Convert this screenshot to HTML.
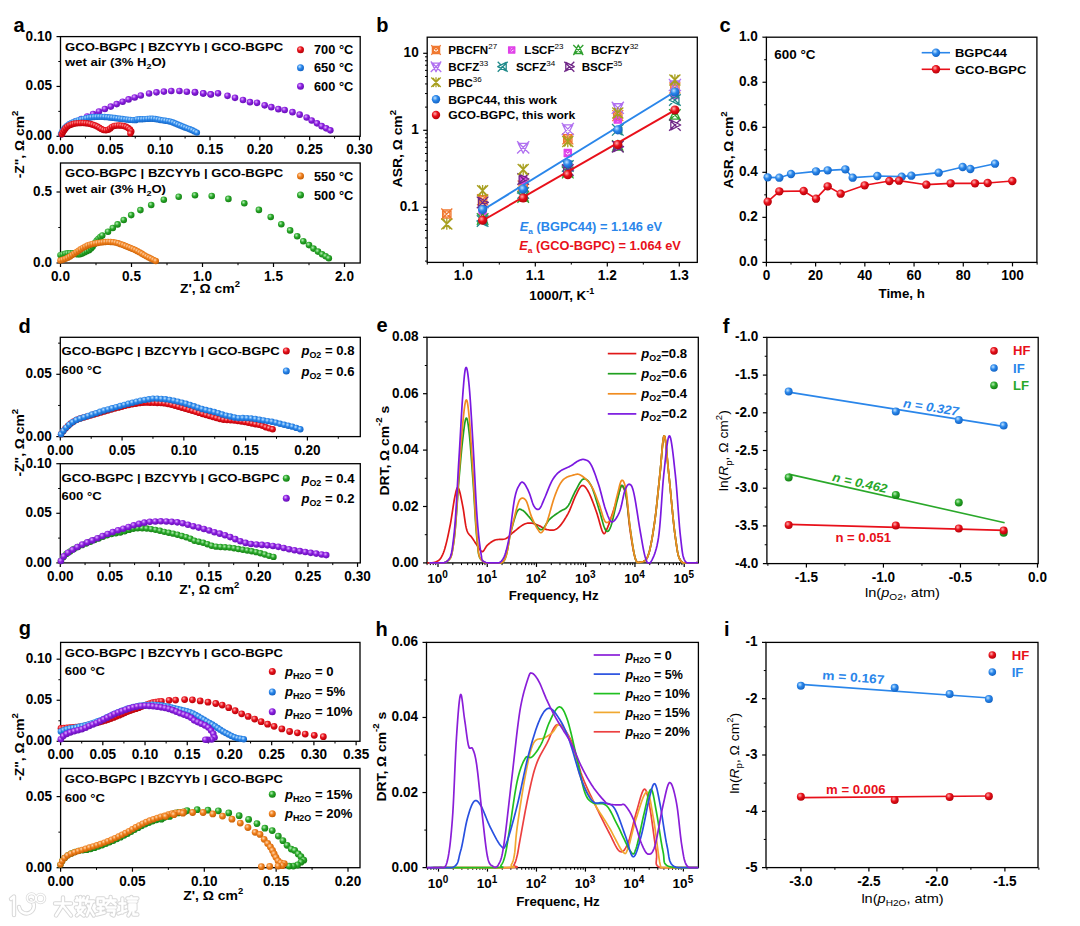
<!DOCTYPE html>
<html><head><meta charset="utf-8"><style>html,body{margin:0;padding:0;background:#fff;width:1080px;height:926px;overflow:hidden}svg{display:block}</style></head>
<body><svg width="1080" height="926" viewBox="0 0 1080 926" font-family="'Liberation Sans', sans-serif">
<rect width="1080" height="926" fill="#fff"/>
<defs><radialGradient id="g_red" cx="0.38" cy="0.35" r="0.7"><stop offset="0" stop-color="#ffb0b0"/><stop offset="0.45" stop-color="#e8101a"/><stop offset="1" stop-color="#b00008"/></radialGradient><radialGradient id="g_blue" cx="0.38" cy="0.35" r="0.7"><stop offset="0" stop-color="#c0e4ff"/><stop offset="0.45" stop-color="#2a86ea"/><stop offset="1" stop-color="#1060c0"/></radialGradient><radialGradient id="g_purple" cx="0.38" cy="0.35" r="0.7"><stop offset="0" stop-color="#e0b0ff"/><stop offset="0.45" stop-color="#8c1ee0"/><stop offset="1" stop-color="#6010b0"/></radialGradient><radialGradient id="g_green" cx="0.38" cy="0.35" r="0.7"><stop offset="0" stop-color="#b8f0b8"/><stop offset="0.45" stop-color="#2aa82a"/><stop offset="1" stop-color="#107a10"/></radialGradient><radialGradient id="g_orange" cx="0.38" cy="0.35" r="0.7"><stop offset="0" stop-color="#ffd8b0"/><stop offset="0.45" stop-color="#f0801e"/><stop offset="1" stop-color="#c05a00"/></radialGradient></defs>
<text transform="translate(13.50 32.00)" font-size="20" text-anchor="start" font-weight="bold" fill="#000">a</text>
<rect x="60.5" y="36.6" width="299.7" height="99.70000000000002" fill="none" stroke="#000" stroke-width="1.3"/>
<line x1="60.50" y1="136.3" x2="60.50" y2="140.3" stroke="#000" stroke-width="1.2"/>
<text transform="translate(60.50 154.30) scale(0.97 1)" font-size="14" text-anchor="middle" font-weight="bold" fill="#000">0.00</text>
<line x1="110.33" y1="136.3" x2="110.33" y2="140.3" stroke="#000" stroke-width="1.2"/>
<text transform="translate(110.33 154.30) scale(0.97 1)" font-size="14" text-anchor="middle" font-weight="bold" fill="#000">0.05</text>
<line x1="160.17" y1="136.3" x2="160.17" y2="140.3" stroke="#000" stroke-width="1.2"/>
<text transform="translate(160.17 154.30) scale(0.97 1)" font-size="14" text-anchor="middle" font-weight="bold" fill="#000">0.10</text>
<line x1="210.00" y1="136.3" x2="210.00" y2="140.3" stroke="#000" stroke-width="1.2"/>
<text transform="translate(210.00 154.30) scale(0.97 1)" font-size="14" text-anchor="middle" font-weight="bold" fill="#000">0.15</text>
<line x1="259.83" y1="136.3" x2="259.83" y2="140.3" stroke="#000" stroke-width="1.2"/>
<text transform="translate(259.83 154.30) scale(0.97 1)" font-size="14" text-anchor="middle" font-weight="bold" fill="#000">0.20</text>
<line x1="309.67" y1="136.3" x2="309.67" y2="140.3" stroke="#000" stroke-width="1.2"/>
<text transform="translate(309.67 154.30) scale(0.97 1)" font-size="14" text-anchor="middle" font-weight="bold" fill="#000">0.25</text>
<line x1="359.50" y1="136.3" x2="359.50" y2="140.3" stroke="#000" stroke-width="1.2"/>
<text transform="translate(359.50 154.30) scale(0.97 1)" font-size="14" text-anchor="middle" font-weight="bold" fill="#000">0.30</text>
<line x1="85.42" y1="136.3" x2="85.42" y2="138.5" stroke="#000" stroke-width="1"/>
<line x1="135.25" y1="136.3" x2="135.25" y2="138.5" stroke="#000" stroke-width="1"/>
<line x1="185.08" y1="136.3" x2="185.08" y2="138.5" stroke="#000" stroke-width="1"/>
<line x1="234.92" y1="136.3" x2="234.92" y2="138.5" stroke="#000" stroke-width="1"/>
<line x1="284.75" y1="136.3" x2="284.75" y2="138.5" stroke="#000" stroke-width="1"/>
<line x1="334.58" y1="136.3" x2="334.58" y2="138.5" stroke="#000" stroke-width="1"/>
<line x1="60.5" y1="136.30" x2="56.5" y2="136.30" stroke="#000" stroke-width="1.2"/>
<text transform="translate(52.00 140.30) scale(0.97 1)" font-size="14" text-anchor="end" font-weight="bold" fill="#000">0.00</text>
<line x1="60.5" y1="86.45" x2="56.5" y2="86.45" stroke="#000" stroke-width="1.2"/>
<text transform="translate(52.00 90.45) scale(0.97 1)" font-size="14" text-anchor="end" font-weight="bold" fill="#000">0.05</text>
<line x1="60.5" y1="36.60" x2="56.5" y2="36.60" stroke="#000" stroke-width="1.2"/>
<text transform="translate(52.00 40.60) scale(0.97 1)" font-size="14" text-anchor="end" font-weight="bold" fill="#000">0.10</text>
<line x1="60.5" y1="111.38" x2="58.3" y2="111.38" stroke="#000" stroke-width="1"/>
<line x1="60.5" y1="61.53" x2="58.3" y2="61.53" stroke="#000" stroke-width="1"/>
<text transform="translate(65.00 50.50) scale(1.12 1)" font-size="11.7" text-anchor="start" font-weight="bold" fill="#000">GCO-BGPC | BZCYYb | GCO-BGPC</text>
<text transform="translate(65.00 66.00) scale(1.12 1)" font-size="11.7" text-anchor="start" font-weight="bold" fill="#000">wet air (3% H<tspan font-size="8" dy="3">2</tspan><tspan dy="-3">O)</tspan></text>
<circle cx="300.50" cy="49.70" r="3.5" fill="url(#g_red)"/>
<text transform="translate(314.00 54.20)" font-size="12.8" text-anchor="start" font-weight="bold" fill="#000">700 °C</text>
<circle cx="300.50" cy="67.70" r="3.5" fill="url(#g_blue)"/>
<text transform="translate(314.00 72.20)" font-size="12.8" text-anchor="start" font-weight="bold" fill="#000">650 °C</text>
<circle cx="300.50" cy="86.30" r="3.5" fill="url(#g_purple)"/>
<text transform="translate(314.00 90.80)" font-size="12.8" text-anchor="start" font-weight="bold" fill="#000">600 °C</text>
<circle cx="61.70" cy="134.30" r="3.3" fill="url(#g_purple)"/>
<circle cx="65.08" cy="128.87" r="3.3" fill="url(#g_purple)"/>
<circle cx="69.82" cy="124.63" r="3.3" fill="url(#g_purple)"/>
<circle cx="75.44" cy="121.60" r="3.3" fill="url(#g_purple)"/>
<circle cx="81.33" cy="119.09" r="3.3" fill="url(#g_purple)"/>
<circle cx="87.21" cy="116.55" r="3.3" fill="url(#g_purple)"/>
<circle cx="93.05" cy="113.95" r="3.3" fill="url(#g_purple)"/>
<circle cx="98.94" cy="111.45" r="3.3" fill="url(#g_purple)"/>
<circle cx="104.87" cy="109.03" r="3.3" fill="url(#g_purple)"/>
<circle cx="110.78" cy="106.58" r="3.3" fill="url(#g_purple)"/>
<circle cx="116.69" cy="104.11" r="3.3" fill="url(#g_purple)"/>
<circle cx="122.62" cy="101.71" r="3.3" fill="url(#g_purple)"/>
<circle cx="128.59" cy="99.40" r="3.3" fill="url(#g_purple)"/>
<circle cx="134.69" cy="97.46" r="3.3" fill="url(#g_purple)"/>
<circle cx="140.79" cy="95.53" r="3.3" fill="url(#g_purple)"/>
<circle cx="149.07" cy="93.52" r="3.3" fill="url(#g_purple)"/>
<circle cx="156.48" cy="92.33" r="3.3" fill="url(#g_purple)"/>
<circle cx="163.89" cy="91.59" r="3.3" fill="url(#g_purple)"/>
<circle cx="171.30" cy="91.00" r="3.3" fill="url(#g_purple)"/>
<circle cx="179.44" cy="91.00" r="3.3" fill="url(#g_purple)"/>
<circle cx="186.85" cy="91.74" r="3.3" fill="url(#g_purple)"/>
<circle cx="195.00" cy="92.48" r="3.3" fill="url(#g_purple)"/>
<circle cx="203.15" cy="93.52" r="3.3" fill="url(#g_purple)"/>
<circle cx="210.56" cy="94.26" r="3.3" fill="url(#g_purple)"/>
<circle cx="195.00" cy="92.17" r="3.3" fill="url(#g_purple)"/>
<circle cx="203.33" cy="93.33" r="3.3" fill="url(#g_purple)"/>
<circle cx="210.83" cy="94.50" r="3.3" fill="url(#g_purple)"/>
<circle cx="218.00" cy="93.33" r="3.3" fill="url(#g_purple)"/>
<circle cx="227.50" cy="95.83" r="3.3" fill="url(#g_purple)"/>
<circle cx="235.00" cy="97.83" r="3.3" fill="url(#g_purple)"/>
<circle cx="243.00" cy="100.00" r="3.3" fill="url(#g_purple)"/>
<circle cx="250.00" cy="102.17" r="3.3" fill="url(#g_purple)"/>
<circle cx="257.00" cy="102.83" r="3.3" fill="url(#g_purple)"/>
<circle cx="264.67" cy="105.33" r="3.3" fill="url(#g_purple)"/>
<circle cx="271.33" cy="107.17" r="3.3" fill="url(#g_purple)"/>
<circle cx="278.33" cy="109.17" r="3.3" fill="url(#g_purple)"/>
<circle cx="284.67" cy="110.00" r="3.3" fill="url(#g_purple)"/>
<circle cx="292.50" cy="112.17" r="3.3" fill="url(#g_purple)"/>
<circle cx="299.67" cy="114.67" r="3.3" fill="url(#g_purple)"/>
<circle cx="306.67" cy="117.50" r="3.3" fill="url(#g_purple)"/>
<circle cx="311.67" cy="120.50" r="3.3" fill="url(#g_purple)"/>
<circle cx="317.00" cy="123.33" r="3.3" fill="url(#g_purple)"/>
<circle cx="321.67" cy="126.17" r="3.3" fill="url(#g_purple)"/>
<circle cx="326.17" cy="128.33" r="3.3" fill="url(#g_purple)"/>
<circle cx="330.33" cy="130.33" r="3.3" fill="url(#g_purple)"/>
<circle cx="61.00" cy="134.00" r="3.2" fill="url(#g_blue)"/>
<circle cx="62.20" cy="131.70" r="3.2" fill="url(#g_blue)"/>
<circle cx="63.59" cy="129.50" r="3.2" fill="url(#g_blue)"/>
<circle cx="65.33" cy="127.57" r="3.2" fill="url(#g_blue)"/>
<circle cx="67.24" cy="125.81" r="3.2" fill="url(#g_blue)"/>
<circle cx="69.31" cy="124.23" r="3.2" fill="url(#g_blue)"/>
<circle cx="71.55" cy="122.91" r="3.2" fill="url(#g_blue)"/>
<circle cx="73.91" cy="121.84" r="3.2" fill="url(#g_blue)"/>
<circle cx="76.34" cy="120.91" r="3.2" fill="url(#g_blue)"/>
<circle cx="78.81" cy="120.09" r="3.2" fill="url(#g_blue)"/>
<circle cx="81.32" cy="119.44" r="3.2" fill="url(#g_blue)"/>
<circle cx="83.86" cy="118.87" r="3.2" fill="url(#g_blue)"/>
<circle cx="86.39" cy="118.26" r="3.2" fill="url(#g_blue)"/>
<circle cx="88.92" cy="117.66" r="3.2" fill="url(#g_blue)"/>
<circle cx="91.49" cy="117.25" r="3.2" fill="url(#g_blue)"/>
<circle cx="94.08" cy="117.04" r="3.2" fill="url(#g_blue)"/>
<circle cx="96.67" cy="116.91" r="3.2" fill="url(#g_blue)"/>
<circle cx="99.27" cy="116.85" r="3.2" fill="url(#g_blue)"/>
<circle cx="101.87" cy="116.87" r="3.2" fill="url(#g_blue)"/>
<circle cx="104.47" cy="116.97" r="3.2" fill="url(#g_blue)"/>
<circle cx="107.06" cy="117.17" r="3.2" fill="url(#g_blue)"/>
<circle cx="109.65" cy="117.45" r="3.2" fill="url(#g_blue)"/>
<circle cx="112.23" cy="117.76" r="3.2" fill="url(#g_blue)"/>
<circle cx="114.81" cy="118.06" r="3.2" fill="url(#g_blue)"/>
<circle cx="117.39" cy="118.38" r="3.2" fill="url(#g_blue)"/>
<circle cx="119.97" cy="118.72" r="3.2" fill="url(#g_blue)"/>
<circle cx="122.55" cy="119.06" r="3.2" fill="url(#g_blue)"/>
<circle cx="125.13" cy="119.37" r="3.2" fill="url(#g_blue)"/>
<circle cx="127.71" cy="119.64" r="3.2" fill="url(#g_blue)"/>
<circle cx="130.30" cy="119.89" r="3.2" fill="url(#g_blue)"/>
<circle cx="132.89" cy="120.10" r="3.2" fill="url(#g_blue)"/>
<circle cx="135.49" cy="120.17" r="3.2" fill="url(#g_blue)"/>
<circle cx="136.98" cy="119.35" r="3.2" fill="url(#g_blue)"/>
<circle cx="139.58" cy="119.27" r="3.2" fill="url(#g_blue)"/>
<circle cx="142.18" cy="119.21" r="3.2" fill="url(#g_blue)"/>
<circle cx="144.78" cy="119.10" r="3.2" fill="url(#g_blue)"/>
<circle cx="147.37" cy="118.89" r="3.2" fill="url(#g_blue)"/>
<circle cx="149.96" cy="118.71" r="3.2" fill="url(#g_blue)"/>
<circle cx="152.56" cy="118.69" r="3.2" fill="url(#g_blue)"/>
<circle cx="155.14" cy="118.96" r="3.2" fill="url(#g_blue)"/>
<circle cx="157.70" cy="119.42" r="3.2" fill="url(#g_blue)"/>
<circle cx="160.25" cy="119.93" r="3.2" fill="url(#g_blue)"/>
<circle cx="162.82" cy="120.36" r="3.2" fill="url(#g_blue)"/>
<circle cx="165.39" cy="120.72" r="3.2" fill="url(#g_blue)"/>
<circle cx="167.96" cy="121.11" r="3.2" fill="url(#g_blue)"/>
<circle cx="170.50" cy="121.65" r="3.2" fill="url(#g_blue)"/>
<circle cx="172.97" cy="122.48" r="3.2" fill="url(#g_blue)"/>
<circle cx="175.36" cy="123.50" r="3.2" fill="url(#g_blue)"/>
<circle cx="177.74" cy="124.54" r="3.2" fill="url(#g_blue)"/>
<circle cx="180.15" cy="125.51" r="3.2" fill="url(#g_blue)"/>
<circle cx="182.56" cy="126.48" r="3.2" fill="url(#g_blue)"/>
<circle cx="184.98" cy="127.44" r="3.2" fill="url(#g_blue)"/>
<circle cx="187.42" cy="128.35" r="3.2" fill="url(#g_blue)"/>
<circle cx="189.86" cy="129.23" r="3.2" fill="url(#g_blue)"/>
<circle cx="192.25" cy="130.25" r="3.2" fill="url(#g_blue)"/>
<circle cx="194.58" cy="131.41" r="3.2" fill="url(#g_blue)"/>
<circle cx="196.89" cy="132.61" r="3.2" fill="url(#g_blue)"/>
<circle cx="61.70" cy="134.30" r="3.2" fill="url(#g_red)"/>
<circle cx="62.91" cy="132.23" r="3.2" fill="url(#g_red)"/>
<circle cx="64.14" cy="130.17" r="3.2" fill="url(#g_red)"/>
<circle cx="65.54" cy="128.22" r="3.2" fill="url(#g_red)"/>
<circle cx="67.29" cy="126.59" r="3.2" fill="url(#g_red)"/>
<circle cx="69.35" cy="125.36" r="3.2" fill="url(#g_red)"/>
<circle cx="71.57" cy="124.45" r="3.2" fill="url(#g_red)"/>
<circle cx="73.87" cy="123.78" r="3.2" fill="url(#g_red)"/>
<circle cx="76.23" cy="123.37" r="3.2" fill="url(#g_red)"/>
<circle cx="78.62" cy="123.14" r="3.2" fill="url(#g_red)"/>
<circle cx="81.02" cy="123.04" r="3.2" fill="url(#g_red)"/>
<circle cx="83.42" cy="123.05" r="3.2" fill="url(#g_red)"/>
<circle cx="85.82" cy="123.18" r="3.2" fill="url(#g_red)"/>
<circle cx="88.20" cy="123.48" r="3.2" fill="url(#g_red)"/>
<circle cx="90.54" cy="124.00" r="3.2" fill="url(#g_red)"/>
<circle cx="92.84" cy="124.69" r="3.2" fill="url(#g_red)"/>
<circle cx="95.09" cy="125.52" r="3.2" fill="url(#g_red)"/>
<circle cx="97.29" cy="126.47" r="3.2" fill="url(#g_red)"/>
<circle cx="99.35" cy="127.70" r="3.2" fill="url(#g_red)"/>
<circle cx="101.38" cy="128.99" r="3.2" fill="url(#g_red)"/>
<circle cx="103.57" cy="129.94" r="3.2" fill="url(#g_red)"/>
<circle cx="105.94" cy="130.26" r="3.2" fill="url(#g_red)"/>
<circle cx="108.29" cy="129.80" r="3.2" fill="url(#g_red)"/>
<circle cx="110.23" cy="128.43" r="3.2" fill="url(#g_red)"/>
<circle cx="112.04" cy="126.85" r="3.2" fill="url(#g_red)"/>
<circle cx="114.23" cy="125.91" r="3.2" fill="url(#g_red)"/>
<circle cx="116.60" cy="125.60" r="3.2" fill="url(#g_red)"/>
<circle cx="119.00" cy="125.54" r="3.2" fill="url(#g_red)"/>
<circle cx="121.40" cy="125.67" r="3.2" fill="url(#g_red)"/>
<circle cx="123.76" cy="126.06" r="3.2" fill="url(#g_red)"/>
<circle cx="126.04" cy="126.81" r="3.2" fill="url(#g_red)"/>
<circle cx="128.15" cy="127.95" r="3.2" fill="url(#g_red)"/>
<circle cx="130.00" cy="129.47" r="3.2" fill="url(#g_red)"/>
<circle cx="131.33" cy="131.44" r="3.2" fill="url(#g_red)"/>
<circle cx="130.37" cy="133.56" r="3.2" fill="url(#g_red)"/>
<rect x="60.5" y="163.0" width="299.7" height="100.0" fill="none" stroke="#000" stroke-width="1.3"/>
<line x1="60.50" y1="263.0" x2="60.50" y2="267.0" stroke="#000" stroke-width="1.2"/>
<text transform="translate(60.50 281.00) scale(0.97 1)" font-size="14" text-anchor="middle" font-weight="bold" fill="#000">0.0</text>
<line x1="131.50" y1="263.0" x2="131.50" y2="267.0" stroke="#000" stroke-width="1.2"/>
<text transform="translate(131.50 281.00) scale(0.97 1)" font-size="14" text-anchor="middle" font-weight="bold" fill="#000">0.5</text>
<line x1="202.50" y1="263.0" x2="202.50" y2="267.0" stroke="#000" stroke-width="1.2"/>
<text transform="translate(202.50 281.00) scale(0.97 1)" font-size="14" text-anchor="middle" font-weight="bold" fill="#000">1.0</text>
<line x1="273.50" y1="263.0" x2="273.50" y2="267.0" stroke="#000" stroke-width="1.2"/>
<text transform="translate(273.50 281.00) scale(0.97 1)" font-size="14" text-anchor="middle" font-weight="bold" fill="#000">1.5</text>
<line x1="344.50" y1="263.0" x2="344.50" y2="267.0" stroke="#000" stroke-width="1.2"/>
<text transform="translate(344.50 281.00) scale(0.97 1)" font-size="14" text-anchor="middle" font-weight="bold" fill="#000">2.0</text>
<line x1="96.00" y1="263.0" x2="96.00" y2="265.2" stroke="#000" stroke-width="1"/>
<line x1="167.00" y1="263.0" x2="167.00" y2="265.2" stroke="#000" stroke-width="1"/>
<line x1="238.00" y1="263.0" x2="238.00" y2="265.2" stroke="#000" stroke-width="1"/>
<line x1="309.00" y1="263.0" x2="309.00" y2="265.2" stroke="#000" stroke-width="1"/>
<line x1="60.5" y1="263.00" x2="56.5" y2="263.00" stroke="#000" stroke-width="1.2"/>
<text transform="translate(52.00 267.00) scale(0.97 1)" font-size="14" text-anchor="end" font-weight="bold" fill="#000">0.0</text>
<line x1="60.5" y1="192.00" x2="56.5" y2="192.00" stroke="#000" stroke-width="1.2"/>
<text transform="translate(52.00 196.00) scale(0.97 1)" font-size="14" text-anchor="end" font-weight="bold" fill="#000">0.5</text>
<line x1="60.5" y1="227.50" x2="58.3" y2="227.50" stroke="#000" stroke-width="1"/>
<text transform="translate(65.00 177.00) scale(1.12 1)" font-size="11.7" text-anchor="start" font-weight="bold" fill="#000">GCO-BGPC | BZCYYb | GCO-BGPC</text>
<text transform="translate(65.00 193.00) scale(1.12 1)" font-size="11.7" text-anchor="start" font-weight="bold" fill="#000">wet air (3% H<tspan font-size="8" dy="3">2</tspan><tspan dy="-3">O)</tspan></text>
<circle cx="300.50" cy="176.00" r="3.5" fill="url(#g_orange)"/>
<text transform="translate(314.00 180.50)" font-size="12.8" text-anchor="start" font-weight="bold" fill="#000">550 °C</text>
<circle cx="300.50" cy="195.00" r="3.5" fill="url(#g_green)"/>
<text transform="translate(314.00 199.50)" font-size="12.8" text-anchor="start" font-weight="bold" fill="#000">500 °C</text>
<circle cx="60.40" cy="255.10" r="3.2" fill="url(#g_green)"/>
<circle cx="62.79" cy="254.36" r="3.2" fill="url(#g_green)"/>
<circle cx="65.19" cy="253.68" r="3.2" fill="url(#g_green)"/>
<circle cx="67.65" cy="253.22" r="3.2" fill="url(#g_green)"/>
<circle cx="70.14" cy="253.11" r="3.2" fill="url(#g_green)"/>
<circle cx="72.64" cy="253.26" r="3.2" fill="url(#g_green)"/>
<circle cx="75.08" cy="253.77" r="3.2" fill="url(#g_green)"/>
<circle cx="77.49" cy="254.42" r="3.2" fill="url(#g_green)"/>
<circle cx="79.97" cy="254.33" r="3.2" fill="url(#g_green)"/>
<circle cx="82.31" cy="253.45" r="3.2" fill="url(#g_green)"/>
<circle cx="84.54" cy="252.33" r="3.2" fill="url(#g_green)"/>
<circle cx="86.80" cy="251.27" r="3.2" fill="url(#g_green)"/>
<circle cx="89.03" cy="250.13" r="3.2" fill="url(#g_green)"/>
<circle cx="91.00" cy="248.60" r="3.2" fill="url(#g_green)"/>
<circle cx="92.60" cy="246.68" r="3.2" fill="url(#g_green)"/>
<circle cx="93.98" cy="244.60" r="3.2" fill="url(#g_green)"/>
<circle cx="95.34" cy="242.50" r="3.2" fill="url(#g_green)"/>
<circle cx="96.79" cy="240.47" r="3.2" fill="url(#g_green)"/>
<circle cx="98.50" cy="238.64" r="3.2" fill="url(#g_green)"/>
<circle cx="100.36" cy="236.97" r="3.2" fill="url(#g_green)"/>
<circle cx="102.29" cy="235.38" r="3.2" fill="url(#g_green)"/>
<circle cx="108.00" cy="231.70" r="3.3" fill="url(#g_green)"/>
<circle cx="112.80" cy="228.00" r="3.3" fill="url(#g_green)"/>
<circle cx="117.60" cy="224.40" r="3.3" fill="url(#g_green)"/>
<circle cx="123.70" cy="220.00" r="3.3" fill="url(#g_green)"/>
<circle cx="131.20" cy="215.10" r="3.3" fill="url(#g_green)"/>
<circle cx="140.40" cy="210.10" r="3.3" fill="url(#g_green)"/>
<circle cx="151.20" cy="205.00" r="3.3" fill="url(#g_green)"/>
<circle cx="163.80" cy="199.70" r="3.3" fill="url(#g_green)"/>
<circle cx="178.70" cy="196.80" r="3.3" fill="url(#g_green)"/>
<circle cx="195.00" cy="195.20" r="3.3" fill="url(#g_green)"/>
<circle cx="211.70" cy="196.00" r="3.3" fill="url(#g_green)"/>
<circle cx="228.40" cy="198.90" r="3.3" fill="url(#g_green)"/>
<circle cx="244.30" cy="203.30" r="3.3" fill="url(#g_green)"/>
<circle cx="258.90" cy="209.90" r="3.3" fill="url(#g_green)"/>
<circle cx="270.70" cy="217.00" r="3.3" fill="url(#g_green)"/>
<circle cx="281.30" cy="224.30" r="3.3" fill="url(#g_green)"/>
<circle cx="290.10" cy="230.40" r="3.3" fill="url(#g_green)"/>
<circle cx="297.20" cy="236.30" r="3.3" fill="url(#g_green)"/>
<circle cx="303.30" cy="241.20" r="3.3" fill="url(#g_green)"/>
<circle cx="309.00" cy="245.10" r="3.3" fill="url(#g_green)"/>
<circle cx="313.50" cy="248.60" r="3.3" fill="url(#g_green)"/>
<circle cx="318.00" cy="251.60" r="3.3" fill="url(#g_green)"/>
<circle cx="322.10" cy="254.30" r="3.3" fill="url(#g_green)"/>
<circle cx="325.70" cy="256.30" r="3.3" fill="url(#g_green)"/>
<circle cx="328.80" cy="258.30" r="3.3" fill="url(#g_green)"/>
<circle cx="60.42" cy="260.54" r="3.2" fill="url(#g_orange)"/>
<circle cx="62.88" cy="259.72" r="3.2" fill="url(#g_orange)"/>
<circle cx="65.33" cy="258.85" r="3.2" fill="url(#g_orange)"/>
<circle cx="67.71" cy="257.80" r="3.2" fill="url(#g_orange)"/>
<circle cx="69.97" cy="256.51" r="3.2" fill="url(#g_orange)"/>
<circle cx="72.16" cy="255.11" r="3.2" fill="url(#g_orange)"/>
<circle cx="74.32" cy="253.67" r="3.2" fill="url(#g_orange)"/>
<circle cx="76.43" cy="252.15" r="3.2" fill="url(#g_orange)"/>
<circle cx="78.56" cy="250.65" r="3.2" fill="url(#g_orange)"/>
<circle cx="80.74" cy="249.24" r="3.2" fill="url(#g_orange)"/>
<circle cx="82.95" cy="247.87" r="3.2" fill="url(#g_orange)"/>
<circle cx="85.23" cy="246.63" r="3.2" fill="url(#g_orange)"/>
<circle cx="87.60" cy="245.55" r="3.2" fill="url(#g_orange)"/>
<circle cx="90.03" cy="244.64" r="3.2" fill="url(#g_orange)"/>
<circle cx="92.53" cy="243.92" r="3.2" fill="url(#g_orange)"/>
<circle cx="95.08" cy="243.43" r="3.2" fill="url(#g_orange)"/>
<circle cx="97.65" cy="243.00" r="3.2" fill="url(#g_orange)"/>
<circle cx="100.22" cy="242.61" r="3.2" fill="url(#g_orange)"/>
<circle cx="102.80" cy="242.29" r="3.2" fill="url(#g_orange)"/>
<circle cx="105.38" cy="242.04" r="3.2" fill="url(#g_orange)"/>
<circle cx="107.98" cy="241.89" r="3.2" fill="url(#g_orange)"/>
<circle cx="110.58" cy="241.94" r="3.2" fill="url(#g_orange)"/>
<circle cx="113.17" cy="242.17" r="3.2" fill="url(#g_orange)"/>
<circle cx="115.73" cy="242.61" r="3.2" fill="url(#g_orange)"/>
<circle cx="118.24" cy="243.30" r="3.2" fill="url(#g_orange)"/>
<circle cx="120.70" cy="244.13" r="3.2" fill="url(#g_orange)"/>
<circle cx="123.14" cy="245.03" r="3.2" fill="url(#g_orange)"/>
<circle cx="125.54" cy="246.02" r="3.2" fill="url(#g_orange)"/>
<circle cx="127.95" cy="247.00" r="3.2" fill="url(#g_orange)"/>
<circle cx="130.38" cy="247.93" r="3.2" fill="url(#g_orange)"/>
<circle cx="132.78" cy="248.92" r="3.2" fill="url(#g_orange)"/>
<circle cx="135.14" cy="250.01" r="3.2" fill="url(#g_orange)"/>
<circle cx="137.47" cy="251.17" r="3.2" fill="url(#g_orange)"/>
<circle cx="139.75" cy="252.41" r="3.2" fill="url(#g_orange)"/>
<circle cx="141.98" cy="253.76" r="3.2" fill="url(#g_orange)"/>
<circle cx="144.19" cy="255.12" r="3.2" fill="url(#g_orange)"/>
<circle cx="146.47" cy="256.37" r="3.2" fill="url(#g_orange)"/>
<circle cx="148.80" cy="257.53" r="3.2" fill="url(#g_orange)"/>
<circle cx="151.13" cy="258.67" r="3.2" fill="url(#g_orange)"/>
<circle cx="153.46" cy="259.83" r="3.2" fill="url(#g_orange)"/>
<circle cx="155.79" cy="260.99" r="3.2" fill="url(#g_orange)"/>
<text transform="translate(24.30 144.50) scale(1.04 1) rotate(-90) scale(1.065 1)" font-size="13" text-anchor="middle" font-weight="bold" fill="#000">-Z", Ω cm<tspan font-size="9" dy="-6">2</tspan></text>
<text transform="translate(210.00 293.00) scale(1.05 1)" font-size="13.3" text-anchor="middle" font-weight="bold" fill="#000">Z', Ω cm<tspan font-size='9' dy='-6'>2</tspan></text>
<text transform="translate(376.20 31.50)" font-size="20" text-anchor="start" font-weight="bold" fill="#000">b</text>
<rect x="427.2" y="37.2" width="270.09999999999997" height="225.2" fill="none" stroke="#000" stroke-width="1.3"/>
<line x1="463.30" y1="262.4" x2="463.30" y2="266.4" stroke="#000" stroke-width="1.2"/>
<text transform="translate(463.30 280.40) scale(0.97 1)" font-size="14" text-anchor="middle" font-weight="bold" fill="#000">1.0</text>
<line x1="535.30" y1="262.4" x2="535.30" y2="266.4" stroke="#000" stroke-width="1.2"/>
<text transform="translate(535.30 280.40) scale(0.97 1)" font-size="14" text-anchor="middle" font-weight="bold" fill="#000">1.1</text>
<line x1="607.30" y1="262.4" x2="607.30" y2="266.4" stroke="#000" stroke-width="1.2"/>
<text transform="translate(607.30 280.40) scale(0.97 1)" font-size="14" text-anchor="middle" font-weight="bold" fill="#000">1.2</text>
<line x1="679.30" y1="262.4" x2="679.30" y2="266.4" stroke="#000" stroke-width="1.2"/>
<text transform="translate(679.30 280.40) scale(0.97 1)" font-size="14" text-anchor="middle" font-weight="bold" fill="#000">1.3</text>
<line x1="427.30" y1="262.4" x2="427.30" y2="264.59999999999997" stroke="#000" stroke-width="1"/>
<line x1="499.30" y1="262.4" x2="499.30" y2="264.59999999999997" stroke="#000" stroke-width="1"/>
<line x1="571.30" y1="262.4" x2="571.30" y2="264.59999999999997" stroke="#000" stroke-width="1"/>
<line x1="643.30" y1="262.4" x2="643.30" y2="264.59999999999997" stroke="#000" stroke-width="1"/>
<line x1="427.2" y1="207.30" x2="423.2" y2="207.30" stroke="#000" stroke-width="1.2"/>
<text transform="translate(418.70 211.30) scale(0.97 1)" font-size="14" text-anchor="end" font-weight="bold" fill="#000">0.1</text>
<line x1="427.2" y1="130.30" x2="423.2" y2="130.30" stroke="#000" stroke-width="1.2"/>
<text transform="translate(418.70 134.30) scale(0.97 1)" font-size="14" text-anchor="end" font-weight="bold" fill="#000">1</text>
<line x1="427.2" y1="53.30" x2="423.2" y2="53.30" stroke="#000" stroke-width="1.2"/>
<text transform="translate(418.70 57.30) scale(0.97 1)" font-size="14" text-anchor="end" font-weight="bold" fill="#000">10</text>
<line x1="427.2" y1="261.12" x2="425.0" y2="261.12" stroke="#000" stroke-width="1"/>
<line x1="427.2" y1="247.56" x2="425.0" y2="247.56" stroke="#000" stroke-width="1"/>
<line x1="427.2" y1="237.94" x2="425.0" y2="237.94" stroke="#000" stroke-width="1"/>
<line x1="427.2" y1="230.48" x2="425.0" y2="230.48" stroke="#000" stroke-width="1"/>
<line x1="427.2" y1="224.38" x2="425.0" y2="224.38" stroke="#000" stroke-width="1"/>
<line x1="427.2" y1="219.23" x2="425.0" y2="219.23" stroke="#000" stroke-width="1"/>
<line x1="427.2" y1="214.76" x2="425.0" y2="214.76" stroke="#000" stroke-width="1"/>
<line x1="427.2" y1="210.82" x2="425.0" y2="210.82" stroke="#000" stroke-width="1"/>
<line x1="427.2" y1="184.12" x2="425.0" y2="184.12" stroke="#000" stroke-width="1"/>
<line x1="427.2" y1="170.56" x2="425.0" y2="170.56" stroke="#000" stroke-width="1"/>
<line x1="427.2" y1="160.94" x2="425.0" y2="160.94" stroke="#000" stroke-width="1"/>
<line x1="427.2" y1="153.48" x2="425.0" y2="153.48" stroke="#000" stroke-width="1"/>
<line x1="427.2" y1="147.38" x2="425.0" y2="147.38" stroke="#000" stroke-width="1"/>
<line x1="427.2" y1="142.23" x2="425.0" y2="142.23" stroke="#000" stroke-width="1"/>
<line x1="427.2" y1="137.76" x2="425.0" y2="137.76" stroke="#000" stroke-width="1"/>
<line x1="427.2" y1="133.82" x2="425.0" y2="133.82" stroke="#000" stroke-width="1"/>
<line x1="427.2" y1="107.12" x2="425.0" y2="107.12" stroke="#000" stroke-width="1"/>
<line x1="427.2" y1="93.56" x2="425.0" y2="93.56" stroke="#000" stroke-width="1"/>
<line x1="427.2" y1="83.94" x2="425.0" y2="83.94" stroke="#000" stroke-width="1"/>
<line x1="427.2" y1="76.48" x2="425.0" y2="76.48" stroke="#000" stroke-width="1"/>
<line x1="427.2" y1="70.38" x2="425.0" y2="70.38" stroke="#000" stroke-width="1"/>
<line x1="427.2" y1="65.23" x2="425.0" y2="65.23" stroke="#000" stroke-width="1"/>
<line x1="427.2" y1="60.76" x2="425.0" y2="60.76" stroke="#000" stroke-width="1"/>
<line x1="427.2" y1="56.82" x2="425.0" y2="56.82" stroke="#000" stroke-width="1"/>
<path d="M441.29,208.49 L452.31,219.51 M452.31,208.49 L441.29,219.51 M442.62,209.82 h8.35 v8.35 h-8.35 Z" fill="none" stroke="#f07830" stroke-width="1.3" stroke-linejoin="round"/><circle cx="446.80" cy="214.00" r="3.13" fill="none" stroke="#f07830" stroke-width="1.2"/>
<path d="M477.09,194.29 L488.11,205.31 M488.11,194.29 L477.09,205.31 M478.42,195.62 h8.35 v8.35 h-8.35 Z" fill="none" stroke="#f07830" stroke-width="1.3" stroke-linejoin="round"/><circle cx="482.60" cy="199.80" r="3.13" fill="none" stroke="#f07830" stroke-width="1.2"/>
<path d="M517.69,180.49 L528.71,191.51 M528.71,180.49 L517.69,191.51 M519.02,181.82 h8.35 v8.35 h-8.35 Z" fill="none" stroke="#f07830" stroke-width="1.3" stroke-linejoin="round"/><circle cx="523.20" cy="186.00" r="3.13" fill="none" stroke="#f07830" stroke-width="1.2"/>
<path d="M562.29,133.39 L573.31,144.41 M573.31,133.39 L562.29,144.41 M563.62,134.72 h8.35 v8.35 h-8.35 Z" fill="none" stroke="#f07830" stroke-width="1.3" stroke-linejoin="round"/><circle cx="567.80" cy="138.90" r="3.13" fill="none" stroke="#f07830" stroke-width="1.2"/>
<path d="M612.29,110.09 L623.31,121.11 M623.31,110.09 L612.29,121.11 M613.62,111.42 h8.35 v8.35 h-8.35 Z" fill="none" stroke="#f07830" stroke-width="1.3" stroke-linejoin="round"/><circle cx="617.80" cy="115.60" r="3.13" fill="none" stroke="#f07830" stroke-width="1.2"/>
<path d="M669.39,82.49 L680.41,93.51 M680.41,82.49 L669.39,93.51 M670.72,83.82 h8.35 v8.35 h-8.35 Z" fill="none" stroke="#f07830" stroke-width="1.3" stroke-linejoin="round"/><circle cx="674.90" cy="88.00" r="3.13" fill="none" stroke="#f07830" stroke-width="1.2"/>
<path d="M478.54,206.94 L486.66,215.06 M486.66,206.94 L478.54,215.06 M479.00,207.40 h7.19 v7.19 h-7.19 Z" fill="none" stroke="#e040e8" stroke-width="1.3" stroke-linejoin="round"/><circle cx="482.60" cy="211.00" r="2.70" fill="none" stroke="#e040e8" stroke-width="1.2"/>
<path d="M519.14,175.94 L527.26,184.06 M527.26,175.94 L519.14,184.06 M519.60,176.40 h7.19 v7.19 h-7.19 Z" fill="none" stroke="#e040e8" stroke-width="1.3" stroke-linejoin="round"/><circle cx="523.20" cy="180.00" r="2.70" fill="none" stroke="#e040e8" stroke-width="1.2"/>
<path d="M563.74,148.94 L571.86,157.06 M571.86,148.94 L563.74,157.06 M564.20,149.40 h7.19 v7.19 h-7.19 Z" fill="none" stroke="#e040e8" stroke-width="1.3" stroke-linejoin="round"/><circle cx="567.80" cy="153.00" r="2.70" fill="none" stroke="#e040e8" stroke-width="1.2"/>
<path d="M613.74,115.34 L621.86,123.46 M621.86,115.34 L613.74,123.46 M614.20,115.80 h7.19 v7.19 h-7.19 Z" fill="none" stroke="#e040e8" stroke-width="1.3" stroke-linejoin="round"/><circle cx="617.80" cy="119.40" r="2.70" fill="none" stroke="#e040e8" stroke-width="1.2"/>
<path d="M670.84,90.94 L678.96,99.06 M678.96,90.94 L670.84,99.06 M671.30,91.40 h7.19 v7.19 h-7.19 Z" fill="none" stroke="#e040e8" stroke-width="1.3" stroke-linejoin="round"/><circle cx="674.90" cy="95.00" r="2.70" fill="none" stroke="#e040e8" stroke-width="1.2"/>
<path d="M476.80,213.20 L488.40,224.80 M488.40,213.20 L476.80,224.80 M482.60,213.20 L487.53,223.06 L477.67,223.06 Z" fill="none" stroke="#30a030" stroke-width="1.3" stroke-linejoin="round"/>
<path d="M517.40,191.20 L529.00,202.80 M529.00,191.20 L517.40,202.80 M523.20,191.20 L528.13,201.06 L518.27,201.06 Z" fill="none" stroke="#30a030" stroke-width="1.3" stroke-linejoin="round"/>
<path d="M562.00,166.80 L573.60,178.40 M573.60,166.80 L562.00,178.40 M567.80,166.80 L572.73,176.66 L562.87,176.66 Z" fill="none" stroke="#30a030" stroke-width="1.3" stroke-linejoin="round"/>
<path d="M612.00,140.20 L623.60,151.80 M623.60,140.20 L612.00,151.80 M617.80,140.20 L622.73,150.06 L612.87,150.06 Z" fill="none" stroke="#30a030" stroke-width="1.3" stroke-linejoin="round"/>
<path d="M669.10,109.20 L680.70,120.80 M680.70,109.20 L669.10,120.80 M674.90,109.20 L679.83,119.06 L669.97,119.06 Z" fill="none" stroke="#30a030" stroke-width="1.3" stroke-linejoin="round"/>
<path d="M517.11,141.31 L529.29,153.49 M529.29,141.31 L517.11,153.49 M523.20,153.20 L528.13,143.34 L518.27,143.34 Z" fill="none" stroke="#b070f0" stroke-width="1.3" stroke-linejoin="round"/>
<path d="M561.71,122.91 L573.89,135.09 M573.89,122.91 L561.71,135.09 M567.80,134.80 L572.73,124.94 L562.87,124.94 Z" fill="none" stroke="#b070f0" stroke-width="1.3" stroke-linejoin="round"/>
<path d="M611.71,101.71 L623.89,113.89 M623.89,101.71 L611.71,113.89 M617.80,113.60 L622.73,103.74 L612.87,103.74 Z" fill="none" stroke="#b070f0" stroke-width="1.3" stroke-linejoin="round"/>
<path d="M668.81,78.91 L680.99,91.09 M680.99,78.91 L668.81,91.09 M674.90,90.80 L679.83,80.94 L669.97,80.94 Z" fill="none" stroke="#b070f0" stroke-width="1.3" stroke-linejoin="round"/>
<path d="M476.80,215.20 L488.40,226.80 M488.40,215.20 L476.80,226.80 M476.80,221.00 L486.66,216.07 L486.66,225.93 Z" fill="none" stroke="#208a8a" stroke-width="1.3" stroke-linejoin="round"/>
<path d="M517.40,187.20 L529.00,198.80 M529.00,187.20 L517.40,198.80 M517.40,193.00 L527.26,188.07 L527.26,197.93 Z" fill="none" stroke="#208a8a" stroke-width="1.3" stroke-linejoin="round"/>
<path d="M562.00,160.20 L573.60,171.80 M573.60,160.20 L562.00,171.80 M562.00,166.00 L571.86,161.07 L571.86,170.93 Z" fill="none" stroke="#208a8a" stroke-width="1.3" stroke-linejoin="round"/>
<path d="M612.00,124.00 L623.60,135.60 M623.60,124.00 L612.00,135.60 M612.00,129.80 L621.86,124.87 L621.86,134.73 Z" fill="none" stroke="#208a8a" stroke-width="1.3" stroke-linejoin="round"/>
<path d="M669.10,94.20 L680.70,105.80 M680.70,94.20 L669.10,105.80 M669.10,100.00 L678.96,95.07 L678.96,104.93 Z" fill="none" stroke="#208a8a" stroke-width="1.3" stroke-linejoin="round"/>
<path d="M476.80,196.60 L488.40,208.20 M488.40,196.60 L476.80,208.20 M488.40,202.40 L478.54,197.47 L478.54,207.33 Z" fill="none" stroke="#702888" stroke-width="1.3" stroke-linejoin="round"/>
<path d="M517.40,173.20 L529.00,184.80 M529.00,173.20 L517.40,184.80 M529.00,179.00 L519.14,174.07 L519.14,183.93 Z" fill="none" stroke="#702888" stroke-width="1.3" stroke-linejoin="round"/>
<path d="M562.00,164.20 L573.60,175.80 M573.60,164.20 L562.00,175.80 M573.60,170.00 L563.74,165.07 L563.74,174.93 Z" fill="none" stroke="#702888" stroke-width="1.3" stroke-linejoin="round"/>
<path d="M612.00,140.90 L623.60,152.50 M623.60,140.90 L612.00,152.50 M623.60,146.70 L613.74,141.77 L613.74,151.63 Z" fill="none" stroke="#702888" stroke-width="1.3" stroke-linejoin="round"/>
<path d="M669.10,119.20 L680.70,130.80 M680.70,119.20 L669.10,130.80 M680.70,125.00 L670.84,120.07 L670.84,129.93 Z" fill="none" stroke="#702888" stroke-width="1.3" stroke-linejoin="round"/>
<path d="M441.29,218.49 L452.31,229.51 M452.31,218.49 L441.29,229.51 M446.80,218.20 L446.80,229.80 M443.32,218.78 L450.28,229.22 M450.28,218.78 L443.32,229.22" fill="none" stroke="#a8a020" stroke-width="1.3" stroke-linejoin="round"/>
<path d="M477.09,185.19 L488.11,196.21 M488.11,185.19 L477.09,196.21 M482.60,184.90 L482.60,196.50 M479.12,185.48 L486.08,195.92 M486.08,185.48 L479.12,195.92" fill="none" stroke="#a8a020" stroke-width="1.3" stroke-linejoin="round"/>
<path d="M517.69,163.99 L528.71,175.01 M528.71,163.99 L517.69,175.01 M523.20,163.70 L523.20,175.30 M519.72,164.28 L526.68,174.72 M526.68,164.28 L519.72,174.72" fill="none" stroke="#a8a020" stroke-width="1.3" stroke-linejoin="round"/>
<path d="M562.29,135.99 L573.31,147.01 M573.31,135.99 L562.29,147.01 M567.80,135.70 L567.80,147.30 M564.32,136.28 L571.28,146.72 M571.28,136.28 L564.32,146.72" fill="none" stroke="#a8a020" stroke-width="1.3" stroke-linejoin="round"/>
<path d="M612.29,107.49 L623.31,118.51 M623.31,107.49 L612.29,118.51 M617.80,107.20 L617.80,118.80 M614.32,107.78 L621.28,118.22 M621.28,107.78 L614.32,118.22" fill="none" stroke="#a8a020" stroke-width="1.3" stroke-linejoin="round"/>
<path d="M669.39,74.49 L680.41,85.51 M680.41,74.49 L669.39,85.51 M674.90,74.20 L674.90,85.80 M671.42,74.78 L678.38,85.22 M678.38,74.78 L671.42,85.22" fill="none" stroke="#a8a020" stroke-width="1.3" stroke-linejoin="round"/>
<line x1="482.7" y1="210" x2="674.5" y2="92" stroke="#2a86ea" stroke-width="2"/>
<line x1="482.7" y1="220.5" x2="674.5" y2="110.3" stroke="#e8101a" stroke-width="2"/>
<circle cx="482.60" cy="209.50" r="4.6" fill="url(#g_blue)"/>
<circle cx="523.20" cy="189.20" r="4.6" fill="url(#g_blue)"/>
<circle cx="567.80" cy="163.50" r="4.6" fill="url(#g_blue)"/>
<circle cx="617.80" cy="129.80" r="4.6" fill="url(#g_blue)"/>
<circle cx="674.90" cy="92.00" r="4.6" fill="url(#g_blue)"/>
<circle cx="482.60" cy="220.20" r="4.6" fill="url(#g_red)"/>
<circle cx="523.20" cy="198.00" r="4.6" fill="url(#g_red)"/>
<circle cx="567.80" cy="174.70" r="4.6" fill="url(#g_red)"/>
<circle cx="617.80" cy="144.60" r="4.6" fill="url(#g_red)"/>
<circle cx="674.90" cy="110.00" r="4.6" fill="url(#g_red)"/>
<path d="M431.25,45.25 L440.75,54.75 M440.75,45.25 L431.25,54.75 M432.40,46.40 h7.20 v7.20 h-7.20 Z" fill="none" stroke="#f07830" stroke-width="1.3" stroke-linejoin="round"/><circle cx="436.00" cy="50.00" r="2.70" fill="none" stroke="#f07830" stroke-width="1.2"/>
<text transform="translate(448.30 54.20)" font-size="11.6" text-anchor="start" font-weight="bold" fill="#000">PBCFN<tspan font-size="8" dy="-5" font-weight="normal">27</tspan></text>
<path d="M508.20,46.50 L515.20,53.50 M515.20,46.50 L508.20,53.50 M508.60,46.90 h6.20 v6.20 h-6.20 Z" fill="none" stroke="#e040e8" stroke-width="1.3" stroke-linejoin="round"/><circle cx="511.70" cy="50.00" r="2.33" fill="none" stroke="#e040e8" stroke-width="1.2"/>
<text transform="translate(524.30 54.20)" font-size="11.6" text-anchor="start" font-weight="bold" fill="#000">LSCF<tspan font-size="8" dy="-5" font-weight="normal">23</tspan></text>
<path d="M573.30,45.00 L583.30,55.00 M583.30,45.00 L573.30,55.00 M578.30,45.00 L582.55,53.50 L574.05,53.50 Z" fill="none" stroke="#30a030" stroke-width="1.3" stroke-linejoin="round"/>
<text transform="translate(591.00 54.20)" font-size="11.6" text-anchor="start" font-weight="bold" fill="#000">BCFZY<tspan font-size="8" dy="-5" font-weight="normal">32</tspan></text>
<path d="M430.75,61.45 L441.25,71.95 M441.25,61.45 L430.75,71.95 M436.00,71.70 L440.25,63.20 L431.75,63.20 Z" fill="none" stroke="#b070f0" stroke-width="1.3" stroke-linejoin="round"/>
<text transform="translate(448.30 70.90)" font-size="11.6" text-anchor="start" font-weight="bold" fill="#000">BCFZ<tspan font-size="8" dy="-5" font-weight="normal">33</tspan></text>
<path d="M497.70,61.70 L507.70,71.70 M507.70,61.70 L497.70,71.70 M497.70,66.70 L506.20,62.45 L506.20,70.95 Z" fill="none" stroke="#208a8a" stroke-width="1.3" stroke-linejoin="round"/>
<text transform="translate(516.00 70.90)" font-size="11.6" text-anchor="start" font-weight="bold" fill="#000">SCFZ<tspan font-size="8" dy="-5" font-weight="normal">34</tspan></text>
<path d="M564.30,61.70 L574.30,71.70 M574.30,61.70 L564.30,71.70 M574.30,66.70 L565.80,62.45 L565.80,70.95 Z" fill="none" stroke="#702888" stroke-width="1.3" stroke-linejoin="round"/>
<text transform="translate(581.70 70.90)" font-size="11.6" text-anchor="start" font-weight="bold" fill="#000">BSCF<tspan font-size="8" dy="-5" font-weight="normal">35</tspan></text>
<path d="M431.25,77.55 L440.75,87.05 M440.75,77.55 L431.25,87.05 M436.00,77.30 L436.00,87.30 M433.00,77.80 L439.00,86.80 M439.00,77.80 L433.00,86.80" fill="none" stroke="#a8a020" stroke-width="1.3" stroke-linejoin="round"/>
<text transform="translate(448.30 86.50)" font-size="11.6" text-anchor="start" font-weight="bold" fill="#000">PBC<tspan font-size="8" dy="-5" font-weight="normal">36</tspan></text>
<circle cx="436.00" cy="99.30" r="4.2" fill="url(#g_blue)"/>
<text transform="translate(448.30 103.50) scale(1.05 1)" font-size="11.6" text-anchor="start" font-weight="bold" fill="#000">BGPC44, this work</text>
<circle cx="436.00" cy="115.00" r="4.2" fill="url(#g_red)"/>
<text transform="translate(448.30 119.20) scale(1.05 1)" font-size="11.6" text-anchor="start" font-weight="bold" fill="#000">GCO-BGPC, this work</text>
<text transform="translate(519.80 231.00) scale(1.05 1)" font-size="12.2" text-anchor="start" font-weight="bold" fill="#2a86ea"><tspan font-style="italic">E</tspan><tspan font-size="8" dy="3">a</tspan><tspan dy="-3"> (BGPC44) = 1.146 eV</tspan></text>
<text transform="translate(519.30 250.40) scale(1.05 1)" font-size="12.2" text-anchor="start" font-weight="bold" fill="#e8101a"><tspan font-style="italic">E</tspan><tspan font-size="8" dy="3">a</tspan><tspan dy="-3"> (GCO-BGPC) = 1.064 eV</tspan></text>
<text transform="translate(401.80 148.60) scale(1.04 1) rotate(-90) scale(1.065 1)" font-size="13" text-anchor="middle" font-weight="bold" fill="#000">ASR, Ω cm<tspan font-size="9" dy="-6">2</tspan></text>
<text transform="translate(561.70 300.00)" font-size="13.3" text-anchor="middle" font-weight="bold" fill="#000">1000/T, K<tspan font-size="9" dy="-6">-1</tspan></text>
<text transform="translate(719.50 31.50)" font-size="20" text-anchor="start" font-weight="bold" fill="#000">c</text>
<rect x="766.4" y="37.2" width="270.5000000000001" height="225.2" fill="none" stroke="#000" stroke-width="1.3"/>
<line x1="766.40" y1="262.4" x2="766.40" y2="266.4" stroke="#000" stroke-width="1.2"/>
<text transform="translate(766.40 280.40) scale(0.97 1)" font-size="14" text-anchor="middle" font-weight="bold" fill="#000">0</text>
<line x1="815.62" y1="262.4" x2="815.62" y2="266.4" stroke="#000" stroke-width="1.2"/>
<text transform="translate(815.62 280.40) scale(0.97 1)" font-size="14" text-anchor="middle" font-weight="bold" fill="#000">20</text>
<line x1="864.84" y1="262.4" x2="864.84" y2="266.4" stroke="#000" stroke-width="1.2"/>
<text transform="translate(864.84 280.40) scale(0.97 1)" font-size="14" text-anchor="middle" font-weight="bold" fill="#000">40</text>
<line x1="914.06" y1="262.4" x2="914.06" y2="266.4" stroke="#000" stroke-width="1.2"/>
<text transform="translate(914.06 280.40) scale(0.97 1)" font-size="14" text-anchor="middle" font-weight="bold" fill="#000">60</text>
<line x1="963.28" y1="262.4" x2="963.28" y2="266.4" stroke="#000" stroke-width="1.2"/>
<text transform="translate(963.28 280.40) scale(0.97 1)" font-size="14" text-anchor="middle" font-weight="bold" fill="#000">80</text>
<line x1="1012.50" y1="262.4" x2="1012.50" y2="266.4" stroke="#000" stroke-width="1.2"/>
<text transform="translate(1012.50 280.40) scale(0.97 1)" font-size="14" text-anchor="middle" font-weight="bold" fill="#000">100</text>
<line x1="791.01" y1="262.4" x2="791.01" y2="264.59999999999997" stroke="#000" stroke-width="1"/>
<line x1="840.23" y1="262.4" x2="840.23" y2="264.59999999999997" stroke="#000" stroke-width="1"/>
<line x1="889.45" y1="262.4" x2="889.45" y2="264.59999999999997" stroke="#000" stroke-width="1"/>
<line x1="938.67" y1="262.4" x2="938.67" y2="264.59999999999997" stroke="#000" stroke-width="1"/>
<line x1="987.89" y1="262.4" x2="987.89" y2="264.59999999999997" stroke="#000" stroke-width="1"/>
<line x1="1037.11" y1="262.4" x2="1037.11" y2="264.59999999999997" stroke="#000" stroke-width="1"/>
<line x1="766.4" y1="262.40" x2="762.4" y2="262.40" stroke="#000" stroke-width="1.2"/>
<text transform="translate(757.90 266.40) scale(0.97 1)" font-size="14" text-anchor="end" font-weight="bold" fill="#000">0.0</text>
<line x1="766.4" y1="217.36" x2="762.4" y2="217.36" stroke="#000" stroke-width="1.2"/>
<text transform="translate(757.90 221.36) scale(0.97 1)" font-size="14" text-anchor="end" font-weight="bold" fill="#000">0.2</text>
<line x1="766.4" y1="172.32" x2="762.4" y2="172.32" stroke="#000" stroke-width="1.2"/>
<text transform="translate(757.90 176.32) scale(0.97 1)" font-size="14" text-anchor="end" font-weight="bold" fill="#000">0.4</text>
<line x1="766.4" y1="127.28" x2="762.4" y2="127.28" stroke="#000" stroke-width="1.2"/>
<text transform="translate(757.90 131.28) scale(0.97 1)" font-size="14" text-anchor="end" font-weight="bold" fill="#000">0.6</text>
<line x1="766.4" y1="82.24" x2="762.4" y2="82.24" stroke="#000" stroke-width="1.2"/>
<text transform="translate(757.90 86.24) scale(0.97 1)" font-size="14" text-anchor="end" font-weight="bold" fill="#000">0.8</text>
<line x1="766.4" y1="37.20" x2="762.4" y2="37.20" stroke="#000" stroke-width="1.2"/>
<text transform="translate(757.90 41.20) scale(0.97 1)" font-size="14" text-anchor="end" font-weight="bold" fill="#000">1.0</text>
<line x1="766.4" y1="239.88" x2="764.1999999999999" y2="239.88" stroke="#000" stroke-width="1"/>
<line x1="766.4" y1="194.84" x2="764.1999999999999" y2="194.84" stroke="#000" stroke-width="1"/>
<line x1="766.4" y1="149.80" x2="764.1999999999999" y2="149.80" stroke="#000" stroke-width="1"/>
<line x1="766.4" y1="104.76" x2="764.1999999999999" y2="104.76" stroke="#000" stroke-width="1"/>
<line x1="766.4" y1="59.72" x2="764.1999999999999" y2="59.72" stroke="#000" stroke-width="1"/>
<polyline points="767.67,177.33 779.33,177.67 791.00,174.00 816.00,171.33 827.67,170.33 845.33,169.33 852.67,177.67 877.33,176.00 901.67,176.67 911.33,175.67 938.67,172.67 962.67,167.00 970.33,169.00 995.00,163.67" fill="none" stroke="#2a86ea" stroke-width="1.6"/>
<circle cx="767.67" cy="177.33" r="4.2" fill="url(#g_blue)"/>
<circle cx="779.33" cy="177.67" r="4.2" fill="url(#g_blue)"/>
<circle cx="791.00" cy="174.00" r="4.2" fill="url(#g_blue)"/>
<circle cx="816.00" cy="171.33" r="4.2" fill="url(#g_blue)"/>
<circle cx="827.67" cy="170.33" r="4.2" fill="url(#g_blue)"/>
<circle cx="845.33" cy="169.33" r="4.2" fill="url(#g_blue)"/>
<circle cx="852.67" cy="177.67" r="4.2" fill="url(#g_blue)"/>
<circle cx="877.33" cy="176.00" r="4.2" fill="url(#g_blue)"/>
<circle cx="901.67" cy="176.67" r="4.2" fill="url(#g_blue)"/>
<circle cx="911.33" cy="175.67" r="4.2" fill="url(#g_blue)"/>
<circle cx="938.67" cy="172.67" r="4.2" fill="url(#g_blue)"/>
<circle cx="962.67" cy="167.00" r="4.2" fill="url(#g_blue)"/>
<circle cx="970.33" cy="169.00" r="4.2" fill="url(#g_blue)"/>
<circle cx="995.00" cy="163.67" r="4.2" fill="url(#g_blue)"/>
<polyline points="767.67,201.67 779.33,191.33 803.67,191.00 816.00,198.67 827.67,186.33 840.67,193.67 864.67,185.33 889.33,181.00 899.00,180.67 926.33,184.67 950.67,183.33 975.00,183.33 987.67,183.00 1012.33,181.00" fill="none" stroke="#e8101a" stroke-width="1.6"/>
<circle cx="767.67" cy="201.67" r="4.2" fill="url(#g_red)"/>
<circle cx="779.33" cy="191.33" r="4.2" fill="url(#g_red)"/>
<circle cx="803.67" cy="191.00" r="4.2" fill="url(#g_red)"/>
<circle cx="816.00" cy="198.67" r="4.2" fill="url(#g_red)"/>
<circle cx="827.67" cy="186.33" r="4.2" fill="url(#g_red)"/>
<circle cx="840.67" cy="193.67" r="4.2" fill="url(#g_red)"/>
<circle cx="864.67" cy="185.33" r="4.2" fill="url(#g_red)"/>
<circle cx="889.33" cy="181.00" r="4.2" fill="url(#g_red)"/>
<circle cx="899.00" cy="180.67" r="4.2" fill="url(#g_red)"/>
<circle cx="926.33" cy="184.67" r="4.2" fill="url(#g_red)"/>
<circle cx="950.67" cy="183.33" r="4.2" fill="url(#g_red)"/>
<circle cx="975.00" cy="183.33" r="4.2" fill="url(#g_red)"/>
<circle cx="987.67" cy="183.00" r="4.2" fill="url(#g_red)"/>
<circle cx="1012.33" cy="181.00" r="4.2" fill="url(#g_red)"/>
<line x1="921.7" y1="52.7" x2="950" y2="52.7" stroke="#2a86ea" stroke-width="1.6"/>
<circle cx="936.00" cy="52.70" r="4.2" fill="url(#g_blue)"/>
<text transform="translate(955.00 56.90) scale(1.1 1)" font-size="11.8" text-anchor="start" font-weight="bold" fill="#000">BGPC44</text>
<line x1="921.7" y1="69.3" x2="950" y2="69.3" stroke="#e8101a" stroke-width="1.6"/>
<circle cx="936.00" cy="69.30" r="4.2" fill="url(#g_red)"/>
<text transform="translate(955.00 73.50) scale(1.1 1)" font-size="11.8" text-anchor="start" font-weight="bold" fill="#000">GCO-BGPC</text>
<text transform="translate(774.30 59.30) scale(1.12 1)" font-size="12" text-anchor="start" font-weight="bold" fill="#000">600 °C</text>
<text transform="translate(733.30 150.00) scale(1.04 1) rotate(-90) scale(1.065 1)" font-size="13" text-anchor="middle" font-weight="bold" fill="#000">ASR, Ω cm<tspan font-size="9" dy="-6">2</tspan></text>
<text transform="translate(901.70 298.00)" font-size="13.3" text-anchor="middle" font-weight="bold" fill="#000">Time, h</text>
<text transform="translate(18.40 332.60)" font-size="20" text-anchor="start" font-weight="bold" fill="#000">d</text>
<rect x="60.3" y="337.3" width="300.0" height="99.30000000000001" fill="none" stroke="#000" stroke-width="1.3"/>
<line x1="60.30" y1="436.6" x2="60.30" y2="440.6" stroke="#000" stroke-width="1.2"/>
<text transform="translate(60.30 454.60) scale(0.97 1)" font-size="14" text-anchor="middle" font-weight="bold" fill="#000">0.00</text>
<line x1="122.07" y1="436.6" x2="122.07" y2="440.6" stroke="#000" stroke-width="1.2"/>
<text transform="translate(122.07 454.60) scale(0.97 1)" font-size="14" text-anchor="middle" font-weight="bold" fill="#000">0.05</text>
<line x1="183.85" y1="436.6" x2="183.85" y2="440.6" stroke="#000" stroke-width="1.2"/>
<text transform="translate(183.85 454.60) scale(0.97 1)" font-size="14" text-anchor="middle" font-weight="bold" fill="#000">0.10</text>
<line x1="245.62" y1="436.6" x2="245.62" y2="440.6" stroke="#000" stroke-width="1.2"/>
<text transform="translate(245.62 454.60) scale(0.97 1)" font-size="14" text-anchor="middle" font-weight="bold" fill="#000">0.15</text>
<line x1="307.40" y1="436.6" x2="307.40" y2="440.6" stroke="#000" stroke-width="1.2"/>
<text transform="translate(307.40 454.60) scale(0.97 1)" font-size="14" text-anchor="middle" font-weight="bold" fill="#000">0.20</text>
<line x1="91.19" y1="436.6" x2="91.19" y2="438.8" stroke="#000" stroke-width="1"/>
<line x1="152.96" y1="436.6" x2="152.96" y2="438.8" stroke="#000" stroke-width="1"/>
<line x1="214.74" y1="436.6" x2="214.74" y2="438.8" stroke="#000" stroke-width="1"/>
<line x1="276.51" y1="436.6" x2="276.51" y2="438.8" stroke="#000" stroke-width="1"/>
<line x1="338.29" y1="436.6" x2="338.29" y2="438.8" stroke="#000" stroke-width="1"/>
<line x1="60.3" y1="436.60" x2="56.3" y2="436.60" stroke="#000" stroke-width="1.2"/>
<text transform="translate(51.80 440.60) scale(0.97 1)" font-size="14" text-anchor="end" font-weight="bold" fill="#000">0.00</text>
<line x1="60.3" y1="374.30" x2="56.3" y2="374.30" stroke="#000" stroke-width="1.2"/>
<text transform="translate(51.80 378.30) scale(0.97 1)" font-size="14" text-anchor="end" font-weight="bold" fill="#000">0.05</text>
<line x1="60.3" y1="405.45" x2="58.099999999999994" y2="405.45" stroke="#000" stroke-width="1"/>
<line x1="60.3" y1="343.15" x2="58.099999999999994" y2="343.15" stroke="#000" stroke-width="1"/>
<text transform="translate(61.50 355.00) scale(1.12 1)" font-size="11.7" text-anchor="start" font-weight="bold" fill="#000">GCO-BGPC | BZCYYb | GCO-BGPC</text>
<text transform="translate(61.50 374.00) scale(1.12 1)" font-size="11.7" text-anchor="start" font-weight="bold" fill="#000">600 °C</text>
<circle cx="286.30" cy="350.90" r="3.5" fill="url(#g_red)"/>
<text transform="translate(301.40 355.40) scale(1.05 1)" font-size="12.5" text-anchor="start" font-weight="bold" fill="#000"><tspan font-style="italic">p</tspan><tspan font-size="8.5" dy="3">O2</tspan><tspan dy="-3"> = 0.8</tspan></text>
<circle cx="286.30" cy="371.00" r="3.5" fill="url(#g_blue)"/>
<text transform="translate(301.40 375.50) scale(1.05 1)" font-size="12.5" text-anchor="start" font-weight="bold" fill="#000"><tspan font-style="italic">p</tspan><tspan font-size="8.5" dy="3">O2</tspan><tspan dy="-3"> = 0.6</tspan></text>
<circle cx="61.02" cy="434.16" r="3.2" fill="url(#g_red)"/>
<circle cx="63.12" cy="431.24" r="3.2" fill="url(#g_red)"/>
<circle cx="65.41" cy="428.47" r="3.2" fill="url(#g_red)"/>
<circle cx="67.92" cy="425.88" r="3.2" fill="url(#g_red)"/>
<circle cx="70.67" cy="423.57" r="3.2" fill="url(#g_red)"/>
<circle cx="73.63" cy="421.52" r="3.2" fill="url(#g_red)"/>
<circle cx="76.78" cy="419.78" r="3.2" fill="url(#g_red)"/>
<circle cx="80.14" cy="418.48" r="3.2" fill="url(#g_red)"/>
<circle cx="83.58" cy="417.43" r="3.2" fill="url(#g_red)"/>
<circle cx="87.07" cy="416.55" r="3.2" fill="url(#g_red)"/>
<circle cx="90.53" cy="415.58" r="3.2" fill="url(#g_red)"/>
<circle cx="93.98" cy="414.53" r="3.2" fill="url(#g_red)"/>
<circle cx="97.42" cy="413.49" r="3.2" fill="url(#g_red)"/>
<circle cx="100.87" cy="412.45" r="3.2" fill="url(#g_red)"/>
<circle cx="104.32" cy="411.43" r="3.2" fill="url(#g_red)"/>
<circle cx="107.78" cy="410.43" r="3.2" fill="url(#g_red)"/>
<circle cx="111.25" cy="409.46" r="3.2" fill="url(#g_red)"/>
<circle cx="114.73" cy="408.54" r="3.2" fill="url(#g_red)"/>
<circle cx="118.22" cy="407.66" r="3.2" fill="url(#g_red)"/>
<circle cx="121.70" cy="406.72" r="3.2" fill="url(#g_red)"/>
<circle cx="125.16" cy="405.73" r="3.2" fill="url(#g_red)"/>
<circle cx="128.68" cy="404.99" r="3.2" fill="url(#g_red)"/>
<circle cx="132.21" cy="404.30" r="3.2" fill="url(#g_red)"/>
<circle cx="135.76" cy="403.68" r="3.2" fill="url(#g_red)"/>
<circle cx="139.32" cy="403.14" r="3.2" fill="url(#g_red)"/>
<circle cx="142.90" cy="402.77" r="3.2" fill="url(#g_red)"/>
<circle cx="146.49" cy="402.66" r="3.2" fill="url(#g_red)"/>
<circle cx="150.09" cy="402.74" r="3.2" fill="url(#g_red)"/>
<circle cx="153.69" cy="402.87" r="3.2" fill="url(#g_red)"/>
<circle cx="157.29" cy="402.96" r="3.2" fill="url(#g_red)"/>
<circle cx="160.89" cy="403.11" r="3.2" fill="url(#g_red)"/>
<circle cx="164.47" cy="403.42" r="3.2" fill="url(#g_red)"/>
<circle cx="168.03" cy="404.00" r="3.2" fill="url(#g_red)"/>
<circle cx="171.53" cy="404.80" r="3.2" fill="url(#g_red)"/>
<circle cx="175.01" cy="405.73" r="3.2" fill="url(#g_red)"/>
<circle cx="178.49" cy="406.68" r="3.2" fill="url(#g_red)"/>
<circle cx="181.94" cy="407.68" r="3.2" fill="url(#g_red)"/>
<circle cx="185.38" cy="408.73" r="3.2" fill="url(#g_red)"/>
<circle cx="188.83" cy="409.79" r="3.2" fill="url(#g_red)"/>
<circle cx="192.27" cy="410.83" r="3.2" fill="url(#g_red)"/>
<circle cx="195.72" cy="411.86" r="3.2" fill="url(#g_red)"/>
<circle cx="199.17" cy="412.90" r="3.2" fill="url(#g_red)"/>
<circle cx="202.62" cy="413.93" r="3.2" fill="url(#g_red)"/>
<circle cx="206.06" cy="414.99" r="3.2" fill="url(#g_red)"/>
<circle cx="209.50" cy="416.03" r="3.2" fill="url(#g_red)"/>
<circle cx="212.96" cy="417.05" r="3.2" fill="url(#g_red)"/>
<circle cx="216.42" cy="418.03" r="3.2" fill="url(#g_red)"/>
<circle cx="219.90" cy="418.97" r="3.2" fill="url(#g_red)"/>
<circle cx="223.42" cy="419.70" r="3.2" fill="url(#g_red)"/>
<circle cx="227.00" cy="420.07" r="3.2" fill="url(#g_red)"/>
<circle cx="230.60" cy="420.24" r="3.2" fill="url(#g_red)"/>
<circle cx="234.18" cy="420.56" r="3.2" fill="url(#g_red)"/>
<circle cx="237.75" cy="421.02" r="3.2" fill="url(#g_red)"/>
<circle cx="241.32" cy="421.52" r="3.2" fill="url(#g_red)"/>
<circle cx="244.87" cy="422.08" r="3.2" fill="url(#g_red)"/>
<circle cx="248.41" cy="422.72" r="3.2" fill="url(#g_red)"/>
<circle cx="251.94" cy="423.45" r="3.2" fill="url(#g_red)"/>
<circle cx="255.46" cy="424.18" r="3.2" fill="url(#g_red)"/>
<circle cx="259.01" cy="424.81" r="3.2" fill="url(#g_red)"/>
<circle cx="262.45" cy="425.84" r="3.2" fill="url(#g_red)"/>
<circle cx="265.76" cy="427.26" r="3.2" fill="url(#g_red)"/>
<circle cx="269.18" cy="428.37" r="3.2" fill="url(#g_red)"/>
<circle cx="272.66" cy="429.30" r="3.2" fill="url(#g_red)"/>
<circle cx="61.02" cy="434.16" r="3.2" fill="url(#g_blue)"/>
<circle cx="63.48" cy="430.76" r="3.2" fill="url(#g_blue)"/>
<circle cx="66.23" cy="427.59" r="3.2" fill="url(#g_blue)"/>
<circle cx="69.26" cy="424.69" r="3.2" fill="url(#g_blue)"/>
<circle cx="72.62" cy="422.17" r="3.2" fill="url(#g_blue)"/>
<circle cx="76.24" cy="420.05" r="3.2" fill="url(#g_blue)"/>
<circle cx="80.15" cy="418.51" r="3.2" fill="url(#g_blue)"/>
<circle cx="84.11" cy="417.13" r="3.2" fill="url(#g_blue)"/>
<circle cx="88.11" cy="415.83" r="3.2" fill="url(#g_blue)"/>
<circle cx="92.09" cy="414.50" r="3.2" fill="url(#g_blue)"/>
<circle cx="96.08" cy="413.17" r="3.2" fill="url(#g_blue)"/>
<circle cx="100.05" cy="411.82" r="3.2" fill="url(#g_blue)"/>
<circle cx="104.05" cy="410.54" r="3.2" fill="url(#g_blue)"/>
<circle cx="108.09" cy="409.38" r="3.2" fill="url(#g_blue)"/>
<circle cx="112.13" cy="408.25" r="3.2" fill="url(#g_blue)"/>
<circle cx="116.17" cy="407.08" r="3.2" fill="url(#g_blue)"/>
<circle cx="120.21" cy="405.94" r="3.2" fill="url(#g_blue)"/>
<circle cx="124.27" cy="404.85" r="3.2" fill="url(#g_blue)"/>
<circle cx="128.33" cy="403.78" r="3.2" fill="url(#g_blue)"/>
<circle cx="132.38" cy="402.68" r="3.2" fill="url(#g_blue)"/>
<circle cx="136.45" cy="401.65" r="3.2" fill="url(#g_blue)"/>
<circle cx="140.54" cy="400.69" r="3.2" fill="url(#g_blue)"/>
<circle cx="144.67" cy="399.92" r="3.2" fill="url(#g_blue)"/>
<circle cx="148.82" cy="399.27" r="3.2" fill="url(#g_blue)"/>
<circle cx="152.96" cy="398.59" r="3.2" fill="url(#g_blue)"/>
<circle cx="157.16" cy="398.61" r="3.2" fill="url(#g_blue)"/>
<circle cx="161.35" cy="398.87" r="3.2" fill="url(#g_blue)"/>
<circle cx="165.53" cy="399.23" r="3.2" fill="url(#g_blue)"/>
<circle cx="169.69" cy="399.86" r="3.2" fill="url(#g_blue)"/>
<circle cx="173.81" cy="400.64" r="3.2" fill="url(#g_blue)"/>
<circle cx="177.91" cy="401.58" r="3.2" fill="url(#g_blue)"/>
<circle cx="181.98" cy="402.60" r="3.2" fill="url(#g_blue)"/>
<circle cx="186.04" cy="403.68" r="3.2" fill="url(#g_blue)"/>
<circle cx="190.05" cy="404.92" r="3.2" fill="url(#g_blue)"/>
<circle cx="194.02" cy="406.28" r="3.2" fill="url(#g_blue)"/>
<circle cx="198.00" cy="407.63" r="3.2" fill="url(#g_blue)"/>
<circle cx="201.99" cy="408.93" r="3.2" fill="url(#g_blue)"/>
<circle cx="206.04" cy="410.05" r="3.2" fill="url(#g_blue)"/>
<circle cx="210.12" cy="411.06" r="3.2" fill="url(#g_blue)"/>
<circle cx="214.22" cy="411.97" r="3.2" fill="url(#g_blue)"/>
<circle cx="218.26" cy="413.12" r="3.2" fill="url(#g_blue)"/>
<circle cx="222.22" cy="414.51" r="3.2" fill="url(#g_blue)"/>
<circle cx="226.27" cy="415.61" r="3.2" fill="url(#g_blue)"/>
<circle cx="230.37" cy="416.51" r="3.2" fill="url(#g_blue)"/>
<circle cx="234.47" cy="417.45" r="3.2" fill="url(#g_blue)"/>
<circle cx="238.61" cy="418.09" r="3.2" fill="url(#g_blue)"/>
<circle cx="242.81" cy="418.05" r="3.2" fill="url(#g_blue)"/>
<circle cx="247.01" cy="418.11" r="3.2" fill="url(#g_blue)"/>
<circle cx="251.20" cy="418.39" r="3.2" fill="url(#g_blue)"/>
<circle cx="255.36" cy="418.96" r="3.2" fill="url(#g_blue)"/>
<circle cx="259.50" cy="419.70" r="3.2" fill="url(#g_blue)"/>
<circle cx="263.64" cy="420.39" r="3.2" fill="url(#g_blue)"/>
<circle cx="267.78" cy="421.08" r="3.2" fill="url(#g_blue)"/>
<circle cx="271.93" cy="421.72" r="3.2" fill="url(#g_blue)"/>
<circle cx="276.03" cy="422.63" r="3.2" fill="url(#g_blue)"/>
<circle cx="280.06" cy="423.81" r="3.2" fill="url(#g_blue)"/>
<circle cx="284.14" cy="424.80" r="3.2" fill="url(#g_blue)"/>
<circle cx="288.24" cy="425.73" r="3.2" fill="url(#g_blue)"/>
<circle cx="292.33" cy="426.67" r="3.2" fill="url(#g_blue)"/>
<circle cx="296.35" cy="427.90" r="3.2" fill="url(#g_blue)"/>
<circle cx="300.32" cy="429.27" r="3.2" fill="url(#g_blue)"/>
<rect x="60.3" y="463.7" width="300.0" height="99.19999999999999" fill="none" stroke="#000" stroke-width="1.3"/>
<line x1="60.30" y1="562.9" x2="60.30" y2="566.9" stroke="#000" stroke-width="1.2"/>
<text transform="translate(60.30 580.90) scale(0.97 1)" font-size="14" text-anchor="middle" font-weight="bold" fill="#000">0.00</text>
<line x1="109.84" y1="562.9" x2="109.84" y2="566.9" stroke="#000" stroke-width="1.2"/>
<text transform="translate(109.84 580.90) scale(0.97 1)" font-size="14" text-anchor="middle" font-weight="bold" fill="#000">0.05</text>
<line x1="159.38" y1="562.9" x2="159.38" y2="566.9" stroke="#000" stroke-width="1.2"/>
<text transform="translate(159.38 580.90) scale(0.97 1)" font-size="14" text-anchor="middle" font-weight="bold" fill="#000">0.10</text>
<line x1="208.92" y1="562.9" x2="208.92" y2="566.9" stroke="#000" stroke-width="1.2"/>
<text transform="translate(208.92 580.90) scale(0.97 1)" font-size="14" text-anchor="middle" font-weight="bold" fill="#000">0.15</text>
<line x1="258.46" y1="562.9" x2="258.46" y2="566.9" stroke="#000" stroke-width="1.2"/>
<text transform="translate(258.46 580.90) scale(0.97 1)" font-size="14" text-anchor="middle" font-weight="bold" fill="#000">0.20</text>
<line x1="308.00" y1="562.9" x2="308.00" y2="566.9" stroke="#000" stroke-width="1.2"/>
<text transform="translate(308.00 580.90) scale(0.97 1)" font-size="14" text-anchor="middle" font-weight="bold" fill="#000">0.25</text>
<line x1="357.54" y1="562.9" x2="357.54" y2="566.9" stroke="#000" stroke-width="1.2"/>
<text transform="translate(357.54 580.90) scale(0.97 1)" font-size="14" text-anchor="middle" font-weight="bold" fill="#000">0.30</text>
<line x1="85.07" y1="562.9" x2="85.07" y2="565.1" stroke="#000" stroke-width="1"/>
<line x1="134.61" y1="562.9" x2="134.61" y2="565.1" stroke="#000" stroke-width="1"/>
<line x1="184.15" y1="562.9" x2="184.15" y2="565.1" stroke="#000" stroke-width="1"/>
<line x1="233.69" y1="562.9" x2="233.69" y2="565.1" stroke="#000" stroke-width="1"/>
<line x1="283.23" y1="562.9" x2="283.23" y2="565.1" stroke="#000" stroke-width="1"/>
<line x1="332.77" y1="562.9" x2="332.77" y2="565.1" stroke="#000" stroke-width="1"/>
<line x1="60.3" y1="562.90" x2="56.3" y2="562.90" stroke="#000" stroke-width="1.2"/>
<text transform="translate(51.80 566.90) scale(0.97 1)" font-size="14" text-anchor="end" font-weight="bold" fill="#000">0.00</text>
<line x1="60.3" y1="513.30" x2="56.3" y2="513.30" stroke="#000" stroke-width="1.2"/>
<text transform="translate(51.80 517.30) scale(0.97 1)" font-size="14" text-anchor="end" font-weight="bold" fill="#000">0.05</text>
<line x1="60.3" y1="463.70" x2="56.3" y2="463.70" stroke="#000" stroke-width="1.2"/>
<text transform="translate(51.80 467.70) scale(0.97 1)" font-size="14" text-anchor="end" font-weight="bold" fill="#000">0.10</text>
<line x1="60.3" y1="538.10" x2="58.099999999999994" y2="538.10" stroke="#000" stroke-width="1"/>
<line x1="60.3" y1="488.50" x2="58.099999999999994" y2="488.50" stroke="#000" stroke-width="1"/>
<text transform="translate(61.50 482.00) scale(1.12 1)" font-size="11.7" text-anchor="start" font-weight="bold" fill="#000">GCO-BGPC | BZCYYb | GCO-BGPC</text>
<text transform="translate(61.50 500.00) scale(1.12 1)" font-size="11.7" text-anchor="start" font-weight="bold" fill="#000">600 °C</text>
<circle cx="286.30" cy="478.20" r="3.5" fill="url(#g_green)"/>
<text transform="translate(301.40 482.70) scale(1.05 1)" font-size="12.5" text-anchor="start" font-weight="bold" fill="#000"><tspan font-style="italic">p</tspan><tspan font-size="8.5" dy="3">O2</tspan><tspan dy="-3"> = 0.4</tspan></text>
<circle cx="286.30" cy="498.30" r="3.5" fill="url(#g_purple)"/>
<text transform="translate(301.40 502.80) scale(1.05 1)" font-size="12.5" text-anchor="start" font-weight="bold" fill="#000"><tspan font-style="italic">p</tspan><tspan font-size="8.5" dy="3">O2</tspan><tspan dy="-3"> = 0.2</tspan></text>
<circle cx="60.91" cy="561.02" r="3.2" fill="url(#g_green)"/>
<circle cx="63.22" cy="557.16" r="3.2" fill="url(#g_green)"/>
<circle cx="66.34" cy="553.95" r="3.2" fill="url(#g_green)"/>
<circle cx="70.06" cy="551.43" r="3.2" fill="url(#g_green)"/>
<circle cx="73.87" cy="549.03" r="3.2" fill="url(#g_green)"/>
<circle cx="77.85" cy="546.93" r="3.2" fill="url(#g_green)"/>
<circle cx="81.98" cy="545.15" r="3.2" fill="url(#g_green)"/>
<circle cx="86.14" cy="543.44" r="3.2" fill="url(#g_green)"/>
<circle cx="90.33" cy="541.78" r="3.2" fill="url(#g_green)"/>
<circle cx="94.50" cy="540.11" r="3.2" fill="url(#g_green)"/>
<circle cx="98.68" cy="538.43" r="3.2" fill="url(#g_green)"/>
<circle cx="102.86" cy="536.76" r="3.2" fill="url(#g_green)"/>
<circle cx="107.07" cy="535.18" r="3.2" fill="url(#g_green)"/>
<circle cx="111.43" cy="534.09" r="3.2" fill="url(#g_green)"/>
<circle cx="115.86" cy="533.27" r="3.2" fill="url(#g_green)"/>
<circle cx="120.28" cy="532.43" r="3.2" fill="url(#g_green)"/>
<circle cx="124.64" cy="531.32" r="3.2" fill="url(#g_green)"/>
<circle cx="128.91" cy="529.92" r="3.2" fill="url(#g_green)"/>
<circle cx="133.25" cy="528.73" r="3.2" fill="url(#g_green)"/>
<circle cx="137.72" cy="528.27" r="3.2" fill="url(#g_green)"/>
<circle cx="142.22" cy="528.28" r="3.2" fill="url(#g_green)"/>
<circle cx="146.71" cy="528.56" r="3.2" fill="url(#g_green)"/>
<circle cx="151.18" cy="529.09" r="3.2" fill="url(#g_green)"/>
<circle cx="155.61" cy="529.86" r="3.2" fill="url(#g_green)"/>
<circle cx="160.01" cy="530.80" r="3.2" fill="url(#g_green)"/>
<circle cx="164.38" cy="531.86" r="3.2" fill="url(#g_green)"/>
<circle cx="168.79" cy="532.75" r="3.2" fill="url(#g_green)"/>
<circle cx="173.20" cy="533.64" r="3.2" fill="url(#g_green)"/>
<circle cx="177.56" cy="534.76" r="3.2" fill="url(#g_green)"/>
<circle cx="181.90" cy="535.97" r="3.2" fill="url(#g_green)"/>
<circle cx="186.23" cy="537.19" r="3.2" fill="url(#g_green)"/>
<circle cx="190.45" cy="538.72" r="3.2" fill="url(#g_green)"/>
<circle cx="194.43" cy="540.81" r="3.2" fill="url(#g_green)"/>
<circle cx="198.83" cy="541.73" r="3.2" fill="url(#g_green)"/>
<circle cx="203.21" cy="542.76" r="3.2" fill="url(#g_green)"/>
<circle cx="207.48" cy="544.18" r="3.2" fill="url(#g_green)"/>
<circle cx="211.68" cy="545.78" r="3.2" fill="url(#g_green)"/>
<circle cx="216.09" cy="546.63" r="3.2" fill="url(#g_green)"/>
<circle cx="220.57" cy="546.98" r="3.2" fill="url(#g_green)"/>
<circle cx="225.07" cy="547.27" r="3.2" fill="url(#g_green)"/>
<circle cx="229.55" cy="547.60" r="3.2" fill="url(#g_green)"/>
<circle cx="234.00" cy="548.29" r="3.2" fill="url(#g_green)"/>
<circle cx="238.43" cy="549.07" r="3.2" fill="url(#g_green)"/>
<circle cx="242.87" cy="549.81" r="3.2" fill="url(#g_green)"/>
<circle cx="247.31" cy="550.55" r="3.2" fill="url(#g_green)"/>
<circle cx="251.75" cy="551.26" r="3.2" fill="url(#g_green)"/>
<circle cx="256.16" cy="552.14" r="3.2" fill="url(#g_green)"/>
<circle cx="260.54" cy="553.18" r="3.2" fill="url(#g_green)"/>
<circle cx="264.85" cy="554.46" r="3.2" fill="url(#g_green)"/>
<circle cx="269.14" cy="555.83" r="3.2" fill="url(#g_green)"/>
<circle cx="273.51" cy="556.91" r="3.2" fill="url(#g_green)"/>
<circle cx="60.91" cy="561.02" r="3.3" fill="url(#g_purple)"/>
<circle cx="63.81" cy="556.35" r="3.3" fill="url(#g_purple)"/>
<circle cx="67.98" cy="552.80" r="3.3" fill="url(#g_purple)"/>
<circle cx="72.60" cy="549.82" r="3.3" fill="url(#g_purple)"/>
<circle cx="77.38" cy="547.11" r="3.3" fill="url(#g_purple)"/>
<circle cx="82.28" cy="544.62" r="3.3" fill="url(#g_purple)"/>
<circle cx="87.32" cy="542.41" r="3.3" fill="url(#g_purple)"/>
<circle cx="92.44" cy="540.41" r="3.3" fill="url(#g_purple)"/>
<circle cx="97.49" cy="538.22" r="3.3" fill="url(#g_purple)"/>
<circle cx="102.55" cy="536.07" r="3.3" fill="url(#g_purple)"/>
<circle cx="107.66" cy="534.03" r="3.3" fill="url(#g_purple)"/>
<circle cx="112.80" cy="532.08" r="3.3" fill="url(#g_purple)"/>
<circle cx="118.00" cy="530.28" r="3.3" fill="url(#g_purple)"/>
<circle cx="123.27" cy="528.73" r="3.3" fill="url(#g_purple)"/>
<circle cx="128.50" cy="527.02" r="3.3" fill="url(#g_purple)"/>
<circle cx="133.73" cy="525.32" r="3.3" fill="url(#g_purple)"/>
<circle cx="139.04" cy="523.89" r="3.3" fill="url(#g_purple)"/>
<circle cx="144.40" cy="522.65" r="3.3" fill="url(#g_purple)"/>
<circle cx="149.83" cy="521.84" r="3.3" fill="url(#g_purple)"/>
<circle cx="155.32" cy="521.49" r="3.3" fill="url(#g_purple)"/>
<circle cx="160.82" cy="521.28" r="3.3" fill="url(#g_purple)"/>
<circle cx="166.31" cy="521.46" r="3.3" fill="url(#g_purple)"/>
<circle cx="171.80" cy="521.84" r="3.3" fill="url(#g_purple)"/>
<circle cx="177.28" cy="522.34" r="3.3" fill="url(#g_purple)"/>
<circle cx="182.70" cy="523.24" r="3.3" fill="url(#g_purple)"/>
<circle cx="187.98" cy="524.78" r="3.3" fill="url(#g_purple)"/>
<circle cx="193.27" cy="526.28" r="3.3" fill="url(#g_purple)"/>
<circle cx="198.61" cy="527.60" r="3.3" fill="url(#g_purple)"/>
<circle cx="203.94" cy="528.95" r="3.3" fill="url(#g_purple)"/>
<circle cx="209.22" cy="530.50" r="3.3" fill="url(#g_purple)"/>
<circle cx="214.45" cy="532.19" r="3.3" fill="url(#g_purple)"/>
<circle cx="219.75" cy="533.67" r="3.3" fill="url(#g_purple)"/>
<circle cx="225.02" cy="535.25" r="3.3" fill="url(#g_purple)"/>
<circle cx="230.20" cy="537.08" r="3.3" fill="url(#g_purple)"/>
<circle cx="235.29" cy="539.15" r="3.3" fill="url(#g_purple)"/>
<circle cx="240.38" cy="541.24" r="3.3" fill="url(#g_purple)"/>
<circle cx="245.62" cy="542.92" r="3.3" fill="url(#g_purple)"/>
<circle cx="251.01" cy="543.98" r="3.3" fill="url(#g_purple)"/>
<circle cx="256.48" cy="544.50" r="3.3" fill="url(#g_purple)"/>
<circle cx="261.97" cy="544.92" r="3.3" fill="url(#g_purple)"/>
<circle cx="267.45" cy="545.35" r="3.3" fill="url(#g_purple)"/>
<circle cx="272.92" cy="545.93" r="3.3" fill="url(#g_purple)"/>
<circle cx="278.34" cy="546.83" r="3.3" fill="url(#g_purple)"/>
<circle cx="283.72" cy="548.00" r="3.3" fill="url(#g_purple)"/>
<circle cx="289.07" cy="549.26" r="3.3" fill="url(#g_purple)"/>
<circle cx="294.47" cy="550.29" r="3.3" fill="url(#g_purple)"/>
<circle cx="299.91" cy="551.13" r="3.3" fill="url(#g_purple)"/>
<circle cx="305.33" cy="552.04" r="3.3" fill="url(#g_purple)"/>
<circle cx="310.77" cy="552.84" r="3.3" fill="url(#g_purple)"/>
<circle cx="316.22" cy="553.61" r="3.3" fill="url(#g_purple)"/>
<circle cx="321.66" cy="554.43" r="3.3" fill="url(#g_purple)"/>
<circle cx="326.21" cy="555.11" r="3.3" fill="url(#g_purple)"/>
<text transform="translate(24.30 442.70) scale(1.04 1) rotate(-90) scale(1.065 1)" font-size="13" text-anchor="middle" font-weight="bold" fill="#000">-Z", Ω cm<tspan font-size="9" dy="-6">2</tspan></text>
<text transform="translate(209.30 594.00) scale(1.05 1)" font-size="13.3" text-anchor="middle" font-weight="bold" fill="#000">Z', Ω cm<tspan font-size='9' dy='-6'>2</tspan></text>
<text transform="translate(376.50 331.80)" font-size="20" text-anchor="start" font-weight="bold" fill="#000">e</text>
<rect x="427" y="337.3" width="271.29999999999995" height="225.59999999999997" fill="none" stroke="#000" stroke-width="1.3"/>
<line x1="438.00" y1="562.9" x2="438.00" y2="566.9" stroke="#000" stroke-width="1.2"/>
<line x1="487.24" y1="562.9" x2="487.24" y2="566.9" stroke="#000" stroke-width="1.2"/>
<line x1="536.48" y1="562.9" x2="536.48" y2="566.9" stroke="#000" stroke-width="1.2"/>
<line x1="585.72" y1="562.9" x2="585.72" y2="566.9" stroke="#000" stroke-width="1.2"/>
<line x1="634.96" y1="562.9" x2="634.96" y2="566.9" stroke="#000" stroke-width="1.2"/>
<line x1="684.20" y1="562.9" x2="684.20" y2="566.9" stroke="#000" stroke-width="1.2"/>
<line x1="427.08" y1="562.9" x2="427.08" y2="565.1" stroke="#000" stroke-width="1"/>
<line x1="430.37" y1="562.9" x2="430.37" y2="565.1" stroke="#000" stroke-width="1"/>
<line x1="433.23" y1="562.9" x2="433.23" y2="565.1" stroke="#000" stroke-width="1"/>
<line x1="435.75" y1="562.9" x2="435.75" y2="565.1" stroke="#000" stroke-width="1"/>
<line x1="452.82" y1="562.9" x2="452.82" y2="565.1" stroke="#000" stroke-width="1"/>
<line x1="461.49" y1="562.9" x2="461.49" y2="565.1" stroke="#000" stroke-width="1"/>
<line x1="467.65" y1="562.9" x2="467.65" y2="565.1" stroke="#000" stroke-width="1"/>
<line x1="472.42" y1="562.9" x2="472.42" y2="565.1" stroke="#000" stroke-width="1"/>
<line x1="476.32" y1="562.9" x2="476.32" y2="565.1" stroke="#000" stroke-width="1"/>
<line x1="479.61" y1="562.9" x2="479.61" y2="565.1" stroke="#000" stroke-width="1"/>
<line x1="482.47" y1="562.9" x2="482.47" y2="565.1" stroke="#000" stroke-width="1"/>
<line x1="484.99" y1="562.9" x2="484.99" y2="565.1" stroke="#000" stroke-width="1"/>
<line x1="502.06" y1="562.9" x2="502.06" y2="565.1" stroke="#000" stroke-width="1"/>
<line x1="510.73" y1="562.9" x2="510.73" y2="565.1" stroke="#000" stroke-width="1"/>
<line x1="516.89" y1="562.9" x2="516.89" y2="565.1" stroke="#000" stroke-width="1"/>
<line x1="521.66" y1="562.9" x2="521.66" y2="565.1" stroke="#000" stroke-width="1"/>
<line x1="525.56" y1="562.9" x2="525.56" y2="565.1" stroke="#000" stroke-width="1"/>
<line x1="528.85" y1="562.9" x2="528.85" y2="565.1" stroke="#000" stroke-width="1"/>
<line x1="531.71" y1="562.9" x2="531.71" y2="565.1" stroke="#000" stroke-width="1"/>
<line x1="534.23" y1="562.9" x2="534.23" y2="565.1" stroke="#000" stroke-width="1"/>
<line x1="551.30" y1="562.9" x2="551.30" y2="565.1" stroke="#000" stroke-width="1"/>
<line x1="559.97" y1="562.9" x2="559.97" y2="565.1" stroke="#000" stroke-width="1"/>
<line x1="566.13" y1="562.9" x2="566.13" y2="565.1" stroke="#000" stroke-width="1"/>
<line x1="570.90" y1="562.9" x2="570.90" y2="565.1" stroke="#000" stroke-width="1"/>
<line x1="574.80" y1="562.9" x2="574.80" y2="565.1" stroke="#000" stroke-width="1"/>
<line x1="578.09" y1="562.9" x2="578.09" y2="565.1" stroke="#000" stroke-width="1"/>
<line x1="580.95" y1="562.9" x2="580.95" y2="565.1" stroke="#000" stroke-width="1"/>
<line x1="583.47" y1="562.9" x2="583.47" y2="565.1" stroke="#000" stroke-width="1"/>
<line x1="600.54" y1="562.9" x2="600.54" y2="565.1" stroke="#000" stroke-width="1"/>
<line x1="609.21" y1="562.9" x2="609.21" y2="565.1" stroke="#000" stroke-width="1"/>
<line x1="615.37" y1="562.9" x2="615.37" y2="565.1" stroke="#000" stroke-width="1"/>
<line x1="620.14" y1="562.9" x2="620.14" y2="565.1" stroke="#000" stroke-width="1"/>
<line x1="624.04" y1="562.9" x2="624.04" y2="565.1" stroke="#000" stroke-width="1"/>
<line x1="627.33" y1="562.9" x2="627.33" y2="565.1" stroke="#000" stroke-width="1"/>
<line x1="630.19" y1="562.9" x2="630.19" y2="565.1" stroke="#000" stroke-width="1"/>
<line x1="632.71" y1="562.9" x2="632.71" y2="565.1" stroke="#000" stroke-width="1"/>
<line x1="649.78" y1="562.9" x2="649.78" y2="565.1" stroke="#000" stroke-width="1"/>
<line x1="658.45" y1="562.9" x2="658.45" y2="565.1" stroke="#000" stroke-width="1"/>
<line x1="664.61" y1="562.9" x2="664.61" y2="565.1" stroke="#000" stroke-width="1"/>
<line x1="669.38" y1="562.9" x2="669.38" y2="565.1" stroke="#000" stroke-width="1"/>
<line x1="673.28" y1="562.9" x2="673.28" y2="565.1" stroke="#000" stroke-width="1"/>
<line x1="676.57" y1="562.9" x2="676.57" y2="565.1" stroke="#000" stroke-width="1"/>
<line x1="679.43" y1="562.9" x2="679.43" y2="565.1" stroke="#000" stroke-width="1"/>
<line x1="681.95" y1="562.9" x2="681.95" y2="565.1" stroke="#000" stroke-width="1"/>
<text transform="translate(437.50 583.40)" font-size="13.5" text-anchor="middle" font-weight="bold" fill="#000">10<tspan font-size="10" dy="-5.5">0</tspan></text>
<text transform="translate(486.74 583.40)" font-size="13.5" text-anchor="middle" font-weight="bold" fill="#000">10<tspan font-size="10" dy="-5.5">1</tspan></text>
<text transform="translate(535.98 583.40)" font-size="13.5" text-anchor="middle" font-weight="bold" fill="#000">10<tspan font-size="10" dy="-5.5">2</tspan></text>
<text transform="translate(585.22 583.40)" font-size="13.5" text-anchor="middle" font-weight="bold" fill="#000">10<tspan font-size="10" dy="-5.5">3</tspan></text>
<text transform="translate(634.46 583.40)" font-size="13.5" text-anchor="middle" font-weight="bold" fill="#000">10<tspan font-size="10" dy="-5.5">4</tspan></text>
<text transform="translate(683.70 583.40)" font-size="13.5" text-anchor="middle" font-weight="bold" fill="#000">10<tspan font-size="10" dy="-5.5">5</tspan></text>
<line x1="427" y1="562.90" x2="423" y2="562.90" stroke="#000" stroke-width="1.2"/>
<text transform="translate(418.50 566.90) scale(0.97 1)" font-size="14" text-anchor="end" font-weight="bold" fill="#000">0.00</text>
<line x1="427" y1="506.50" x2="423" y2="506.50" stroke="#000" stroke-width="1.2"/>
<text transform="translate(418.50 510.50) scale(0.97 1)" font-size="14" text-anchor="end" font-weight="bold" fill="#000">0.02</text>
<line x1="427" y1="450.10" x2="423" y2="450.10" stroke="#000" stroke-width="1.2"/>
<text transform="translate(418.50 454.10) scale(0.97 1)" font-size="14" text-anchor="end" font-weight="bold" fill="#000">0.04</text>
<line x1="427" y1="393.70" x2="423" y2="393.70" stroke="#000" stroke-width="1.2"/>
<text transform="translate(418.50 397.70) scale(0.97 1)" font-size="14" text-anchor="end" font-weight="bold" fill="#000">0.06</text>
<line x1="427" y1="337.30" x2="423" y2="337.30" stroke="#000" stroke-width="1.2"/>
<text transform="translate(418.50 341.30) scale(0.97 1)" font-size="14" text-anchor="end" font-weight="bold" fill="#000">0.08</text>
<line x1="427" y1="534.70" x2="424.8" y2="534.70" stroke="#000" stroke-width="1"/>
<line x1="427" y1="478.30" x2="424.8" y2="478.30" stroke="#000" stroke-width="1"/>
<line x1="427" y1="421.90" x2="424.8" y2="421.90" stroke="#000" stroke-width="1"/>
<line x1="427" y1="365.50" x2="424.8" y2="365.50" stroke="#000" stroke-width="1"/>
<path d="M427.29,562.74 L429.15,562.80 L430.97,562.78 L432.69,562.67 L434.25,562.43 L435.56,562.05 L436.65,561.57 L437.63,561.06 L438.50,560.50 L439.29,559.86 L440.01,559.11 L440.69,558.24 L441.34,557.21 L441.99,556.01 L442.64,554.60 L443.33,552.97 L444.04,551.08 L444.73,548.95 L445.41,546.60 L446.08,544.06 L446.74,541.39 L447.38,538.60 L448.01,535.73 L448.62,532.83 L449.23,529.92 L449.82,527.04 L450.40,524.04 L450.96,520.78 L451.52,517.36 L452.07,513.85 L452.60,510.35 L453.12,506.95 L453.62,503.71 L454.10,500.74 L454.56,498.12 L455.00,495.93 L455.41,494.09 L455.77,492.47 L456.11,491.07 L456.43,489.90 L456.74,488.96 L457.04,488.28 L457.34,487.85 L457.66,487.68 L458.00,487.78 L458.37,488.15 L458.77,488.90 L459.20,490.04 L459.63,491.53 L460.09,493.30 L460.54,495.28 L461.00,497.43 L461.46,499.66 L461.91,501.93 L462.35,504.16 L462.78,506.30 L463.18,508.50 L463.57,510.89 L463.94,513.41 L464.31,516.01 L464.68,518.62 L465.04,521.17 L465.42,523.62 L465.82,525.88 L466.23,527.91 L466.67,529.64 L467.13,531.04 L467.62,532.19 L468.13,533.11 L468.65,533.87 L469.18,534.50 L469.72,535.05 L470.26,535.57 L470.80,536.11 L471.33,536.71 L471.85,537.42 L472.37,538.20 L472.89,538.99 L473.41,539.79 L473.93,540.59 L474.45,541.39 L474.96,542.18 L475.48,542.96 L476.00,543.72 L476.52,544.47 L477.04,545.19 L477.56,545.95 L478.08,546.78 L478.59,547.64 L479.11,548.50 L479.63,549.33 L480.15,550.08 L480.67,550.72 L481.19,551.23 L481.71,551.56 L482.22,551.67 L482.73,551.55 L483.22,551.19 L483.70,550.64 L484.17,549.95 L484.66,549.16 L485.15,548.31 L485.66,547.45 L486.21,546.61 L486.79,545.85 L487.41,545.19 L488.07,544.60 L488.76,544.01 L489.47,543.42 L490.21,542.84 L490.97,542.28 L491.77,541.74 L492.58,541.24 L493.42,540.78 L494.29,540.36 L495.19,540.01 L496.13,539.74 L497.14,539.58 L498.19,539.50 L499.27,539.46 L500.37,539.44 L501.47,539.42 L502.56,539.36 L503.61,539.24 L504.61,539.03 L505.56,538.71 L506.43,538.28 L507.24,537.77 L508.00,537.19 L508.73,536.55 L509.45,535.88 L510.16,535.16 L510.89,534.43 L511.66,533.69 L512.47,532.95 L513.34,532.23 L514.28,531.48 L515.29,530.65 L516.34,529.79 L517.42,528.90 L518.52,528.02 L519.62,527.16 L520.71,526.35 L521.76,525.61 L522.76,524.97 L523.71,524.45 L524.59,524.04 L525.43,523.72 L526.23,523.46 L527.01,523.28 L527.76,523.16 L528.50,523.08 L529.23,523.05 L529.97,523.06 L530.72,523.10 L531.49,523.16 L532.26,523.25 L533.04,523.40 L533.82,523.61 L534.60,523.85 L535.37,524.13 L536.15,524.43 L536.93,524.75 L537.71,525.08 L538.49,525.42 L539.26,525.75 L540.03,526.11 L540.78,526.53 L541.52,526.98 L542.25,527.46 L542.99,527.94 L543.74,528.39 L544.52,528.81 L545.32,529.17 L546.16,529.45 L547.04,529.64 L547.97,529.78 L548.95,529.92 L549.96,530.04 L551.00,530.11 L552.07,530.12 L553.14,530.04 L554.22,529.85 L555.30,529.51 L556.36,529.02 L557.41,528.34 L558.46,527.46 L559.53,526.38 L560.61,525.14 L561.69,523.76 L562.76,522.26 L563.82,520.69 L564.86,519.05 L565.88,517.39 L566.85,515.72 L567.78,514.08 L568.67,512.39 L569.53,510.58 L570.35,508.68 L571.14,506.73 L571.92,504.76 L572.67,502.82 L573.40,500.93 L574.13,499.13 L574.85,497.45 L575.56,495.93 L576.26,494.50 L576.94,493.09 L577.60,491.72 L578.25,490.41 L578.88,489.21 L579.51,488.12 L580.14,487.19 L580.77,486.43 L581.40,485.88 L582.04,485.56 L582.69,485.47 L583.32,485.57 L583.95,485.86 L584.57,486.32 L585.20,486.94 L585.84,487.71 L586.48,488.61 L587.15,489.65 L587.82,490.79 L588.52,492.04 L589.26,493.46 L590.02,495.08 L590.80,496.88 L591.60,498.83 L592.41,500.87 L593.22,502.99 L594.02,505.15 L594.81,507.31 L595.57,509.43 L596.30,511.49 L597.02,513.61 L597.72,515.93 L598.42,518.35 L599.11,520.81 L599.79,523.24 L600.44,525.55 L601.07,527.68 L601.67,529.55 L602.25,531.09 L602.78,532.23 L603.27,532.99 L603.69,533.45 L604.06,533.66 L604.40,533.62 L604.73,533.36 L605.06,532.91 L605.40,532.29 L605.77,531.52 L606.19,530.63 L606.67,529.64 L607.22,528.46 L607.80,527.04 L608.43,525.42 L609.08,523.62 L609.75,521.70 L610.44,519.68 L611.13,517.61 L611.82,515.53 L612.50,513.48 L613.16,511.49 L613.82,509.45 L614.52,507.26 L615.24,504.97 L615.96,502.63 L616.67,500.31 L617.36,498.05 L618.02,495.91 L618.62,493.94 L619.17,492.20 L619.64,490.75 L620.01,489.53 L620.30,488.47 L620.51,487.56 L620.67,486.81 L620.80,486.21 L620.93,485.77 L621.06,485.48 L621.22,485.35 L621.43,485.38 L621.71,485.56 L622.06,485.86 L622.45,486.27 L622.88,486.79 L623.33,487.47 L623.80,488.32 L624.28,489.36 L624.76,490.62 L625.23,492.12 L625.69,493.88 L626.12,495.93 L626.52,498.38 L626.91,501.26 L627.28,504.49 L627.65,507.98 L628.01,511.65 L628.38,515.41 L628.76,519.17 L629.16,522.85 L629.57,526.37 L630.01,529.64 L630.47,532.81 L630.96,536.07 L631.47,539.35 L631.99,542.60 L632.52,545.76 L633.06,548.77 L633.60,551.57 L634.14,554.11 L634.67,556.33 L635.19,558.16 L635.70,559.59 L636.19,560.68 L636.67,561.46 L637.14,561.98 L637.62,562.29 L638.12,562.42 L638.63,562.42 L639.18,562.33 L639.75,562.19 L640.38,562.05 L641.06,561.94 L641.79,561.85 L642.56,561.72 L643.37,561.51 L644.19,561.15 L645.01,560.61 L645.84,559.84 L646.64,558.77 L647.42,557.36 L648.16,555.56 L648.86,553.35 L649.56,550.77 L650.24,547.86 L650.90,544.66 L651.56,541.22 L652.20,537.58 L652.83,533.78 L653.45,529.87 L654.05,525.88 L654.64,521.86 L655.21,517.68 L655.77,513.24 L656.31,508.58 L656.84,503.78 L657.36,498.88 L657.87,493.96 L658.37,489.07 L658.86,484.27 L659.34,479.62 L659.82,475.19 L660.29,470.60 L660.75,465.58 L661.19,460.35 L661.63,455.12 L662.06,450.11 L662.49,445.52 L662.91,441.58 L663.35,438.50 L663.78,436.50 L664.23,435.78 L664.68,436.43 L665.12,438.25 L665.56,441.09 L665.99,444.78 L666.44,449.13 L666.89,454.00 L667.36,459.21 L667.84,464.59 L668.36,469.97 L668.90,475.19 L669.47,480.66 L670.08,486.78 L670.71,493.37 L671.36,500.24 L672.03,507.23 L672.70,514.14 L673.38,520.79 L674.05,527.01 L674.72,532.61 L675.38,537.42 L675.98,541.51 L676.49,545.14 L676.96,548.34 L677.41,551.14 L677.89,553.60 L678.43,555.75 L679.06,557.63 L679.82,559.28 L680.74,560.74 L681.86,562.05 L683.29,562.90 L685.04,562.90 L687.02,562.90 L689.15,562.90 L691.34,562.90 L693.50,562.90 L695.53,562.90 L697.36,562.66" fill="none" stroke="#e01818" stroke-width="1.7" stroke-linejoin="round"/>
<path d="M429.38,562.90 L432.48,562.90 L435.62,562.90 L438.67,562.90 L441.49,562.90 L443.95,562.85 L445.93,562.05 L447.45,561.07 L448.69,560.07 L449.68,558.97 L450.47,557.70 L451.11,556.20 L451.65,554.38 L452.13,552.18 L452.61,549.53 L453.11,546.36 L453.70,542.60 L454.33,538.02 L454.93,532.56 L455.49,526.42 L456.03,519.80 L456.54,512.87 L457.03,505.83 L457.51,498.87 L457.98,492.18 L458.44,485.95 L458.89,480.38 L459.33,475.29 L459.76,470.42 L460.17,465.75 L460.56,461.29 L460.95,457.04 L461.32,453.00 L461.69,449.16 L462.06,445.53 L462.42,442.11 L462.78,438.89 L463.14,435.82 L463.49,432.84 L463.84,430.00 L464.18,427.36 L464.51,424.96 L464.85,422.84 L465.17,421.05 L465.50,419.64 L465.83,418.66 L466.15,418.15 L466.47,418.09 L466.78,418.40 L467.08,419.09 L467.38,420.14 L467.67,421.55 L467.97,423.32 L468.28,425.42 L468.59,427.86 L468.92,430.62 L469.26,433.71 L469.62,437.23 L469.99,441.28 L470.37,445.76 L470.76,450.61 L471.16,455.75 L471.56,461.09 L471.96,466.56 L472.36,472.08 L472.76,477.58 L473.15,482.97 L473.53,488.52 L473.91,494.46 L474.28,500.65 L474.64,506.97 L475.01,513.27 L475.39,519.43 L475.78,525.32 L476.18,530.80 L476.60,535.74 L477.04,540.01 L477.44,543.64 L477.74,546.79 L478.01,549.51 L478.27,551.85 L478.58,553.86 L478.97,555.60 L479.48,557.10 L480.17,558.43 L481.07,559.63 L482.22,560.75 L483.73,561.81 L485.58,562.75 L487.71,562.90 L490.02,562.90 L492.43,562.90 L494.86,562.90 L497.21,562.90 L499.40,562.90 L501.35,562.90 L502.97,562.05 L504.27,560.28 L505.37,557.93 L506.29,555.10 L507.07,551.92 L507.75,548.52 L508.35,545.00 L508.91,541.49 L509.48,538.11 L510.08,534.98 L510.74,532.23 L511.45,529.70 L512.14,527.19 L512.82,524.73 L513.49,522.35 L514.15,520.08 L514.79,517.95 L515.42,516.00 L516.03,514.25 L516.64,512.73 L517.23,511.49 L517.79,510.54 L518.33,509.86 L518.84,509.43 L519.33,509.20 L519.82,509.14 L520.31,509.22 L520.80,509.40 L521.31,509.64 L521.85,509.92 L522.41,510.19 L523.01,510.52 L523.62,510.97 L524.26,511.52 L524.91,512.16 L525.57,512.87 L526.24,513.61 L526.91,514.39 L527.58,515.17 L528.24,515.94 L528.89,516.67 L529.54,517.41 L530.19,518.19 L530.84,518.99 L531.49,519.82 L532.13,520.64 L532.78,521.46 L533.43,522.27 L534.08,523.04 L534.73,523.77 L535.37,524.45 L536.02,525.15 L536.65,525.90 L537.28,526.69 L537.91,527.46 L538.53,528.18 L539.17,528.81 L539.82,529.31 L540.48,529.64 L541.16,529.76 L541.86,529.64 L542.57,529.22 L543.29,528.52 L544.01,527.59 L544.75,526.48 L545.50,525.26 L546.27,523.97 L547.07,522.68 L547.89,521.42 L548.75,520.27 L549.63,519.27 L550.58,518.37 L551.58,517.50 L552.64,516.66 L553.72,515.84 L554.82,515.05 L555.92,514.29 L557.00,513.55 L558.06,512.84 L559.06,512.15 L560.01,511.49 L560.89,510.91 L561.73,510.45 L562.53,510.07 L563.30,509.73 L564.06,509.38 L564.80,509.00 L565.53,508.54 L566.27,507.96 L567.02,507.23 L567.78,506.30 L568.56,505.15 L569.34,503.79 L570.12,502.28 L570.89,500.64 L571.67,498.93 L572.45,497.19 L573.23,495.45 L574.01,493.77 L574.78,492.19 L575.56,490.75 L576.34,489.34 L577.12,487.87 L577.89,486.39 L578.67,484.93 L579.45,483.54 L580.23,482.25 L581.01,481.12 L581.78,480.19 L582.56,479.49 L583.34,479.08 L584.12,478.92 L584.89,478.94 L585.67,479.16 L586.45,479.56 L587.23,480.13 L588.01,480.88 L588.78,481.81 L589.56,482.90 L590.34,484.15 L591.12,485.56 L591.90,487.22 L592.69,489.19 L593.49,491.40 L594.29,493.81 L595.09,496.34 L595.88,498.94 L596.66,501.55 L597.42,504.12 L598.17,506.59 L598.90,508.90 L599.60,511.18 L600.30,513.58 L600.98,516.04 L601.64,518.50 L602.30,520.89 L602.94,523.14 L603.57,525.21 L604.18,527.02 L604.79,528.52 L605.38,529.64 L605.94,530.43 L606.48,530.99 L606.99,531.31 L607.48,531.40 L607.97,531.26 L608.46,530.88 L608.95,530.27 L609.46,529.43 L610.00,528.35 L610.56,527.04 L611.17,525.35 L611.81,523.19 L612.47,520.65 L613.15,517.86 L613.84,514.89 L614.52,511.86 L615.19,508.87 L615.84,506.01 L616.46,503.40 L617.04,501.12 L617.59,499.03 L618.10,496.93 L618.59,494.87 L619.05,492.90 L619.51,491.07 L619.95,489.42 L620.39,488.00 L620.82,486.85 L621.26,486.02 L621.71,485.56 L622.16,485.46 L622.62,485.64 L623.07,486.11 L623.52,486.85 L623.96,487.83 L624.41,489.05 L624.84,490.48 L625.27,492.12 L625.70,493.94 L626.12,495.93 L626.52,498.20 L626.91,500.83 L627.28,503.74 L627.65,506.88 L628.01,510.19 L628.38,513.60 L628.76,517.06 L629.16,520.49 L629.57,523.84 L630.01,527.04 L630.47,530.28 L630.96,533.70 L631.47,537.24 L631.99,540.80 L632.52,544.30 L633.06,547.67 L633.60,550.82 L634.14,553.68 L634.67,556.15 L635.19,558.16 L635.70,559.69 L636.19,560.84 L636.67,561.65 L637.14,562.17 L637.62,562.45 L638.12,562.54 L638.63,562.50 L639.18,562.37 L639.75,562.20 L640.38,562.05 L641.06,561.94 L641.79,561.85 L642.56,561.72 L643.37,561.51 L644.19,561.15 L645.01,560.61 L645.84,559.84 L646.64,558.77 L647.42,557.36 L648.16,555.56 L648.86,553.35 L649.56,550.77 L650.24,547.86 L650.90,544.66 L651.56,541.22 L652.20,537.58 L652.83,533.78 L653.45,529.87 L654.05,525.88 L654.64,521.86 L655.21,517.68 L655.77,513.24 L656.31,508.58 L656.84,503.78 L657.36,498.88 L657.87,493.96 L658.37,489.07 L658.86,484.27 L659.34,479.62 L659.82,475.19 L660.29,470.60 L660.75,465.58 L661.19,460.35 L661.63,455.12 L662.06,450.11 L662.49,445.52 L662.91,441.58 L663.35,438.50 L663.78,436.50 L664.23,435.78 L664.68,436.43 L665.12,438.25 L665.56,441.09 L665.99,444.78 L666.44,449.13 L666.89,454.00 L667.36,459.21 L667.84,464.59 L668.36,469.97 L668.90,475.19 L669.47,480.66 L670.08,486.78 L670.71,493.37 L671.36,500.24 L672.03,507.23 L672.70,514.14 L673.38,520.79 L674.05,527.01 L674.72,532.61 L675.38,537.42 L675.98,541.51 L676.49,545.14 L676.96,548.34 L677.41,551.14 L677.89,553.60 L678.43,555.75 L679.06,557.63 L679.82,559.28 L680.74,560.74 L681.86,562.05 L683.29,562.90 L685.04,562.90 L687.02,562.90 L689.15,562.90 L691.34,562.90 L693.50,562.90 L695.53,562.90 L697.36,562.66" fill="none" stroke="#20a020" stroke-width="1.7" stroke-linejoin="round"/>
<path d="M429.38,562.90 L432.48,562.90 L435.62,562.90 L438.67,562.90 L441.49,562.90 L443.95,562.85 L445.93,562.05 L447.45,561.09 L448.69,560.15 L449.68,559.13 L450.47,557.95 L451.11,556.52 L451.65,554.75 L452.13,552.56 L452.61,549.87 L453.11,546.57 L453.70,542.60 L454.33,537.73 L454.93,531.94 L455.49,525.41 L456.03,518.34 L456.54,510.92 L457.03,503.34 L457.51,495.78 L457.98,488.44 L458.44,481.52 L458.89,475.19 L459.33,469.25 L459.76,463.37 L460.17,457.59 L460.56,451.96 L460.95,446.51 L461.32,441.28 L461.69,436.31 L462.06,431.63 L462.42,427.30 L462.78,423.34 L463.14,419.66 L463.49,416.18 L463.84,412.93 L464.18,409.96 L464.51,407.29 L464.85,404.98 L465.17,403.06 L465.50,401.56 L465.83,400.53 L466.15,400.00 L466.47,399.96 L466.78,400.36 L467.08,401.17 L467.38,402.41 L467.67,404.05 L467.97,406.10 L468.28,408.54 L468.59,411.37 L468.92,414.57 L469.26,418.15 L469.62,422.26 L469.99,426.99 L470.37,432.24 L470.76,437.92 L471.16,443.92 L471.56,450.13 L471.96,456.47 L472.36,462.83 L472.76,469.10 L473.15,475.19 L473.53,481.38 L473.91,487.93 L474.28,494.70 L474.64,501.57 L475.01,508.41 L475.39,515.08 L475.78,521.44 L476.18,527.38 L476.60,532.74 L477.04,537.42 L477.44,541.42 L477.74,544.92 L478.01,547.97 L478.27,550.61 L478.58,552.89 L478.97,554.87 L479.48,556.59 L480.17,558.12 L481.07,559.48 L482.22,560.75 L483.73,561.91 L485.58,562.90 L487.71,562.90 L490.02,562.90 L492.43,562.90 L494.86,562.90 L497.21,562.90 L499.40,562.90 L501.35,562.90 L502.97,562.05 L504.27,560.31 L505.37,558.01 L506.29,555.27 L507.07,552.17 L507.75,548.84 L508.35,545.37 L508.91,541.87 L509.48,538.44 L510.08,535.19 L510.74,532.23 L511.46,529.40 L512.16,526.51 L512.87,523.59 L513.55,520.71 L514.23,517.89 L514.88,515.18 L515.51,512.62 L516.12,510.26 L516.69,508.14 L517.23,506.30 L517.71,504.74 L518.15,503.42 L518.54,502.31 L518.91,501.39 L519.25,500.63 L519.59,500.02 L519.93,499.52 L520.30,499.13 L520.69,498.80 L521.11,498.52 L521.58,498.31 L522.07,498.17 L522.58,498.13 L523.10,498.19 L523.63,498.36 L524.16,498.65 L524.70,499.06 L525.24,499.60 L525.78,500.29 L526.30,501.12 L526.81,502.16 L527.32,503.44 L527.82,504.91 L528.31,506.53 L528.81,508.25 L529.32,510.02 L529.83,511.79 L530.37,513.52 L530.91,515.16 L531.49,516.67 L532.09,518.12 L532.74,519.60 L533.42,521.08 L534.11,522.54 L534.81,523.97 L535.50,525.32 L536.17,526.59 L536.82,527.75 L537.42,528.77 L537.97,529.64 L538.46,530.37 L538.89,531.03 L539.28,531.59 L539.65,532.04 L539.99,532.39 L540.33,532.62 L540.68,532.73 L541.04,532.71 L541.43,532.54 L541.86,532.23 L542.31,531.79 L542.77,531.23 L543.24,530.56 L543.71,529.76 L544.21,528.83 L544.72,527.75 L545.25,526.52 L545.82,525.14 L546.41,523.58 L547.04,521.86 L547.71,519.85 L548.43,517.50 L549.18,514.90 L549.97,512.11 L550.77,509.22 L551.58,506.30 L552.40,503.44 L553.22,500.70 L554.03,498.17 L554.82,495.93 L555.59,493.91 L556.33,491.99 L557.07,490.18 L557.81,488.47 L558.55,486.86 L559.30,485.35 L560.07,483.95 L560.88,482.66 L561.72,481.46 L562.60,480.38 L563.54,479.41 L564.55,478.59 L565.60,477.89 L566.68,477.31 L567.78,476.81 L568.88,476.39 L569.97,476.04 L571.02,475.73 L572.02,475.45 L572.97,475.19 L573.84,474.93 L574.65,474.69 L575.41,474.48 L576.14,474.32 L576.86,474.22 L577.57,474.19 L578.30,474.26 L579.07,474.44 L579.88,474.75 L580.75,475.19 L581.69,475.77 L582.70,476.48 L583.75,477.29 L584.83,478.22 L585.93,479.24 L587.03,480.36 L588.12,481.55 L589.17,482.82 L590.17,484.16 L591.12,485.56 L592.01,487.06 L592.86,488.69 L593.68,490.43 L594.48,492.26 L595.25,494.15 L596.00,496.08 L596.74,498.02 L597.46,499.96 L598.18,501.86 L598.90,503.71 L599.60,505.63 L600.27,507.71 L600.94,509.89 L601.58,512.09 L602.22,514.24 L602.85,516.28 L603.47,518.13 L604.10,519.72 L604.73,520.99 L605.38,521.86 L606.03,522.36 L606.69,522.56 L607.36,522.51 L608.03,522.21 L608.70,521.70 L609.36,520.99 L610.01,520.11 L610.65,519.08 L611.26,517.93 L611.86,516.67 L612.43,515.21 L612.99,513.44 L613.53,511.43 L614.05,509.25 L614.57,506.95 L615.07,504.60 L615.57,502.26 L616.06,500.00 L616.55,497.87 L617.04,495.93 L617.53,494.05 L618.02,492.07 L618.49,490.07 L618.96,488.09 L619.43,486.21 L619.89,484.48 L620.35,482.97 L620.80,481.74 L621.26,480.86 L621.71,480.38 L622.16,480.25 L622.62,480.38 L623.07,480.76 L623.52,481.41 L623.96,482.32 L624.41,483.49 L624.84,484.91 L625.27,486.60 L625.70,488.54 L626.12,490.75 L626.52,493.35 L626.91,496.43 L627.28,499.89 L627.65,503.65 L628.01,507.60 L628.38,511.65 L628.76,515.72 L629.16,519.70 L629.57,523.51 L630.01,527.04 L630.47,530.49 L630.96,534.03 L631.47,537.62 L631.99,541.17 L632.52,544.63 L633.06,547.92 L633.60,550.99 L634.14,553.76 L634.67,556.17 L635.19,558.16 L635.70,559.69 L636.19,560.84 L636.67,561.65 L637.14,562.17 L637.62,562.45 L638.12,562.54 L638.63,562.50 L639.18,562.37 L639.75,562.20 L640.38,562.05 L641.06,561.94 L641.79,561.85 L642.56,561.72 L643.37,561.51 L644.19,561.15 L645.01,560.61 L645.84,559.84 L646.64,558.77 L647.42,557.36 L648.16,555.56 L648.86,553.35 L649.56,550.77 L650.24,547.86 L650.90,544.66 L651.56,541.22 L652.20,537.58 L652.83,533.78 L653.45,529.87 L654.05,525.88 L654.64,521.86 L655.21,517.68 L655.77,513.24 L656.31,508.58 L656.84,503.78 L657.36,498.88 L657.87,493.96 L658.37,489.07 L658.86,484.27 L659.34,479.62 L659.82,475.19 L660.29,470.60 L660.75,465.58 L661.19,460.35 L661.63,455.12 L662.06,450.11 L662.49,445.52 L662.91,441.58 L663.35,438.50 L663.78,436.50 L664.23,435.78 L664.68,436.43 L665.12,438.25 L665.56,441.09 L665.99,444.78 L666.44,449.13 L666.89,454.00 L667.36,459.21 L667.84,464.59 L668.36,469.97 L668.90,475.19 L669.47,480.66 L670.08,486.78 L670.71,493.37 L671.36,500.24 L672.03,507.23 L672.70,514.14 L673.38,520.79 L674.05,527.01 L674.72,532.61 L675.38,537.42 L675.98,541.51 L676.49,545.14 L676.96,548.34 L677.41,551.14 L677.89,553.60 L678.43,555.75 L679.06,557.63 L679.82,559.28 L680.74,560.74 L681.86,562.05 L683.29,562.90 L685.04,562.90 L687.02,562.90 L689.15,562.90 L691.34,562.90 L693.50,562.90 L695.53,562.90 L697.36,562.66" fill="none" stroke="#f08c20" stroke-width="1.7" stroke-linejoin="round"/>
<path d="M429.38,562.90 L432.48,562.90 L435.62,562.90 L438.67,562.90 L441.49,562.90 L443.95,562.90 L445.93,562.05 L447.45,560.81 L448.69,559.53 L449.68,558.12 L450.47,556.50 L451.11,554.58 L451.65,552.26 L452.13,549.48 L452.61,546.13 L453.11,542.14 L453.70,537.42 L454.33,531.73 L454.93,525.05 L455.49,517.58 L456.03,509.51 L456.54,501.04 L457.03,492.36 L457.51,483.69 L457.98,475.21 L458.44,467.13 L458.89,459.63 L459.34,452.46 L459.76,445.24 L460.18,438.05 L460.58,430.97 L460.96,424.07 L461.34,417.42 L461.71,411.09 L462.07,405.17 L462.43,399.72 L462.78,394.82 L463.12,390.36 L463.45,386.22 L463.76,382.42 L464.07,378.98 L464.37,375.94 L464.66,373.32 L464.96,371.15 L465.26,369.45 L465.57,368.26 L465.89,367.59 L466.21,367.47 L466.54,367.85 L466.87,368.73 L467.20,370.08 L467.53,371.89 L467.86,374.13 L468.20,376.78 L468.55,379.83 L468.90,383.26 L469.26,387.04 L469.63,391.33 L470.01,396.23 L470.39,401.65 L470.78,407.50 L471.17,413.70 L471.57,420.14 L471.97,426.75 L472.36,433.44 L472.76,440.11 L473.15,446.67 L473.54,453.40 L473.93,460.55 L474.32,467.97 L474.71,475.54 L475.09,483.13 L475.48,490.60 L475.87,497.82 L476.26,504.66 L476.65,510.99 L477.04,516.67 L477.43,521.79 L477.82,526.53 L478.21,530.90 L478.59,534.93 L478.98,538.63 L479.37,542.03 L479.76,545.14 L480.15,547.99 L480.54,550.60 L480.93,552.97 L481.26,555.02 L481.52,556.67 L481.73,557.98 L481.92,559.00 L482.14,559.78 L482.42,560.38 L482.79,560.85 L483.29,561.25 L483.96,561.63 L484.82,562.05 L485.94,562.50 L487.31,562.90 L488.87,562.90 L490.57,562.90 L492.35,562.90 L494.15,562.90 L495.91,562.90 L497.57,562.90 L499.08,562.87 L500.37,562.05 L501.47,561.00 L502.45,559.80 L503.32,558.42 L504.11,556.85 L504.83,555.08 L505.51,553.09 L506.16,550.86 L506.80,548.38 L507.46,545.63 L508.15,542.60 L508.86,539.06 L509.55,534.88 L510.23,530.25 L510.90,525.31 L511.55,520.24 L512.20,515.19 L512.82,510.33 L513.44,505.83 L514.04,501.84 L514.63,498.52 L515.21,495.83 L515.77,493.56 L516.32,491.65 L516.86,490.05 L517.39,488.72 L517.90,487.60 L518.40,486.65 L518.89,485.81 L519.36,485.03 L519.82,484.26 L520.25,483.56 L520.66,483.01 L521.04,482.60 L521.41,482.32 L521.76,482.16 L522.12,482.12 L522.49,482.19 L522.87,482.36 L523.27,482.62 L523.71,482.97 L524.17,483.43 L524.66,484.04 L525.17,484.77 L525.69,485.60 L526.22,486.53 L526.76,487.54 L527.30,488.61 L527.84,489.73 L528.37,490.88 L528.89,492.04 L529.41,493.31 L529.93,494.75 L530.45,496.31 L530.97,497.93 L531.49,499.58 L532.00,501.19 L532.52,502.72 L533.04,504.11 L533.56,505.33 L534.08,506.30 L534.60,507.09 L535.12,507.78 L535.63,508.35 L536.15,508.80 L536.67,509.14 L537.19,509.35 L537.71,509.44 L538.23,509.39 L538.75,509.21 L539.26,508.90 L539.77,508.42 L540.26,507.78 L540.74,506.98 L541.21,506.05 L541.69,505.01 L542.19,503.86 L542.70,502.62 L543.25,501.30 L543.83,499.94 L544.45,498.52 L545.12,496.98 L545.84,495.25 L546.59,493.37 L547.37,491.39 L548.18,489.37 L548.99,487.36 L549.81,485.40 L550.63,483.55 L551.44,481.86 L552.23,480.38 L552.99,479.08 L553.74,477.92 L554.48,476.86 L555.21,475.91 L555.95,475.03 L556.71,474.22 L557.48,473.45 L558.28,472.72 L559.12,472.01 L560.01,471.30 L560.95,470.63 L561.95,470.02 L563.01,469.46 L564.09,468.95 L565.19,468.47 L566.29,468.00 L567.37,467.55 L568.43,467.09 L569.43,466.62 L570.38,466.12 L571.26,465.58 L572.12,465.02 L572.94,464.44 L573.74,463.86 L574.51,463.28 L575.26,462.72 L576.00,462.20 L576.72,461.72 L577.44,461.29 L578.15,460.93 L578.85,460.61 L579.53,460.32 L580.19,460.05 L580.84,459.82 L581.48,459.63 L582.11,459.50 L582.73,459.42 L583.36,459.42 L583.99,459.48 L584.64,459.63 L585.28,459.82 L585.91,460.01 L586.54,460.22 L587.17,460.50 L587.80,460.85 L588.43,461.31 L589.08,461.92 L589.74,462.68 L590.42,463.64 L591.12,464.82 L591.85,466.25 L592.61,467.93 L593.40,469.82 L594.20,471.87 L595.01,474.06 L595.82,476.33 L596.62,478.66 L597.40,481.00 L598.16,483.31 L598.90,485.56 L599.60,487.84 L600.27,490.23 L600.94,492.70 L601.58,495.21 L602.22,497.71 L602.85,500.18 L603.47,502.58 L604.10,504.85 L604.73,506.97 L605.38,508.90 L606.02,510.72 L606.65,512.53 L607.28,514.28 L607.91,515.95 L608.54,517.48 L609.17,518.85 L609.82,520.01 L610.48,520.93 L611.16,521.55 L611.86,521.86 L612.60,521.81 L613.37,521.44 L614.18,520.79 L615.00,519.89 L615.83,518.78 L616.65,517.50 L617.45,516.10 L618.23,514.60 L618.96,513.05 L619.64,511.49 L620.26,509.77 L620.85,507.78 L621.40,505.58 L621.92,503.25 L622.42,500.87 L622.91,498.51 L623.39,496.25 L623.86,494.15 L624.34,492.29 L624.82,490.75 L625.31,489.45 L625.79,488.29 L626.27,487.26 L626.74,486.38 L627.20,485.64 L627.67,485.05 L628.12,484.62 L628.58,484.34 L629.04,484.22 L629.49,484.26 L629.93,484.41 L630.35,484.61 L630.77,484.90 L631.17,485.34 L631.58,485.97 L632.00,486.82 L632.43,487.94 L632.89,489.37 L633.37,491.15 L633.90,493.34 L634.47,496.08 L635.08,499.42 L635.73,503.22 L636.40,507.37 L637.09,511.73 L637.78,516.18 L638.46,520.58 L639.13,524.80 L639.77,528.73 L640.38,532.23 L640.95,535.45 L641.50,538.60 L642.03,541.65 L642.55,544.59 L643.05,547.38 L643.55,549.99 L644.05,552.41 L644.55,554.59 L645.05,556.51 L645.56,558.16 L646.07,559.57 L646.56,560.80 L647.04,561.84 L647.51,562.67 L647.99,562.90 L648.49,562.90 L649.00,562.90 L649.55,562.90 L650.13,562.90 L650.75,562.05 L651.43,560.91 L652.18,559.55 L652.97,557.94 L653.80,556.05 L654.64,553.86 L655.48,551.34 L656.30,548.47 L657.10,545.20 L657.84,541.53 L658.53,537.42 L659.15,532.61 L659.72,527.01 L660.26,520.79 L660.76,514.14 L661.25,507.23 L661.73,500.24 L662.20,493.37 L662.68,486.78 L663.18,480.66 L663.71,475.19 L664.26,469.97 L664.82,464.59 L665.38,459.21 L665.94,454.00 L666.52,449.13 L667.09,444.78 L667.67,441.09 L668.25,438.25 L668.83,436.43 L669.42,435.78 L670.01,436.43 L670.61,438.25 L671.21,441.09 L671.82,444.78 L672.43,449.13 L673.04,454.00 L673.64,459.21 L674.23,464.59 L674.81,469.97 L675.38,475.19 L675.93,480.66 L676.47,486.78 L676.99,493.37 L677.51,500.24 L678.02,507.23 L678.53,514.14 L679.03,520.79 L679.54,527.01 L680.05,532.61 L680.57,537.42 L681.04,541.51 L681.46,545.14 L681.83,548.34 L682.20,551.14 L682.59,553.60 L683.02,555.75 L683.53,557.63 L684.13,559.28 L684.86,560.74 L685.75,562.05 L686.87,562.90 L688.25,562.90 L689.81,562.90 L691.49,562.90 L693.20,562.90 L694.90,562.90 L696.49,562.90 L697.93,562.66" fill="none" stroke="#7a18e0" stroke-width="1.7" stroke-linejoin="round"/>
<line x1="607.8" y1="353.6" x2="636.3" y2="353.6" stroke="#e01818" stroke-width="1.7"/>
<text transform="translate(641.30 358.10) scale(1.05 1)" font-size="12.5" text-anchor="start" font-weight="bold" fill="#000"><tspan font-style="italic">p</tspan><tspan font-size="8.5" dy="3">O2</tspan><tspan dy="-3">=0.8</tspan></text>
<line x1="607.8" y1="373.7" x2="636.3" y2="373.7" stroke="#20a020" stroke-width="1.7"/>
<text transform="translate(641.30 378.20) scale(1.05 1)" font-size="12.5" text-anchor="start" font-weight="bold" fill="#000"><tspan font-style="italic">p</tspan><tspan font-size="8.5" dy="3">O2</tspan><tspan dy="-3">=0.6</tspan></text>
<line x1="607.8" y1="393.8" x2="636.3" y2="393.8" stroke="#f08c20" stroke-width="1.7"/>
<text transform="translate(641.30 398.30) scale(1.05 1)" font-size="12.5" text-anchor="start" font-weight="bold" fill="#000"><tspan font-style="italic">p</tspan><tspan font-size="8.5" dy="3">O2</tspan><tspan dy="-3">=0.4</tspan></text>
<line x1="607.8" y1="413.9" x2="636.3" y2="413.9" stroke="#7a18e0" stroke-width="1.7"/>
<text transform="translate(641.30 418.40) scale(1.05 1)" font-size="12.5" text-anchor="start" font-weight="bold" fill="#000"><tspan font-style="italic">p</tspan><tspan font-size="8.5" dy="3">O2</tspan><tspan dy="-3">=0.2</tspan></text>
<text transform="translate(388.50 450.70) scale(1.04 1) rotate(-90) scale(1.065 1)" font-size="13" text-anchor="middle" font-weight="bold" fill="#000">DRT, Ω cm<tspan font-size="9" dy="-6">-2</tspan><tspan dy="6"> s</tspan></text>
<text transform="translate(553.60 600.00)" font-size="13.3" text-anchor="middle" font-weight="bold" fill="#000">Frequency, Hz</text>
<text transform="translate(722.70 332.50)" font-size="20" text-anchor="start" font-weight="bold" fill="#000">f</text>
<rect x="766.9" y="337.4" width="271.30000000000007" height="226.20000000000005" fill="none" stroke="#000" stroke-width="1.3"/>
<line x1="806.40" y1="563.6" x2="806.40" y2="567.6" stroke="#000" stroke-width="1.2"/>
<text transform="translate(806.40 581.60) scale(0.97 1)" font-size="14" text-anchor="middle" font-weight="bold" fill="#000">-1.5</text>
<line x1="883.43" y1="563.6" x2="883.43" y2="567.6" stroke="#000" stroke-width="1.2"/>
<text transform="translate(883.43 581.60) scale(0.97 1)" font-size="14" text-anchor="middle" font-weight="bold" fill="#000">-1.0</text>
<line x1="960.47" y1="563.6" x2="960.47" y2="567.6" stroke="#000" stroke-width="1.2"/>
<text transform="translate(960.47 581.60) scale(0.97 1)" font-size="14" text-anchor="middle" font-weight="bold" fill="#000">-0.5</text>
<line x1="1037.50" y1="563.6" x2="1037.50" y2="567.6" stroke="#000" stroke-width="1.2"/>
<text transform="translate(1037.50 581.60) scale(0.97 1)" font-size="14" text-anchor="middle" font-weight="bold" fill="#000">0.0</text>
<line x1="767.88" y1="563.6" x2="767.88" y2="565.8000000000001" stroke="#000" stroke-width="1"/>
<line x1="844.92" y1="563.6" x2="844.92" y2="565.8000000000001" stroke="#000" stroke-width="1"/>
<line x1="921.95" y1="563.6" x2="921.95" y2="565.8000000000001" stroke="#000" stroke-width="1"/>
<line x1="998.98" y1="563.6" x2="998.98" y2="565.8000000000001" stroke="#000" stroke-width="1"/>
<line x1="766.9" y1="337.40" x2="762.9" y2="337.40" stroke="#000" stroke-width="1.2"/>
<text transform="translate(758.40 341.40) scale(0.97 1)" font-size="14" text-anchor="end" font-weight="bold" fill="#000">-1.0</text>
<line x1="766.9" y1="375.10" x2="762.9" y2="375.10" stroke="#000" stroke-width="1.2"/>
<text transform="translate(758.40 379.10) scale(0.97 1)" font-size="14" text-anchor="end" font-weight="bold" fill="#000">-1.5</text>
<line x1="766.9" y1="412.80" x2="762.9" y2="412.80" stroke="#000" stroke-width="1.2"/>
<text transform="translate(758.40 416.80) scale(0.97 1)" font-size="14" text-anchor="end" font-weight="bold" fill="#000">-2.0</text>
<line x1="766.9" y1="450.50" x2="762.9" y2="450.50" stroke="#000" stroke-width="1.2"/>
<text transform="translate(758.40 454.50) scale(0.97 1)" font-size="14" text-anchor="end" font-weight="bold" fill="#000">-2.5</text>
<line x1="766.9" y1="488.20" x2="762.9" y2="488.20" stroke="#000" stroke-width="1.2"/>
<text transform="translate(758.40 492.20) scale(0.97 1)" font-size="14" text-anchor="end" font-weight="bold" fill="#000">-3.0</text>
<line x1="766.9" y1="525.90" x2="762.9" y2="525.90" stroke="#000" stroke-width="1.2"/>
<text transform="translate(758.40 529.90) scale(0.97 1)" font-size="14" text-anchor="end" font-weight="bold" fill="#000">-3.5</text>
<line x1="766.9" y1="563.60" x2="762.9" y2="563.60" stroke="#000" stroke-width="1.2"/>
<text transform="translate(758.40 567.60) scale(0.97 1)" font-size="14" text-anchor="end" font-weight="bold" fill="#000">-4.0</text>
<line x1="766.9" y1="356.25" x2="764.6999999999999" y2="356.25" stroke="#000" stroke-width="1"/>
<line x1="766.9" y1="393.95" x2="764.6999999999999" y2="393.95" stroke="#000" stroke-width="1"/>
<line x1="766.9" y1="431.65" x2="764.6999999999999" y2="431.65" stroke="#000" stroke-width="1"/>
<line x1="766.9" y1="469.35" x2="764.6999999999999" y2="469.35" stroke="#000" stroke-width="1"/>
<line x1="766.9" y1="507.05" x2="764.6999999999999" y2="507.05" stroke="#000" stroke-width="1"/>
<line x1="766.9" y1="544.75" x2="764.6999999999999" y2="544.75" stroke="#000" stroke-width="1"/>
<line x1="788.65" y1="392.10" x2="1004.66" y2="426.59" stroke="#2a86ea" stroke-width="1.6"/>
<line x1="788.65" y1="474.15" x2="1004.66" y2="522.71" stroke="#2aa82a" stroke-width="1.6"/>
<line x1="788.65" y1="524.38" x2="1004.66" y2="530.41" stroke="#e8101a" stroke-width="1.6"/>
<circle cx="788.65" cy="391.43" r="4.0" fill="url(#g_blue)"/>
<circle cx="895.82" cy="411.52" r="4.0" fill="url(#g_blue)"/>
<circle cx="958.78" cy="419.89" r="4.0" fill="url(#g_blue)"/>
<circle cx="1003.66" cy="425.59" r="4.0" fill="url(#g_blue)"/>
<circle cx="788.65" cy="477.49" r="4.0" fill="url(#g_green)"/>
<circle cx="895.82" cy="494.91" r="4.0" fill="url(#g_green)"/>
<circle cx="958.78" cy="502.61" r="4.0" fill="url(#g_green)"/>
<circle cx="1003.66" cy="532.75" r="4.0" fill="url(#g_green)"/>
<circle cx="788.65" cy="525.05" r="4.0" fill="url(#g_red)"/>
<circle cx="895.82" cy="525.39" r="4.0" fill="url(#g_red)"/>
<circle cx="958.78" cy="528.40" r="4.0" fill="url(#g_red)"/>
<circle cx="1003.66" cy="530.41" r="4.0" fill="url(#g_red)"/>
<text transform="translate(930.30 411.50) rotate(8.8) scale(1.05 1)" font-size="12.5" text-anchor="middle" font-weight="bold" fill="#2a86ea" font-style="italic">n = 0.327</text>
<text transform="translate(859.00 487.00) rotate(12.7) scale(1.05 1)" font-size="12.5" text-anchor="middle" font-weight="bold" fill="#2aa82a" font-style="italic">n = 0.462</text>
<text transform="translate(863.30 541.80) scale(1.05 1)" font-size="12.5" text-anchor="middle" font-weight="bold" fill="#e8101a">n = 0.051</text>
<circle cx="994.00" cy="350.90" r="3.8" fill="url(#g_red)"/>
<text transform="translate(1013.00 355.40) scale(1.05 1)" font-size="12.5" text-anchor="start" font-weight="bold" fill="#e8101a">HF</text>
<circle cx="994.00" cy="368.00" r="3.8" fill="url(#g_blue)"/>
<text transform="translate(1013.00 372.50) scale(1.05 1)" font-size="12.5" text-anchor="start" font-weight="bold" fill="#2a86ea">IF</text>
<circle cx="994.00" cy="385.40" r="3.8" fill="url(#g_green)"/>
<text transform="translate(1013.00 389.90) scale(1.05 1)" font-size="12.5" text-anchor="start" font-weight="bold" fill="#2aa82a">LF</text>
<text transform="translate(728.40 450.70) scale(1.04 1) rotate(-90) scale(1.065 1)" font-size="13" text-anchor="middle" font-weight="normal" fill="#000">ln(<tspan font-style="italic">R</tspan><tspan font-size="9" dy="3">p</tspan><tspan dy="-3">, Ω cm</tspan><tspan font-size="9" dy="-6">2</tspan><tspan dy="6">)</tspan></text>
<text transform="translate(902.50 597.40) scale(1.12 1)" font-size="13" text-anchor="middle" font-weight="normal" fill="#000">ln(<tspan font-style="italic">p</tspan><tspan font-size="9" dy="3">O2</tspan><tspan dy="-3">, atm)</tspan></text>
<text transform="translate(18.80 634.90)" font-size="20" text-anchor="start" font-weight="bold" fill="#000">g</text>
<rect x="60.6" y="642.4" width="299.4" height="98.89999999999998" fill="none" stroke="#000" stroke-width="1.3"/>
<line x1="60.60" y1="741.3" x2="60.60" y2="745.3" stroke="#000" stroke-width="1.2"/>
<text transform="translate(60.60 759.30) scale(0.97 1)" font-size="14" text-anchor="middle" font-weight="bold" fill="#000">0.00</text>
<line x1="102.82" y1="741.3" x2="102.82" y2="745.3" stroke="#000" stroke-width="1.2"/>
<text transform="translate(102.82 759.30) scale(0.97 1)" font-size="14" text-anchor="middle" font-weight="bold" fill="#000">0.05</text>
<line x1="145.03" y1="741.3" x2="145.03" y2="745.3" stroke="#000" stroke-width="1.2"/>
<text transform="translate(145.03 759.30) scale(0.97 1)" font-size="14" text-anchor="middle" font-weight="bold" fill="#000">0.10</text>
<line x1="187.25" y1="741.3" x2="187.25" y2="745.3" stroke="#000" stroke-width="1.2"/>
<text transform="translate(187.25 759.30) scale(0.97 1)" font-size="14" text-anchor="middle" font-weight="bold" fill="#000">0.15</text>
<line x1="229.47" y1="741.3" x2="229.47" y2="745.3" stroke="#000" stroke-width="1.2"/>
<text transform="translate(229.47 759.30) scale(0.97 1)" font-size="14" text-anchor="middle" font-weight="bold" fill="#000">0.20</text>
<line x1="271.68" y1="741.3" x2="271.68" y2="745.3" stroke="#000" stroke-width="1.2"/>
<text transform="translate(271.68 759.30) scale(0.97 1)" font-size="14" text-anchor="middle" font-weight="bold" fill="#000">0.25</text>
<line x1="313.90" y1="741.3" x2="313.90" y2="745.3" stroke="#000" stroke-width="1.2"/>
<text transform="translate(313.90 759.30) scale(0.97 1)" font-size="14" text-anchor="middle" font-weight="bold" fill="#000">0.30</text>
<line x1="356.12" y1="741.3" x2="356.12" y2="745.3" stroke="#000" stroke-width="1.2"/>
<text transform="translate(356.12 759.30) scale(0.97 1)" font-size="14" text-anchor="middle" font-weight="bold" fill="#000">0.35</text>
<line x1="81.71" y1="741.3" x2="81.71" y2="743.5" stroke="#000" stroke-width="1"/>
<line x1="123.92" y1="741.3" x2="123.92" y2="743.5" stroke="#000" stroke-width="1"/>
<line x1="166.14" y1="741.3" x2="166.14" y2="743.5" stroke="#000" stroke-width="1"/>
<line x1="208.36" y1="741.3" x2="208.36" y2="743.5" stroke="#000" stroke-width="1"/>
<line x1="250.57" y1="741.3" x2="250.57" y2="743.5" stroke="#000" stroke-width="1"/>
<line x1="292.79" y1="741.3" x2="292.79" y2="743.5" stroke="#000" stroke-width="1"/>
<line x1="335.01" y1="741.3" x2="335.01" y2="743.5" stroke="#000" stroke-width="1"/>
<line x1="60.6" y1="741.30" x2="56.6" y2="741.30" stroke="#000" stroke-width="1.2"/>
<text transform="translate(52.10 745.30) scale(0.97 1)" font-size="14" text-anchor="end" font-weight="bold" fill="#000">0.00</text>
<line x1="60.6" y1="700.25" x2="56.6" y2="700.25" stroke="#000" stroke-width="1.2"/>
<text transform="translate(52.10 704.25) scale(0.97 1)" font-size="14" text-anchor="end" font-weight="bold" fill="#000">0.05</text>
<line x1="60.6" y1="659.20" x2="56.6" y2="659.20" stroke="#000" stroke-width="1.2"/>
<text transform="translate(52.10 663.20) scale(0.97 1)" font-size="14" text-anchor="end" font-weight="bold" fill="#000">0.10</text>
<line x1="60.6" y1="720.77" x2="58.4" y2="720.77" stroke="#000" stroke-width="1"/>
<line x1="60.6" y1="679.73" x2="58.4" y2="679.73" stroke="#000" stroke-width="1"/>
<text transform="translate(64.80 657.00) scale(1.12 1)" font-size="11.7" text-anchor="start" font-weight="bold" fill="#000">GCO-BGPC | BZCYYb | GCO-BGPC</text>
<text transform="translate(64.80 675.00) scale(1.12 1)" font-size="11.7" text-anchor="start" font-weight="bold" fill="#000">600 °C</text>
<circle cx="272.30" cy="671.40" r="3.5" fill="url(#g_red)"/>
<text transform="translate(284.90 675.90) scale(1.05 1)" font-size="12.5" text-anchor="start" font-weight="bold" fill="#000"><tspan font-style="italic">p</tspan><tspan font-size="8.5" dy="3">H2O</tspan><tspan dy="-3"> = 0</tspan></text>
<circle cx="272.30" cy="691.90" r="3.5" fill="url(#g_blue)"/>
<text transform="translate(284.90 696.40) scale(1.05 1)" font-size="12.5" text-anchor="start" font-weight="bold" fill="#000"><tspan font-style="italic">p</tspan><tspan font-size="8.5" dy="3">H2O</tspan><tspan dy="-3"> = 5%</tspan></text>
<circle cx="272.30" cy="711.70" r="3.5" fill="url(#g_purple)"/>
<text transform="translate(284.90 716.20) scale(1.05 1)" font-size="12.5" text-anchor="start" font-weight="bold" fill="#000"><tspan font-style="italic">p</tspan><tspan font-size="8.5" dy="3">H2O</tspan><tspan dy="-3"> = 10%</tspan></text>
<circle cx="60.83" cy="728.24" r="3.2" fill="url(#g_red)"/>
<circle cx="63.82" cy="727.97" r="3.2" fill="url(#g_red)"/>
<circle cx="66.81" cy="727.70" r="3.2" fill="url(#g_red)"/>
<circle cx="69.80" cy="727.44" r="3.2" fill="url(#g_red)"/>
<circle cx="72.79" cy="727.21" r="3.2" fill="url(#g_red)"/>
<circle cx="75.78" cy="726.94" r="3.2" fill="url(#g_red)"/>
<circle cx="78.76" cy="726.67" r="3.2" fill="url(#g_red)"/>
<circle cx="81.74" cy="726.33" r="3.2" fill="url(#g_red)"/>
<circle cx="84.69" cy="725.78" r="3.2" fill="url(#g_red)"/>
<circle cx="87.59" cy="724.99" r="3.2" fill="url(#g_red)"/>
<circle cx="90.47" cy="724.17" r="3.2" fill="url(#g_red)"/>
<circle cx="93.40" cy="723.53" r="3.2" fill="url(#g_red)"/>
<circle cx="96.35" cy="722.99" r="3.2" fill="url(#g_red)"/>
<circle cx="99.28" cy="722.36" r="3.2" fill="url(#g_red)"/>
<circle cx="102.18" cy="721.56" r="3.2" fill="url(#g_red)"/>
<circle cx="105.04" cy="720.67" r="3.2" fill="url(#g_red)"/>
<circle cx="107.89" cy="719.72" r="3.2" fill="url(#g_red)"/>
<circle cx="110.71" cy="718.72" r="3.2" fill="url(#g_red)"/>
<circle cx="113.52" cy="717.66" r="3.2" fill="url(#g_red)"/>
<circle cx="116.31" cy="716.55" r="3.2" fill="url(#g_red)"/>
<circle cx="119.08" cy="715.39" r="3.2" fill="url(#g_red)"/>
<circle cx="121.84" cy="714.22" r="3.2" fill="url(#g_red)"/>
<circle cx="124.60" cy="713.05" r="3.2" fill="url(#g_red)"/>
<circle cx="127.36" cy="711.87" r="3.2" fill="url(#g_red)"/>
<circle cx="130.15" cy="710.76" r="3.2" fill="url(#g_red)"/>
<circle cx="132.98" cy="709.79" r="3.2" fill="url(#g_red)"/>
<circle cx="135.84" cy="708.88" r="3.2" fill="url(#g_red)"/>
<circle cx="138.67" cy="707.88" r="3.2" fill="url(#g_red)"/>
<circle cx="141.43" cy="706.71" r="3.2" fill="url(#g_red)"/>
<circle cx="144.19" cy="705.53" r="3.2" fill="url(#g_red)"/>
<circle cx="146.99" cy="704.44" r="3.2" fill="url(#g_red)"/>
<circle cx="149.80" cy="703.40" r="3.2" fill="url(#g_red)"/>
<circle cx="152.67" cy="702.53" r="3.2" fill="url(#g_red)"/>
<circle cx="155.61" cy="701.92" r="3.2" fill="url(#g_red)"/>
<circle cx="158.58" cy="701.50" r="3.2" fill="url(#g_red)"/>
<circle cx="161.56" cy="701.15" r="3.2" fill="url(#g_red)"/>
<circle cx="169.08" cy="700.37" r="3.4" fill="url(#g_red)"/>
<circle cx="175.56" cy="700.11" r="3.4" fill="url(#g_red)"/>
<circle cx="184.63" cy="699.59" r="3.4" fill="url(#g_red)"/>
<circle cx="192.41" cy="699.85" r="3.4" fill="url(#g_red)"/>
<circle cx="200.19" cy="700.89" r="3.4" fill="url(#g_red)"/>
<circle cx="207.97" cy="702.19" r="3.4" fill="url(#g_red)"/>
<circle cx="215.75" cy="703.48" r="3.4" fill="url(#g_red)"/>
<circle cx="222.23" cy="705.04" r="3.4" fill="url(#g_red)"/>
<circle cx="228.71" cy="707.63" r="3.4" fill="url(#g_red)"/>
<circle cx="235.19" cy="710.74" r="3.4" fill="url(#g_red)"/>
<circle cx="241.67" cy="713.85" r="3.4" fill="url(#g_red)"/>
<circle cx="248.16" cy="716.45" r="3.4" fill="url(#g_red)"/>
<circle cx="254.64" cy="719.04" r="3.4" fill="url(#g_red)"/>
<circle cx="261.12" cy="721.63" r="3.4" fill="url(#g_red)"/>
<circle cx="267.60" cy="724.22" r="3.4" fill="url(#g_red)"/>
<circle cx="274.08" cy="726.30" r="3.4" fill="url(#g_red)"/>
<circle cx="281.86" cy="728.89" r="3.4" fill="url(#g_red)"/>
<circle cx="289.64" cy="731.48" r="3.4" fill="url(#g_red)"/>
<circle cx="297.42" cy="732.78" r="3.4" fill="url(#g_red)"/>
<circle cx="305.19" cy="734.08" r="3.4" fill="url(#g_red)"/>
<circle cx="314.27" cy="735.37" r="3.4" fill="url(#g_red)"/>
<circle cx="323.34" cy="736.67" r="3.4" fill="url(#g_red)"/>
<circle cx="60.83" cy="731.48" r="3.2" fill="url(#g_blue)"/>
<circle cx="63.80" cy="730.29" r="3.2" fill="url(#g_blue)"/>
<circle cx="66.82" cy="729.22" r="3.2" fill="url(#g_blue)"/>
<circle cx="69.92" cy="728.46" r="3.2" fill="url(#g_blue)"/>
<circle cx="73.08" cy="727.91" r="3.2" fill="url(#g_blue)"/>
<circle cx="76.23" cy="727.37" r="3.2" fill="url(#g_blue)"/>
<circle cx="79.36" cy="726.72" r="3.2" fill="url(#g_blue)"/>
<circle cx="82.48" cy="726.00" r="3.2" fill="url(#g_blue)"/>
<circle cx="85.59" cy="725.23" r="3.2" fill="url(#g_blue)"/>
<circle cx="88.67" cy="724.37" r="3.2" fill="url(#g_blue)"/>
<circle cx="91.72" cy="723.41" r="3.2" fill="url(#g_blue)"/>
<circle cx="94.75" cy="722.36" r="3.2" fill="url(#g_blue)"/>
<circle cx="97.75" cy="721.25" r="3.2" fill="url(#g_blue)"/>
<circle cx="100.73" cy="720.09" r="3.2" fill="url(#g_blue)"/>
<circle cx="103.68" cy="718.86" r="3.2" fill="url(#g_blue)"/>
<circle cx="106.59" cy="717.52" r="3.2" fill="url(#g_blue)"/>
<circle cx="109.46" cy="716.10" r="3.2" fill="url(#g_blue)"/>
<circle cx="112.33" cy="714.69" r="3.2" fill="url(#g_blue)"/>
<circle cx="115.24" cy="713.37" r="3.2" fill="url(#g_blue)"/>
<circle cx="118.20" cy="712.15" r="3.2" fill="url(#g_blue)"/>
<circle cx="121.18" cy="710.97" r="3.2" fill="url(#g_blue)"/>
<circle cx="124.18" cy="709.86" r="3.2" fill="url(#g_blue)"/>
<circle cx="127.20" cy="708.81" r="3.2" fill="url(#g_blue)"/>
<circle cx="130.26" cy="707.87" r="3.2" fill="url(#g_blue)"/>
<circle cx="133.35" cy="707.05" r="3.2" fill="url(#g_blue)"/>
<circle cx="136.47" cy="706.35" r="3.2" fill="url(#g_blue)"/>
<circle cx="139.62" cy="705.78" r="3.2" fill="url(#g_blue)"/>
<circle cx="142.79" cy="705.34" r="3.2" fill="url(#g_blue)"/>
<circle cx="145.97" cy="705.02" r="3.2" fill="url(#g_blue)"/>
<circle cx="149.17" cy="704.84" r="3.2" fill="url(#g_blue)"/>
<circle cx="152.37" cy="704.79" r="3.2" fill="url(#g_blue)"/>
<circle cx="155.57" cy="704.88" r="3.2" fill="url(#g_blue)"/>
<circle cx="158.76" cy="705.14" r="3.2" fill="url(#g_blue)"/>
<circle cx="161.93" cy="705.56" r="3.2" fill="url(#g_blue)"/>
<circle cx="165.08" cy="706.09" r="3.2" fill="url(#g_blue)"/>
<circle cx="168.23" cy="706.69" r="3.2" fill="url(#g_blue)"/>
<circle cx="171.36" cy="707.34" r="3.2" fill="url(#g_blue)"/>
<circle cx="174.46" cy="708.12" r="3.2" fill="url(#g_blue)"/>
<circle cx="177.55" cy="708.95" r="3.2" fill="url(#g_blue)"/>
<circle cx="180.66" cy="709.74" r="3.2" fill="url(#g_blue)"/>
<circle cx="183.78" cy="710.43" r="3.2" fill="url(#g_blue)"/>
<circle cx="186.89" cy="711.16" r="3.2" fill="url(#g_blue)"/>
<circle cx="189.96" cy="712.09" r="3.2" fill="url(#g_blue)"/>
<circle cx="192.89" cy="713.35" r="3.2" fill="url(#g_blue)"/>
<circle cx="195.71" cy="714.87" r="3.2" fill="url(#g_blue)"/>
<circle cx="198.50" cy="716.44" r="3.2" fill="url(#g_blue)"/>
<circle cx="201.25" cy="718.08" r="3.2" fill="url(#g_blue)"/>
<circle cx="203.97" cy="719.76" r="3.2" fill="url(#g_blue)"/>
<circle cx="206.74" cy="721.37" r="3.2" fill="url(#g_blue)"/>
<circle cx="209.54" cy="722.92" r="3.2" fill="url(#g_blue)"/>
<circle cx="212.32" cy="724.50" r="3.2" fill="url(#g_blue)"/>
<circle cx="215.02" cy="726.21" r="3.2" fill="url(#g_blue)"/>
<circle cx="217.66" cy="728.02" r="3.2" fill="url(#g_blue)"/>
<circle cx="220.32" cy="729.80" r="3.2" fill="url(#g_blue)"/>
<circle cx="223.05" cy="731.47" r="3.2" fill="url(#g_blue)"/>
<circle cx="225.82" cy="733.07" r="3.2" fill="url(#g_blue)"/>
<circle cx="228.65" cy="734.56" r="3.2" fill="url(#g_blue)"/>
<circle cx="231.52" cy="735.98" r="3.2" fill="url(#g_blue)"/>
<circle cx="234.45" cy="737.26" r="3.2" fill="url(#g_blue)"/>
<circle cx="237.50" cy="738.23" r="3.2" fill="url(#g_blue)"/>
<circle cx="240.65" cy="738.79" r="3.2" fill="url(#g_blue)"/>
<circle cx="243.82" cy="739.20" r="3.2" fill="url(#g_blue)"/>
<circle cx="60.83" cy="739.26" r="3.3" fill="url(#g_purple)"/>
<circle cx="63.28" cy="736.10" r="3.3" fill="url(#g_purple)"/>
<circle cx="66.59" cy="733.90" r="3.3" fill="url(#g_purple)"/>
<circle cx="70.30" cy="732.41" r="3.3" fill="url(#g_purple)"/>
<circle cx="74.14" cy="731.29" r="3.3" fill="url(#g_purple)"/>
<circle cx="77.99" cy="730.22" r="3.3" fill="url(#g_purple)"/>
<circle cx="81.85" cy="729.18" r="3.3" fill="url(#g_purple)"/>
<circle cx="85.59" cy="727.77" r="3.3" fill="url(#g_purple)"/>
<circle cx="89.19" cy="726.01" r="3.3" fill="url(#g_purple)"/>
<circle cx="92.89" cy="724.50" r="3.3" fill="url(#g_purple)"/>
<circle cx="96.60" cy="723.00" r="3.3" fill="url(#g_purple)"/>
<circle cx="100.19" cy="721.24" r="3.3" fill="url(#g_purple)"/>
<circle cx="103.75" cy="719.42" r="3.3" fill="url(#g_purple)"/>
<circle cx="107.33" cy="717.63" r="3.3" fill="url(#g_purple)"/>
<circle cx="110.90" cy="715.83" r="3.3" fill="url(#g_purple)"/>
<circle cx="114.46" cy="714.01" r="3.3" fill="url(#g_purple)"/>
<circle cx="118.15" cy="712.47" r="3.3" fill="url(#g_purple)"/>
<circle cx="121.93" cy="711.17" r="3.3" fill="url(#g_purple)"/>
<circle cx="125.68" cy="709.76" r="3.3" fill="url(#g_purple)"/>
<circle cx="129.43" cy="708.39" r="3.3" fill="url(#g_purple)"/>
<circle cx="133.28" cy="707.30" r="3.3" fill="url(#g_purple)"/>
<circle cx="137.20" cy="706.50" r="3.3" fill="url(#g_purple)"/>
<circle cx="141.17" cy="705.98" r="3.3" fill="url(#g_purple)"/>
<circle cx="145.16" cy="705.72" r="3.3" fill="url(#g_purple)"/>
<circle cx="149.15" cy="705.88" r="3.3" fill="url(#g_purple)"/>
<circle cx="153.13" cy="706.30" r="3.3" fill="url(#g_purple)"/>
<circle cx="157.10" cy="706.80" r="3.3" fill="url(#g_purple)"/>
<circle cx="161.06" cy="707.35" r="3.3" fill="url(#g_purple)"/>
<circle cx="165.00" cy="708.04" r="3.3" fill="url(#g_purple)"/>
<circle cx="168.90" cy="708.92" r="3.3" fill="url(#g_purple)"/>
<circle cx="172.70" cy="710.15" r="3.3" fill="url(#g_purple)"/>
<circle cx="176.40" cy="711.67" r="3.3" fill="url(#g_purple)"/>
<circle cx="180.05" cy="713.32" r="3.3" fill="url(#g_purple)"/>
<circle cx="183.84" cy="714.58" r="3.3" fill="url(#g_purple)"/>
<circle cx="187.62" cy="715.90" r="3.3" fill="url(#g_purple)"/>
<circle cx="191.14" cy="717.74" r="3.3" fill="url(#g_purple)"/>
<circle cx="194.15" cy="720.34" r="3.3" fill="url(#g_purple)"/>
<circle cx="197.75" cy="722.08" r="3.3" fill="url(#g_purple)"/>
<circle cx="201.41" cy="723.69" r="3.3" fill="url(#g_purple)"/>
<circle cx="205.03" cy="725.39" r="3.3" fill="url(#g_purple)"/>
<circle cx="208.40" cy="727.53" r="3.3" fill="url(#g_purple)"/>
<circle cx="211.10" cy="730.46" r="3.3" fill="url(#g_purple)"/>
<circle cx="213.32" cy="733.78" r="3.3" fill="url(#g_purple)"/>
<circle cx="214.55" cy="737.55" r="3.3" fill="url(#g_purple)"/>
<circle cx="211.59" cy="739.54" r="3.3" fill="url(#g_purple)"/>
<circle cx="207.60" cy="739.72" r="3.3" fill="url(#g_purple)"/>
<circle cx="205.38" cy="739.78" r="3.3" fill="url(#g_purple)"/>
<rect x="60.6" y="768.4" width="299.4" height="99.30000000000007" fill="none" stroke="#000" stroke-width="1.3"/>
<line x1="60.60" y1="867.7" x2="60.60" y2="871.7" stroke="#000" stroke-width="1.2"/>
<text transform="translate(60.60 885.70) scale(0.97 1)" font-size="14" text-anchor="middle" font-weight="bold" fill="#000">0.00</text>
<line x1="132.45" y1="867.7" x2="132.45" y2="871.7" stroke="#000" stroke-width="1.2"/>
<text transform="translate(132.45 885.70) scale(0.97 1)" font-size="14" text-anchor="middle" font-weight="bold" fill="#000">0.05</text>
<line x1="204.30" y1="867.7" x2="204.30" y2="871.7" stroke="#000" stroke-width="1.2"/>
<text transform="translate(204.30 885.70) scale(0.97 1)" font-size="14" text-anchor="middle" font-weight="bold" fill="#000">0.10</text>
<line x1="276.15" y1="867.7" x2="276.15" y2="871.7" stroke="#000" stroke-width="1.2"/>
<text transform="translate(276.15 885.70) scale(0.97 1)" font-size="14" text-anchor="middle" font-weight="bold" fill="#000">0.15</text>
<line x1="348.00" y1="867.7" x2="348.00" y2="871.7" stroke="#000" stroke-width="1.2"/>
<text transform="translate(348.00 885.70) scale(0.97 1)" font-size="14" text-anchor="middle" font-weight="bold" fill="#000">0.20</text>
<line x1="96.53" y1="867.7" x2="96.53" y2="869.9000000000001" stroke="#000" stroke-width="1"/>
<line x1="168.37" y1="867.7" x2="168.37" y2="869.9000000000001" stroke="#000" stroke-width="1"/>
<line x1="240.22" y1="867.7" x2="240.22" y2="869.9000000000001" stroke="#000" stroke-width="1"/>
<line x1="312.07" y1="867.7" x2="312.07" y2="869.9000000000001" stroke="#000" stroke-width="1"/>
<line x1="60.6" y1="867.70" x2="56.6" y2="867.70" stroke="#000" stroke-width="1.2"/>
<text transform="translate(52.10 871.70) scale(0.97 1)" font-size="14" text-anchor="end" font-weight="bold" fill="#000">0.00</text>
<line x1="60.6" y1="796.60" x2="56.6" y2="796.60" stroke="#000" stroke-width="1.2"/>
<text transform="translate(52.10 800.60) scale(0.97 1)" font-size="14" text-anchor="end" font-weight="bold" fill="#000">0.05</text>
<line x1="60.6" y1="832.15" x2="58.4" y2="832.15" stroke="#000" stroke-width="1"/>
<text transform="translate(64.80 783.00) scale(1.12 1)" font-size="11.7" text-anchor="start" font-weight="bold" fill="#000">GCO-BGPC | BZCYYb | GCO-BGPC</text>
<text transform="translate(64.80 802.00) scale(1.12 1)" font-size="11.7" text-anchor="start" font-weight="bold" fill="#000">600 °C</text>
<circle cx="272.30" cy="794.20" r="3.5" fill="url(#g_green)"/>
<text transform="translate(284.90 798.70) scale(1.05 1)" font-size="12.5" text-anchor="start" font-weight="bold" fill="#000"><tspan font-style="italic">p</tspan><tspan font-size="8.5" dy="3">H2O</tspan><tspan dy="-3"> = 15%</tspan></text>
<circle cx="272.30" cy="813.70" r="3.5" fill="url(#g_orange)"/>
<text transform="translate(284.90 818.20) scale(1.05 1)" font-size="12.5" text-anchor="start" font-weight="bold" fill="#000"><tspan font-style="italic">p</tspan><tspan font-size="8.5" dy="3">H2O</tspan><tspan dy="-3"> = 20%</tspan></text>
<circle cx="60.42" cy="864.61" r="3.2" fill="url(#g_green)"/>
<circle cx="62.20" cy="861.03" r="3.2" fill="url(#g_green)"/>
<circle cx="64.68" cy="857.90" r="3.2" fill="url(#g_green)"/>
<circle cx="67.74" cy="855.34" r="3.2" fill="url(#g_green)"/>
<circle cx="71.28" cy="853.49" r="3.2" fill="url(#g_green)"/>
<circle cx="74.99" cy="852.00" r="3.2" fill="url(#g_green)"/>
<circle cx="78.81" cy="850.83" r="3.2" fill="url(#g_green)"/>
<circle cx="82.77" cy="850.25" r="3.2" fill="url(#g_green)"/>
<circle cx="86.75" cy="849.89" r="3.2" fill="url(#g_green)"/>
<circle cx="90.66" cy="849.07" r="3.2" fill="url(#g_green)"/>
<circle cx="94.48" cy="847.88" r="3.2" fill="url(#g_green)"/>
<circle cx="98.26" cy="846.57" r="3.2" fill="url(#g_green)"/>
<circle cx="102.03" cy="845.23" r="3.2" fill="url(#g_green)"/>
<circle cx="105.77" cy="843.81" r="3.2" fill="url(#g_green)"/>
<circle cx="109.48" cy="842.31" r="3.2" fill="url(#g_green)"/>
<circle cx="113.15" cy="840.74" r="3.2" fill="url(#g_green)"/>
<circle cx="116.80" cy="839.09" r="3.2" fill="url(#g_green)"/>
<circle cx="120.41" cy="837.38" r="3.2" fill="url(#g_green)"/>
<circle cx="123.99" cy="835.59" r="3.2" fill="url(#g_green)"/>
<circle cx="127.54" cy="833.74" r="3.2" fill="url(#g_green)"/>
<circle cx="131.02" cy="831.78" r="3.2" fill="url(#g_green)"/>
<circle cx="134.49" cy="829.79" r="3.2" fill="url(#g_green)"/>
<circle cx="138.01" cy="827.88" r="3.2" fill="url(#g_green)"/>
<circle cx="141.55" cy="826.03" r="3.2" fill="url(#g_green)"/>
<circle cx="145.15" cy="824.28" r="3.2" fill="url(#g_green)"/>
<circle cx="148.83" cy="822.70" r="3.2" fill="url(#g_green)"/>
<circle cx="152.57" cy="821.30" r="3.2" fill="url(#g_green)"/>
<circle cx="156.35" cy="819.99" r="3.2" fill="url(#g_green)"/>
<circle cx="160.18" cy="818.82" r="3.2" fill="url(#g_green)"/>
<circle cx="164.01" cy="817.67" r="3.2" fill="url(#g_green)"/>
<circle cx="167.73" cy="816.21" r="3.2" fill="url(#g_green)"/>
<circle cx="171.33" cy="814.47" r="3.2" fill="url(#g_green)"/>
<circle cx="175.03" cy="812.96" r="3.2" fill="url(#g_green)"/>
<circle cx="178.95" cy="812.19" r="3.2" fill="url(#g_green)"/>
<circle cx="182.93" cy="811.83" r="3.2" fill="url(#g_green)"/>
<circle cx="184.96" cy="811.66" r="3.2" fill="url(#g_green)"/>
<circle cx="161.39" cy="819.17" r="3.4" fill="url(#g_green)"/>
<circle cx="169.72" cy="816.39" r="3.4" fill="url(#g_green)"/>
<circle cx="178.06" cy="812.92" r="3.4" fill="url(#g_green)"/>
<circle cx="187.08" cy="810.56" r="3.4" fill="url(#g_green)"/>
<circle cx="197.22" cy="809.72" r="3.4" fill="url(#g_green)"/>
<circle cx="207.92" cy="810.14" r="3.4" fill="url(#g_green)"/>
<circle cx="218.33" cy="810.83" r="3.4" fill="url(#g_green)"/>
<circle cx="228.75" cy="812.92" r="3.4" fill="url(#g_green)"/>
<circle cx="239.17" cy="815.69" r="3.4" fill="url(#g_green)"/>
<circle cx="248.61" cy="819.44" r="3.4" fill="url(#g_green)"/>
<circle cx="256.94" cy="823.61" r="3.4" fill="url(#g_green)"/>
<circle cx="264.86" cy="828.19" r="3.4" fill="url(#g_green)"/>
<circle cx="272.22" cy="830.56" r="3.4" fill="url(#g_green)"/>
<circle cx="278.33" cy="836.11" r="3.4" fill="url(#g_green)"/>
<circle cx="282.92" cy="840.69" r="3.4" fill="url(#g_green)"/>
<circle cx="287.08" cy="845.28" r="3.4" fill="url(#g_green)"/>
<circle cx="291.25" cy="849.03" r="3.4" fill="url(#g_green)"/>
<circle cx="294.72" cy="850.42" r="3.4" fill="url(#g_green)"/>
<circle cx="298.19" cy="853.89" r="3.4" fill="url(#g_green)"/>
<circle cx="300.97" cy="856.67" r="3.4" fill="url(#g_green)"/>
<circle cx="303.75" cy="860.14" r="3.4" fill="url(#g_green)"/>
<circle cx="300.97" cy="862.22" r="3.4" fill="url(#g_green)"/>
<circle cx="297.50" cy="865.00" r="3.4" fill="url(#g_green)"/>
<circle cx="293.33" cy="866.11" r="3.4" fill="url(#g_green)"/>
<circle cx="289.17" cy="866.11" r="3.4" fill="url(#g_green)"/>
<circle cx="60.42" cy="864.61" r="3.2" fill="url(#g_orange)"/>
<circle cx="62.14" cy="861.12" r="3.2" fill="url(#g_orange)"/>
<circle cx="64.54" cy="858.05" r="3.2" fill="url(#g_orange)"/>
<circle cx="67.49" cy="855.50" r="3.2" fill="url(#g_orange)"/>
<circle cx="70.92" cy="853.66" r="3.2" fill="url(#g_orange)"/>
<circle cx="74.56" cy="852.27" r="3.2" fill="url(#g_orange)"/>
<circle cx="78.26" cy="851.04" r="3.2" fill="url(#g_orange)"/>
<circle cx="81.97" cy="849.84" r="3.2" fill="url(#g_orange)"/>
<circle cx="85.70" cy="848.69" r="3.2" fill="url(#g_orange)"/>
<circle cx="89.42" cy="847.54" r="3.2" fill="url(#g_orange)"/>
<circle cx="93.15" cy="846.40" r="3.2" fill="url(#g_orange)"/>
<circle cx="96.88" cy="845.24" r="3.2" fill="url(#g_orange)"/>
<circle cx="100.56" cy="843.97" r="3.2" fill="url(#g_orange)"/>
<circle cx="104.22" cy="842.61" r="3.2" fill="url(#g_orange)"/>
<circle cx="107.85" cy="841.18" r="3.2" fill="url(#g_orange)"/>
<circle cx="111.45" cy="839.68" r="3.2" fill="url(#g_orange)"/>
<circle cx="115.02" cy="838.11" r="3.2" fill="url(#g_orange)"/>
<circle cx="118.55" cy="836.47" r="3.2" fill="url(#g_orange)"/>
<circle cx="122.06" cy="834.76" r="3.2" fill="url(#g_orange)"/>
<circle cx="125.54" cy="832.99" r="3.2" fill="url(#g_orange)"/>
<circle cx="128.97" cy="831.15" r="3.2" fill="url(#g_orange)"/>
<circle cx="132.36" cy="829.21" r="3.2" fill="url(#g_orange)"/>
<circle cx="135.75" cy="827.29" r="3.2" fill="url(#g_orange)"/>
<circle cx="139.19" cy="825.45" r="3.2" fill="url(#g_orange)"/>
<circle cx="142.66" cy="823.67" r="3.2" fill="url(#g_orange)"/>
<circle cx="146.19" cy="822.01" r="3.2" fill="url(#g_orange)"/>
<circle cx="149.79" cy="820.53" r="3.2" fill="url(#g_orange)"/>
<circle cx="153.46" cy="819.19" r="3.2" fill="url(#g_orange)"/>
<circle cx="157.15" cy="817.92" r="3.2" fill="url(#g_orange)"/>
<circle cx="160.85" cy="816.71" r="3.2" fill="url(#g_orange)"/>
<circle cx="164.59" cy="815.59" r="3.2" fill="url(#g_orange)"/>
<circle cx="168.34" cy="814.54" r="3.2" fill="url(#g_orange)"/>
<circle cx="172.12" cy="813.56" r="3.2" fill="url(#g_orange)"/>
<circle cx="175.94" cy="812.76" r="3.2" fill="url(#g_orange)"/>
<circle cx="179.80" cy="812.22" r="3.2" fill="url(#g_orange)"/>
<circle cx="183.68" cy="811.80" r="3.2" fill="url(#g_orange)"/>
<circle cx="165.56" cy="816.39" r="3.4" fill="url(#g_orange)"/>
<circle cx="173.89" cy="814.72" r="3.4" fill="url(#g_orange)"/>
<circle cx="182.92" cy="813.19" r="3.4" fill="url(#g_orange)"/>
<circle cx="192.64" cy="812.50" r="3.4" fill="url(#g_orange)"/>
<circle cx="203.06" cy="812.50" r="3.4" fill="url(#g_orange)"/>
<circle cx="212.78" cy="813.89" r="3.4" fill="url(#g_orange)"/>
<circle cx="222.50" cy="816.11" r="3.4" fill="url(#g_orange)"/>
<circle cx="231.94" cy="819.17" r="3.4" fill="url(#g_orange)"/>
<circle cx="240.28" cy="823.06" r="3.4" fill="url(#g_orange)"/>
<circle cx="247.92" cy="827.50" r="3.4" fill="url(#g_orange)"/>
<circle cx="255.14" cy="832.36" r="3.4" fill="url(#g_orange)"/>
<circle cx="260.00" cy="834.44" r="3.4" fill="url(#g_orange)"/>
<circle cx="264.17" cy="839.31" r="3.4" fill="url(#g_orange)"/>
<circle cx="267.64" cy="843.47" r="3.4" fill="url(#g_orange)"/>
<circle cx="270.42" cy="846.94" r="3.4" fill="url(#g_orange)"/>
<circle cx="272.50" cy="850.42" r="3.4" fill="url(#g_orange)"/>
<circle cx="274.17" cy="853.89" r="3.4" fill="url(#g_orange)"/>
<circle cx="275.97" cy="857.36" r="3.4" fill="url(#g_orange)"/>
<circle cx="278.06" cy="860.83" r="3.4" fill="url(#g_orange)"/>
<circle cx="280.83" cy="862.92" r="3.4" fill="url(#g_orange)"/>
<circle cx="284.31" cy="863.61" r="3.4" fill="url(#g_orange)"/>
<circle cx="282.22" cy="865.69" r="3.4" fill="url(#g_orange)"/>
<circle cx="278.06" cy="866.11" r="3.4" fill="url(#g_orange)"/>
<circle cx="269.72" cy="866.39" r="3.4" fill="url(#g_orange)"/>
<circle cx="261.39" cy="866.67" r="3.4" fill="url(#g_orange)"/>
<text transform="translate(24.00 747.00) scale(1.04 1) rotate(-90) scale(1.065 1)" font-size="13" text-anchor="middle" font-weight="bold" fill="#000">-Z", Ω cm<tspan font-size="9" dy="-6">2</tspan></text>
<text transform="translate(213.20 900.00) scale(1.05 1)" font-size="13.3" text-anchor="middle" font-weight="bold" fill="#000">Z', Ω cm<tspan font-size='9' dy='-6'>2</tspan></text>
<text transform="translate(375.40 635.60)" font-size="20" text-anchor="start" font-weight="bold" fill="#000">h</text>
<rect x="426.5" y="642.4" width="271.9" height="225.20000000000005" fill="none" stroke="#000" stroke-width="1.3"/>
<line x1="438.50" y1="867.6" x2="438.50" y2="871.6" stroke="#000" stroke-width="1.2"/>
<line x1="487.48" y1="867.6" x2="487.48" y2="871.6" stroke="#000" stroke-width="1.2"/>
<line x1="536.46" y1="867.6" x2="536.46" y2="871.6" stroke="#000" stroke-width="1.2"/>
<line x1="585.44" y1="867.6" x2="585.44" y2="871.6" stroke="#000" stroke-width="1.2"/>
<line x1="634.42" y1="867.6" x2="634.42" y2="871.6" stroke="#000" stroke-width="1.2"/>
<line x1="683.40" y1="867.6" x2="683.40" y2="871.6" stroke="#000" stroke-width="1.2"/>
<line x1="427.63" y1="867.6" x2="427.63" y2="869.8000000000001" stroke="#000" stroke-width="1"/>
<line x1="430.91" y1="867.6" x2="430.91" y2="869.8000000000001" stroke="#000" stroke-width="1"/>
<line x1="433.75" y1="867.6" x2="433.75" y2="869.8000000000001" stroke="#000" stroke-width="1"/>
<line x1="436.26" y1="867.6" x2="436.26" y2="869.8000000000001" stroke="#000" stroke-width="1"/>
<line x1="453.24" y1="867.6" x2="453.24" y2="869.8000000000001" stroke="#000" stroke-width="1"/>
<line x1="461.87" y1="867.6" x2="461.87" y2="869.8000000000001" stroke="#000" stroke-width="1"/>
<line x1="467.99" y1="867.6" x2="467.99" y2="869.8000000000001" stroke="#000" stroke-width="1"/>
<line x1="472.74" y1="867.6" x2="472.74" y2="869.8000000000001" stroke="#000" stroke-width="1"/>
<line x1="476.61" y1="867.6" x2="476.61" y2="869.8000000000001" stroke="#000" stroke-width="1"/>
<line x1="479.89" y1="867.6" x2="479.89" y2="869.8000000000001" stroke="#000" stroke-width="1"/>
<line x1="482.73" y1="867.6" x2="482.73" y2="869.8000000000001" stroke="#000" stroke-width="1"/>
<line x1="485.24" y1="867.6" x2="485.24" y2="869.8000000000001" stroke="#000" stroke-width="1"/>
<line x1="502.22" y1="867.6" x2="502.22" y2="869.8000000000001" stroke="#000" stroke-width="1"/>
<line x1="510.85" y1="867.6" x2="510.85" y2="869.8000000000001" stroke="#000" stroke-width="1"/>
<line x1="516.97" y1="867.6" x2="516.97" y2="869.8000000000001" stroke="#000" stroke-width="1"/>
<line x1="521.72" y1="867.6" x2="521.72" y2="869.8000000000001" stroke="#000" stroke-width="1"/>
<line x1="525.59" y1="867.6" x2="525.59" y2="869.8000000000001" stroke="#000" stroke-width="1"/>
<line x1="528.87" y1="867.6" x2="528.87" y2="869.8000000000001" stroke="#000" stroke-width="1"/>
<line x1="531.71" y1="867.6" x2="531.71" y2="869.8000000000001" stroke="#000" stroke-width="1"/>
<line x1="534.22" y1="867.6" x2="534.22" y2="869.8000000000001" stroke="#000" stroke-width="1"/>
<line x1="551.20" y1="867.6" x2="551.20" y2="869.8000000000001" stroke="#000" stroke-width="1"/>
<line x1="559.83" y1="867.6" x2="559.83" y2="869.8000000000001" stroke="#000" stroke-width="1"/>
<line x1="565.95" y1="867.6" x2="565.95" y2="869.8000000000001" stroke="#000" stroke-width="1"/>
<line x1="570.70" y1="867.6" x2="570.70" y2="869.8000000000001" stroke="#000" stroke-width="1"/>
<line x1="574.57" y1="867.6" x2="574.57" y2="869.8000000000001" stroke="#000" stroke-width="1"/>
<line x1="577.85" y1="867.6" x2="577.85" y2="869.8000000000001" stroke="#000" stroke-width="1"/>
<line x1="580.69" y1="867.6" x2="580.69" y2="869.8000000000001" stroke="#000" stroke-width="1"/>
<line x1="583.20" y1="867.6" x2="583.20" y2="869.8000000000001" stroke="#000" stroke-width="1"/>
<line x1="600.18" y1="867.6" x2="600.18" y2="869.8000000000001" stroke="#000" stroke-width="1"/>
<line x1="608.81" y1="867.6" x2="608.81" y2="869.8000000000001" stroke="#000" stroke-width="1"/>
<line x1="614.93" y1="867.6" x2="614.93" y2="869.8000000000001" stroke="#000" stroke-width="1"/>
<line x1="619.68" y1="867.6" x2="619.68" y2="869.8000000000001" stroke="#000" stroke-width="1"/>
<line x1="623.55" y1="867.6" x2="623.55" y2="869.8000000000001" stroke="#000" stroke-width="1"/>
<line x1="626.83" y1="867.6" x2="626.83" y2="869.8000000000001" stroke="#000" stroke-width="1"/>
<line x1="629.67" y1="867.6" x2="629.67" y2="869.8000000000001" stroke="#000" stroke-width="1"/>
<line x1="632.18" y1="867.6" x2="632.18" y2="869.8000000000001" stroke="#000" stroke-width="1"/>
<line x1="649.16" y1="867.6" x2="649.16" y2="869.8000000000001" stroke="#000" stroke-width="1"/>
<line x1="657.79" y1="867.6" x2="657.79" y2="869.8000000000001" stroke="#000" stroke-width="1"/>
<line x1="663.91" y1="867.6" x2="663.91" y2="869.8000000000001" stroke="#000" stroke-width="1"/>
<line x1="668.66" y1="867.6" x2="668.66" y2="869.8000000000001" stroke="#000" stroke-width="1"/>
<line x1="672.53" y1="867.6" x2="672.53" y2="869.8000000000001" stroke="#000" stroke-width="1"/>
<line x1="675.81" y1="867.6" x2="675.81" y2="869.8000000000001" stroke="#000" stroke-width="1"/>
<line x1="678.65" y1="867.6" x2="678.65" y2="869.8000000000001" stroke="#000" stroke-width="1"/>
<line x1="681.16" y1="867.6" x2="681.16" y2="869.8000000000001" stroke="#000" stroke-width="1"/>
<text transform="translate(438.00 888.10)" font-size="13.5" text-anchor="middle" font-weight="bold" fill="#000">10<tspan font-size="10" dy="-5.5">0</tspan></text>
<text transform="translate(486.98 888.10)" font-size="13.5" text-anchor="middle" font-weight="bold" fill="#000">10<tspan font-size="10" dy="-5.5">1</tspan></text>
<text transform="translate(535.96 888.10)" font-size="13.5" text-anchor="middle" font-weight="bold" fill="#000">10<tspan font-size="10" dy="-5.5">2</tspan></text>
<text transform="translate(584.94 888.10)" font-size="13.5" text-anchor="middle" font-weight="bold" fill="#000">10<tspan font-size="10" dy="-5.5">3</tspan></text>
<text transform="translate(633.92 888.10)" font-size="13.5" text-anchor="middle" font-weight="bold" fill="#000">10<tspan font-size="10" dy="-5.5">4</tspan></text>
<text transform="translate(682.90 888.10)" font-size="13.5" text-anchor="middle" font-weight="bold" fill="#000">10<tspan font-size="10" dy="-5.5">5</tspan></text>
<line x1="426.5" y1="867.60" x2="422.5" y2="867.60" stroke="#000" stroke-width="1.2"/>
<text transform="translate(418.00 871.60) scale(0.97 1)" font-size="14" text-anchor="end" font-weight="bold" fill="#000">0.00</text>
<line x1="426.5" y1="792.53" x2="422.5" y2="792.53" stroke="#000" stroke-width="1.2"/>
<text transform="translate(418.00 796.53) scale(0.97 1)" font-size="14" text-anchor="end" font-weight="bold" fill="#000">0.02</text>
<line x1="426.5" y1="717.47" x2="422.5" y2="717.47" stroke="#000" stroke-width="1.2"/>
<text transform="translate(418.00 721.47) scale(0.97 1)" font-size="14" text-anchor="end" font-weight="bold" fill="#000">0.04</text>
<line x1="426.5" y1="642.40" x2="422.5" y2="642.40" stroke="#000" stroke-width="1.2"/>
<text transform="translate(418.00 646.40) scale(0.97 1)" font-size="14" text-anchor="end" font-weight="bold" fill="#000">0.06</text>
<line x1="426.5" y1="830.07" x2="424.3" y2="830.07" stroke="#000" stroke-width="1"/>
<line x1="426.5" y1="755.00" x2="424.3" y2="755.00" stroke="#000" stroke-width="1"/>
<line x1="426.5" y1="679.93" x2="424.3" y2="679.93" stroke="#000" stroke-width="1"/>
<path d="M433.46,867.60 L442.83,867.60 L453.27,867.60 L464.24,867.60 L475.24,867.60 L485.75,867.60 L495.24,867.60 L503.19,867.60 L509.09,867.58 L513.00,867.45 L515.48,867.32 L516.79,867.18 L517.18,867.02 L516.89,866.82 L516.17,866.58 L515.27,866.27 L514.43,865.90 L513.91,865.44 L513.95,864.88 L514.34,864.23 L514.71,863.51 L515.06,862.71 L515.39,861.85 L515.71,860.92 L516.01,859.92 L516.31,858.88 L516.60,857.78 L516.90,856.63 L517.19,855.43 L517.46,854.29 L517.68,853.26 L517.87,852.27 L518.05,851.24 L518.24,850.12 L518.45,848.82 L518.70,847.29 L519.02,845.45 L519.41,843.24 L519.89,840.58 L520.48,837.36 L521.17,833.59 L521.92,829.37 L522.74,824.83 L523.60,820.08 L524.49,815.25 L525.39,810.44 L526.29,805.79 L527.16,801.40 L527.99,797.39 L528.79,793.66 L529.57,790.04 L530.34,786.53 L531.10,783.13 L531.87,779.84 L532.66,776.65 L533.46,773.57 L534.30,770.60 L535.17,767.74 L536.09,764.99 L537.06,762.38 L538.08,759.94 L539.13,757.63 L540.22,755.44 L541.32,753.35 L542.44,751.32 L543.57,749.33 L544.69,747.37 L545.80,745.39 L546.89,743.39 L547.96,741.23 L549.01,738.88 L550.04,736.42 L551.08,733.95 L552.12,731.58 L553.17,729.40 L554.25,727.50 L555.36,725.98 L556.50,724.95 L557.69,724.49 L558.94,724.61 L560.26,725.18 L561.63,726.18 L563.02,727.54 L564.44,729.22 L565.85,731.17 L567.25,733.34 L568.62,735.68 L569.94,738.15 L571.19,740.69 L572.37,743.46 L573.48,746.59 L574.54,750.00 L575.57,753.63 L576.59,757.40 L577.60,761.23 L578.63,765.06 L579.70,768.81 L580.81,772.41 L581.99,775.79 L583.23,778.99 L584.51,782.12 L585.84,785.18 L587.19,788.19 L588.57,791.14 L589.96,794.06 L591.35,796.95 L592.74,799.81 L594.12,802.65 L595.49,805.49 L596.85,808.33 L598.23,811.19 L599.62,814.04 L601.02,816.87 L602.40,819.66 L603.78,822.40 L605.13,825.06 L606.46,827.65 L607.74,830.12 L608.98,832.48 L610.19,834.82 L611.36,837.21 L612.51,839.60 L613.63,841.92 L614.72,844.13 L615.79,846.16 L616.83,847.95 L617.84,849.46 L618.83,850.62 L619.78,851.38 L620.70,851.76 L621.58,851.84 L622.41,851.62 L623.22,851.12 L624.00,850.37 L624.77,849.37 L625.54,848.15 L626.31,846.72 L627.09,845.09 L627.88,843.28 L628.69,841.16 L629.50,838.64 L630.31,835.79 L631.12,832.70 L631.93,829.45 L632.74,826.11 L633.55,822.78 L634.36,819.52 L635.17,816.43 L635.98,813.59 L636.80,810.75 L637.65,807.73 L638.50,804.62 L639.35,801.53 L640.20,798.57 L641.04,795.83 L641.85,793.43 L642.63,791.47 L643.38,790.05 L644.08,789.29 L644.73,789.13 L645.31,789.46 L645.86,790.23 L646.37,791.43 L646.87,793.00 L647.35,794.92 L647.85,797.17 L648.36,799.70 L648.90,802.48 L649.48,805.49 L650.11,809.01 L650.79,813.24 L651.49,818.01 L652.21,823.13 L652.94,828.43 L653.66,833.74 L654.36,838.86 L655.03,843.63 L655.66,847.86 L656.23,851.38 L656.59,854.28 L656.64,856.78 L656.52,858.93 L656.33,860.78 L656.20,862.35 L656.22,863.69 L656.53,864.85 L657.23,865.85 L658.44,866.75 L660.28,867.58 L662.98,867.60 L666.57,867.60 L670.82,867.60 L675.49,867.60 L680.38,867.60 L685.24,867.60 L689.86,867.60 L694.00,867.60 L697.45,867.60" fill="none" stroke="#ec4040" stroke-width="1.7" stroke-linejoin="round"/>
<path d="M433.05,867.60 L442.14,867.60 L452.25,867.60 L462.89,867.60 L473.56,867.60 L483.75,867.60 L492.95,867.60 L500.67,867.60 L506.39,867.58 L510.19,867.46 L512.61,867.34 L513.89,867.22 L514.29,867.08 L514.02,866.91 L513.34,866.67 L512.48,866.37 L511.69,865.98 L511.20,865.49 L511.25,864.88 L511.64,864.20 L512.01,863.50 L512.36,862.75 L512.69,861.92 L513.01,861.00 L513.31,859.96 L513.61,858.77 L513.90,857.41 L514.20,855.85 L514.49,854.08 L514.76,852.15 L514.98,850.11 L515.17,847.94 L515.35,845.62 L515.54,843.11 L515.75,840.41 L516.00,837.48 L516.32,834.30 L516.71,830.84 L517.19,827.08 L517.78,822.85 L518.47,818.08 L519.23,812.89 L520.04,807.41 L520.90,801.77 L521.79,796.11 L522.69,790.55 L523.59,785.23 L524.46,780.26 L525.29,775.79 L526.09,771.66 L526.87,767.67 L527.64,763.83 L528.40,760.17 L529.17,756.72 L529.96,753.50 L530.76,750.53 L531.60,747.84 L532.47,745.45 L533.39,743.39 L534.37,741.76 L535.42,740.58 L536.52,739.79 L537.65,739.29 L538.79,739.00 L539.94,738.86 L541.06,738.76 L542.16,738.64 L543.21,738.41 L544.19,737.99 L545.11,737.46 L545.98,736.95 L546.82,736.46 L547.62,735.96 L548.41,735.46 L549.18,734.95 L549.94,734.41 L550.71,733.84 L551.49,733.24 L552.29,732.59 L553.09,731.77 L553.87,730.71 L554.63,729.51 L555.40,728.25 L556.17,727.02 L556.95,725.92 L557.76,725.02 L558.60,724.43 L559.47,724.22 L560.39,724.49 L561.36,725.20 L562.38,726.24 L563.43,727.58 L564.51,729.20 L565.62,731.07 L566.74,733.17 L567.86,735.48 L568.98,737.97 L570.10,740.61 L571.19,743.39 L572.26,746.47 L573.30,749.96 L574.34,753.77 L575.38,757.80 L576.42,761.95 L577.47,766.13 L578.55,770.25 L579.65,774.19 L580.80,777.87 L581.99,781.19 L583.23,784.18 L584.51,786.95 L585.84,789.55 L587.19,792.01 L588.57,794.35 L589.96,796.61 L591.35,798.82 L592.74,801.02 L594.12,803.23 L595.49,805.49 L596.84,807.74 L598.19,809.94 L599.54,812.08 L600.89,814.19 L602.24,816.29 L603.59,818.38 L604.94,820.49 L606.29,822.63 L607.63,824.83 L608.98,827.08 L610.37,829.53 L611.81,832.20 L613.29,835.03 L614.77,837.90 L616.24,840.75 L617.67,843.48 L619.03,845.99 L620.30,848.21 L621.46,850.03 L622.48,851.38 L623.34,852.33 L624.04,853.00 L624.61,853.41 L625.10,853.54 L625.52,853.41 L625.92,853.00 L626.32,852.33 L626.76,851.38 L627.27,850.17 L627.88,848.68 L628.57,846.79 L629.29,844.43 L630.03,841.67 L630.80,838.62 L631.60,835.35 L632.42,831.97 L633.27,828.55 L634.15,825.18 L635.05,821.97 L635.98,818.98 L636.97,815.93 L638.03,812.55 L639.15,808.99 L640.30,805.40 L641.47,801.94 L642.62,798.77 L643.75,796.03 L644.84,793.89 L645.85,792.49 L646.78,791.99 L647.62,792.41 L648.39,793.63 L649.10,795.52 L649.77,797.99 L650.41,800.93 L651.03,804.23 L651.63,807.80 L652.25,811.51 L652.87,815.28 L653.53,818.98 L654.21,823.00 L654.90,827.65 L655.60,832.73 L656.30,838.06 L656.99,843.45 L657.68,848.73 L658.36,853.69 L659.02,858.16 L659.66,861.96 L660.28,864.88 L660.75,866.91 L660.98,867.60 L661.09,867.60 L661.15,867.60 L661.26,867.60 L661.51,867.60 L661.98,867.60 L662.77,867.60 L663.98,867.60 L665.68,867.58 L668.09,867.60 L671.24,867.60 L674.92,867.60 L678.96,867.60 L683.16,867.60 L687.33,867.60 L691.29,867.60 L694.84,867.60 L697.80,867.59" fill="none" stroke="#f0a830" stroke-width="1.7" stroke-linejoin="round"/>
<path d="M431.40,867.60 L439.33,867.60 L448.16,867.60 L457.46,867.60 L466.78,867.60 L475.69,867.60 L483.76,867.60 L490.54,867.60 L495.59,867.58 L498.98,867.49 L501.19,867.41 L502.42,867.34 L502.87,867.25 L502.77,867.13 L502.30,866.95 L501.68,866.71 L501.12,866.39 L500.82,865.96 L500.99,865.42 L501.45,864.80 L501.89,864.13 L502.31,863.41 L502.71,862.61 L503.10,861.73 L503.49,860.74 L503.87,859.63 L504.25,858.38 L504.64,856.99 L505.04,855.43 L505.43,853.79 L505.79,852.13 L506.13,850.39 L506.47,848.55 L506.81,846.54 L507.18,844.33 L507.58,841.86 L508.02,839.10 L508.52,835.99 L509.09,832.48 L509.74,828.37 L510.45,823.59 L511.23,818.29 L512.04,812.65 L512.89,806.84 L513.76,801.03 L514.63,795.39 L515.51,790.09 L516.36,785.30 L517.19,781.19 L518.01,777.65 L518.83,774.44 L519.66,771.54 L520.50,768.93 L521.33,766.59 L522.15,764.50 L522.96,762.64 L523.76,760.99 L524.54,759.53 L525.29,758.24 L526.01,757.28 L526.68,756.78 L527.33,756.63 L527.96,756.73 L528.58,756.97 L529.21,757.27 L529.86,757.51 L530.54,757.59 L531.26,757.42 L532.04,756.89 L532.88,756.07 L533.78,755.10 L534.72,753.99 L535.69,752.75 L536.68,751.41 L537.68,749.96 L538.67,748.42 L539.64,746.80 L540.59,745.12 L541.49,743.39 L542.35,741.53 L543.17,739.48 L543.98,737.29 L544.76,735.01 L545.54,732.68 L546.32,730.33 L547.10,728.03 L547.90,725.81 L548.73,723.72 L549.59,721.79 L550.49,719.91 L551.41,717.96 L552.37,715.99 L553.34,714.07 L554.31,712.26 L555.29,710.62 L556.26,709.20 L557.21,708.08 L558.14,707.30 L559.04,706.94 L559.90,706.95 L560.72,707.24 L561.53,707.80 L562.31,708.63 L563.09,709.73 L563.87,711.09 L564.65,712.71 L565.45,714.59 L566.28,716.72 L567.14,719.09 L568.03,721.85 L568.96,725.05 L569.92,728.63 L570.89,732.49 L571.86,736.56 L572.84,740.73 L573.81,744.94 L574.76,749.09 L575.69,753.10 L576.59,756.89 L577.45,760.62 L578.29,764.47 L579.12,768.38 L579.92,772.29 L580.72,776.13 L581.51,779.83 L582.30,783.33 L583.09,786.57 L583.88,789.47 L584.69,791.99 L585.47,794.09 L586.22,795.83 L586.95,797.27 L587.67,798.44 L588.40,799.41 L589.16,800.22 L589.96,800.91 L590.82,801.53 L591.76,802.14 L592.79,802.79 L593.93,803.31 L595.18,803.59 L596.52,803.68 L597.93,803.67 L599.37,803.63 L600.82,803.63 L602.26,803.74 L603.67,804.04 L605.02,804.60 L606.29,805.49 L607.46,806.68 L608.57,808.10 L609.64,809.71 L610.67,811.49 L611.68,813.42 L612.70,815.46 L613.73,817.61 L614.79,819.83 L615.91,822.09 L617.08,824.38 L618.36,826.89 L619.74,829.74 L621.19,832.82 L622.68,836.03 L624.17,839.23 L625.64,842.33 L627.04,845.21 L628.36,847.75 L629.55,849.85 L630.58,851.38 L631.44,852.46 L632.14,853.26 L632.71,853.78 L633.20,854.00 L633.62,853.91 L634.02,853.52 L634.42,852.81 L634.86,851.77 L635.37,850.40 L635.98,848.68 L636.69,846.44 L637.45,843.56 L638.26,840.19 L639.09,836.46 L639.95,832.48 L640.81,828.40 L641.67,824.34 L642.51,820.43 L643.31,816.80 L644.08,813.59 L644.82,810.51 L645.54,807.30 L646.25,804.06 L646.94,800.89 L647.63,797.89 L648.29,795.18 L648.95,792.86 L649.59,791.04 L650.22,789.81 L650.83,789.29 L651.42,789.50 L651.98,790.37 L652.51,791.80 L653.02,793.71 L653.53,796.04 L654.04,798.68 L654.55,801.57 L655.09,804.62 L655.64,807.75 L656.23,810.89 L656.86,814.29 L657.52,818.19 L658.20,822.45 L658.90,826.95 L659.61,831.56 L660.31,836.12 L661.01,840.52 L661.70,844.62 L662.35,848.29 L662.98,851.38 L663.46,853.97 L663.73,856.21 L663.87,858.15 L663.98,859.82 L664.13,861.25 L664.40,862.49 L664.88,863.58 L665.65,864.54 L666.79,865.41 L668.38,866.23 L670.62,866.92 L673.53,867.39 L676.93,867.60 L680.65,867.60 L684.51,867.60 L688.35,867.60 L691.99,867.60 L695.25,867.60 L697.97,867.56" fill="none" stroke="#20c020" stroke-width="1.7" stroke-linejoin="round"/>
<path d="M428.10,867.60 L431.79,867.60 L435.69,867.60 L439.63,867.60 L443.44,867.60 L446.95,867.60 L450.00,867.60 L452.40,867.58 L454.20,866.69 L455.59,865.64 L456.66,864.42 L457.45,863.05 L458.05,861.51 L458.52,859.81 L458.93,857.94 L459.35,855.92 L459.85,853.73 L460.50,851.38 L461.23,848.73 L461.93,845.70 L462.62,842.39 L463.29,838.88 L463.96,835.27 L464.61,831.65 L465.26,828.12 L465.92,824.77 L466.58,821.70 L467.25,818.98 L467.92,816.53 L468.60,814.18 L469.27,811.95 L469.95,809.86 L470.62,807.93 L471.30,806.19 L471.97,804.65 L472.65,803.33 L473.32,802.25 L474.00,801.44 L474.66,800.89 L475.30,800.58 L475.94,800.51 L476.57,800.66 L477.20,801.01 L477.85,801.57 L478.52,802.30 L479.22,803.21 L479.96,804.27 L480.75,805.49 L481.57,806.95 L482.44,808.73 L483.34,810.76 L484.27,812.99 L485.22,815.36 L486.19,817.80 L487.18,820.25 L488.17,822.66 L489.18,824.95 L490.19,827.08 L491.24,829.18 L492.35,831.38 L493.50,833.63 L494.68,835.87 L495.85,838.05 L497.00,840.11 L498.11,841.99 L499.16,843.63 L500.13,844.98 L500.99,845.98 L501.73,846.75 L502.33,847.39 L502.84,847.87 L503.28,848.14 L503.69,848.18 L504.10,847.93 L504.55,847.35 L505.05,846.41 L505.66,845.07 L506.39,843.28 L507.25,840.97 L508.21,838.14 L509.24,834.86 L510.32,831.21 L511.46,827.25 L512.61,823.07 L513.78,818.72 L514.95,814.30 L516.09,809.86 L517.19,805.49 L518.27,801.00 L519.35,796.24 L520.43,791.28 L521.51,786.18 L522.59,781.02 L523.67,775.87 L524.75,770.82 L525.83,765.92 L526.91,761.25 L527.99,756.89 L529.08,752.74 L530.17,748.66 L531.27,744.69 L532.38,740.84 L533.48,737.15 L534.57,733.63 L535.65,730.31 L536.72,727.21 L537.77,724.37 L538.79,721.79 L539.79,719.47 L540.77,717.37 L541.72,715.48 L542.67,713.80 L543.60,712.34 L544.52,711.10 L545.45,710.08 L546.37,709.27 L547.30,708.67 L548.24,708.29 L549.18,708.17 L550.11,708.32 L551.03,708.71 L551.95,709.33 L552.88,710.15 L553.81,711.14 L554.75,712.29 L555.71,713.56 L556.69,714.94 L557.69,716.39 L558.70,717.91 L559.72,719.50 L560.74,721.20 L561.78,723.02 L562.84,725.00 L563.91,727.15 L565.01,729.50 L566.13,732.07 L567.29,734.90 L568.49,737.99 L569.74,741.54 L571.06,745.62 L572.42,750.09 L573.82,754.82 L575.24,759.67 L576.65,764.52 L578.05,769.24 L579.42,773.67 L580.73,777.70 L581.99,781.19 L583.18,784.23 L584.32,787.01 L585.43,789.54 L586.50,791.85 L587.56,793.93 L588.60,795.80 L589.63,797.47 L590.67,798.96 L591.72,800.28 L592.79,801.44 L593.87,802.32 L594.95,802.85 L596.03,803.10 L597.11,803.14 L598.19,803.04 L599.27,802.86 L600.35,802.68 L601.43,802.56 L602.51,802.57 L603.59,802.79 L604.67,803.06 L605.75,803.26 L606.83,803.43 L607.90,803.62 L608.98,803.88 L610.06,804.28 L611.14,804.85 L612.22,805.66 L613.30,806.75 L614.38,808.19 L615.48,810.04 L616.59,812.29 L617.71,814.87 L618.83,817.69 L619.95,820.67 L621.06,823.74 L622.14,826.80 L623.20,829.78 L624.21,832.61 L625.18,835.18 L626.10,837.76 L626.98,840.54 L627.81,843.42 L628.62,846.29 L629.40,849.02 L630.17,851.51 L630.94,853.65 L631.71,855.31 L632.49,856.40 L633.28,856.78 L634.09,856.44 L634.90,855.49 L635.71,853.99 L636.52,852.03 L637.33,849.69 L638.14,847.06 L638.95,844.21 L639.76,841.23 L640.57,838.19 L641.38,835.18 L642.20,831.95 L643.05,828.27 L643.90,824.27 L644.75,820.06 L645.60,815.78 L646.44,811.53 L647.25,807.45 L648.03,803.65 L648.78,800.26 L649.48,797.39 L650.13,794.89 L650.73,792.57 L651.30,790.45 L651.84,788.55 L652.35,786.92 L652.85,785.59 L653.35,784.59 L653.84,783.95 L654.35,783.71 L654.88,783.89 L655.42,784.54 L655.94,785.66 L656.46,787.19 L656.98,789.09 L657.50,791.31 L658.02,793.80 L658.56,796.51 L659.11,799.40 L659.69,802.40 L660.28,805.49 L660.90,808.86 L661.54,812.70 L662.21,816.88 L662.88,821.30 L663.57,825.82 L664.27,830.33 L664.96,834.73 L665.66,838.88 L666.35,842.67 L667.03,845.98 L667.62,848.91 L668.07,851.63 L668.44,854.14 L668.80,856.45 L669.19,858.55 L669.68,860.46 L670.33,862.18 L671.19,863.71 L672.32,865.06 L673.78,866.23 L675.73,867.14 L678.19,867.60 L681.03,867.60 L684.11,867.60 L687.30,867.60 L690.44,867.60 L693.42,867.60 L696.10,867.60 L698.32,867.59" fill="none" stroke="#2850e0" stroke-width="1.7" stroke-linejoin="round"/>
<path d="M426.72,867.60 L428.94,867.60 L431.21,867.60 L433.43,867.60 L435.51,867.60 L437.36,867.60 L438.90,867.58 L440.16,867.43 L441.25,867.45 L442.21,867.55 L443.05,867.60 L443.79,867.58 L444.47,867.32 L445.11,866.75 L445.72,865.77 L446.35,864.28 L447.00,862.18 L447.65,859.56 L448.27,856.57 L448.86,853.19 L449.42,849.44 L449.95,845.31 L450.46,840.80 L450.96,835.91 L451.45,830.65 L451.92,825.01 L452.40,818.98 L452.86,812.25 L453.29,804.60 L453.71,796.27 L454.11,787.49 L454.51,778.49 L454.89,769.48 L455.27,760.70 L455.66,752.38 L456.05,744.73 L456.45,737.99 L456.85,731.84 L457.26,725.85 L457.66,720.13 L458.07,714.75 L458.47,709.81 L458.88,705.40 L459.28,701.60 L459.69,698.51 L460.09,696.21 L460.50,694.79 L460.90,694.48 L461.31,695.29 L461.71,697.04 L462.12,699.52 L462.52,702.56 L462.93,705.94 L463.33,709.48 L463.74,712.98 L464.14,716.25 L464.55,719.09 L464.95,721.79 L465.36,724.71 L465.76,727.76 L466.17,730.86 L466.57,733.94 L466.98,736.91 L467.38,739.69 L467.79,742.20 L468.19,744.36 L468.60,746.09 L469.00,747.28 L469.41,747.97 L469.81,748.26 L470.22,748.27 L470.62,748.12 L471.03,747.90 L471.43,747.75 L471.84,747.78 L472.24,748.08 L472.65,748.79 L473.04,749.72 L473.43,750.65 L473.82,751.64 L474.20,752.74 L474.59,754.02 L474.98,755.53 L475.38,757.32 L475.80,759.46 L476.24,762.00 L476.70,764.99 L477.18,768.56 L477.69,772.72 L478.22,777.36 L478.76,782.35 L479.31,787.60 L479.87,792.98 L480.43,798.38 L480.99,803.69 L481.55,808.80 L482.10,813.59 L482.63,818.28 L483.17,823.11 L483.71,828.00 L484.25,832.87 L484.79,837.63 L485.33,842.19 L485.87,846.47 L486.41,850.39 L486.95,853.85 L487.49,856.78 L488.03,859.14 L488.57,861.00 L489.11,862.44 L489.65,863.51 L490.19,864.29 L490.73,864.85 L491.27,865.25 L491.81,865.57 L492.35,865.88 L492.89,866.23 L493.43,866.61 L493.97,866.93 L494.51,867.17 L495.05,867.31 L495.59,867.33 L496.13,867.20 L496.67,866.92 L497.21,866.45 L497.75,865.78 L498.29,864.88 L498.82,863.92 L499.33,863.00 L499.83,862.03 L500.32,860.92 L500.82,859.57 L501.34,857.88 L501.88,855.78 L502.44,853.15 L503.04,849.92 L503.69,845.98 L504.39,841.20 L505.14,835.59 L505.92,829.31 L506.74,822.48 L507.57,815.27 L508.42,807.82 L509.28,800.27 L510.13,792.76 L510.97,785.46 L511.79,778.49 L512.60,771.58 L513.41,764.43 L514.22,757.13 L515.03,749.81 L515.84,742.55 L516.65,735.46 L517.46,728.66 L518.27,722.25 L519.08,716.32 L519.89,710.99 L520.72,706.21 L521.58,701.84 L522.45,697.84 L523.33,694.21 L524.19,690.91 L525.04,687.93 L525.86,685.23 L526.63,682.79 L527.35,680.58 L527.99,678.60 L528.55,676.90 L529.02,675.57 L529.42,674.57 L529.77,673.84 L530.10,673.37 L530.42,673.09 L530.76,672.97 L531.12,672.98 L531.54,673.07 L532.04,673.20 L532.60,673.41 L533.20,673.78 L533.82,674.29 L534.48,674.95 L535.16,675.73 L535.86,676.63 L536.58,677.65 L537.31,678.77 L538.05,679.99 L538.79,681.30 L539.55,682.76 L540.32,684.43 L541.12,686.26 L541.93,688.21 L542.76,690.24 L543.59,692.31 L544.42,694.38 L545.25,696.41 L546.07,698.37 L546.89,700.19 L547.70,701.94 L548.51,703.65 L549.32,705.34 L550.13,707.00 L550.94,708.63 L551.75,710.24 L552.56,711.82 L553.37,713.37 L554.18,714.89 L554.99,716.39 L555.80,717.85 L556.61,719.27 L557.42,720.64 L558.23,721.99 L559.04,723.31 L559.85,724.62 L560.66,725.93 L561.47,727.24 L562.28,728.55 L563.09,729.89 L563.89,731.19 L564.67,732.42 L565.43,733.60 L566.20,734.77 L566.97,735.97 L567.75,737.21 L568.56,738.55 L569.40,740.00 L570.27,741.60 L571.19,743.39 L572.16,745.41 L573.17,747.65 L574.23,750.06 L575.31,752.59 L576.42,755.20 L577.54,757.84 L578.66,760.46 L579.78,763.00 L580.89,765.43 L581.99,767.69 L583.07,769.82 L584.15,771.90 L585.23,773.93 L586.31,775.90 L587.39,777.81 L588.47,779.68 L589.55,781.48 L590.63,783.24 L591.71,784.94 L592.79,786.59 L593.89,788.20 L595.03,789.78 L596.20,791.33 L597.37,792.83 L598.52,794.26 L599.65,795.63 L600.74,796.90 L601.77,798.08 L602.72,799.14 L603.59,800.09 L604.32,800.89 L604.92,801.55 L605.43,802.10 L605.87,802.54 L606.29,802.90 L606.70,803.20 L607.14,803.46 L607.65,803.68 L608.25,803.90 L608.98,804.14 L609.87,804.35 L610.89,804.51 L612.00,804.63 L613.17,804.71 L614.38,804.76 L615.59,804.80 L616.77,804.82 L617.88,804.85 L618.90,804.89 L619.78,804.95 L620.53,804.95 L621.17,804.86 L621.72,804.72 L622.20,804.56 L622.65,804.42 L623.09,804.35 L623.54,804.38 L624.02,804.55 L624.56,804.91 L625.18,805.49 L625.88,806.26 L626.63,807.18 L627.41,808.24 L628.23,809.43 L629.06,810.75 L629.91,812.19 L630.77,813.73 L631.62,815.39 L632.46,817.14 L633.28,818.98 L634.10,821.04 L634.92,823.37 L635.76,825.91 L636.59,828.57 L637.42,831.30 L638.24,834.02 L639.05,836.65 L639.85,839.11 L640.63,841.35 L641.38,843.28 L642.11,844.99 L642.82,846.61 L643.51,848.11 L644.18,849.48 L644.84,850.71 L645.50,851.77 L646.15,852.66 L646.80,853.35 L647.46,853.83 L648.13,854.08 L648.80,854.18 L649.46,854.19 L650.11,854.06 L650.77,853.76 L651.42,853.24 L652.08,852.46 L652.76,851.39 L653.44,849.98 L654.15,848.19 L654.88,845.98 L655.64,843.17 L656.44,839.68 L657.25,835.66 L658.09,831.27 L658.93,826.66 L659.77,821.98 L660.61,817.37 L661.43,812.98 L662.22,808.97 L662.98,805.49 L663.71,802.29 L664.42,799.08 L665.10,795.95 L665.78,792.97 L666.44,790.22 L667.10,787.76 L667.75,785.69 L668.40,784.08 L669.06,783.00 L669.73,782.54 L670.41,782.71 L671.10,783.46 L671.80,784.71 L672.49,786.43 L673.19,788.53 L673.88,790.96 L674.55,793.66 L675.22,796.58 L675.86,799.64 L676.48,802.79 L677.07,806.28 L677.65,810.32 L678.20,814.78 L678.74,819.51 L679.26,824.38 L679.78,829.25 L680.30,833.99 L680.82,838.44 L681.35,842.49 L681.88,845.98 L682.39,849.02 L682.84,851.80 L683.27,854.34 L683.69,856.64 L684.12,858.72 L684.59,860.59 L685.12,862.27 L685.73,863.76 L686.44,865.07 L687.28,866.23 L688.31,867.14 L689.55,867.60 L690.95,867.60 L692.44,867.60 L693.96,867.60 L695.46,867.60 L696.86,867.60 L698.13,867.60" fill="none" stroke="#8a1ed8" stroke-width="1.7" stroke-linejoin="round"/>
<line x1="593.7" y1="655" x2="620" y2="655" stroke="#8a1ed8" stroke-width="1.7"/>
<text transform="translate(625.40 659.50)" font-size="12.5" text-anchor="start" font-weight="bold" fill="#000"><tspan font-style="italic">p</tspan><tspan font-size="8.5" dy="3">H2O</tspan><tspan dy="-3"> = 0</tspan></text>
<line x1="593.7" y1="674.1" x2="620" y2="674.1" stroke="#2850e0" stroke-width="1.7"/>
<text transform="translate(625.40 678.60)" font-size="12.5" text-anchor="start" font-weight="bold" fill="#000"><tspan font-style="italic">p</tspan><tspan font-size="8.5" dy="3">H2O</tspan><tspan dy="-3"> = 5%</tspan></text>
<line x1="593.7" y1="693.6" x2="620" y2="693.6" stroke="#20c020" stroke-width="1.7"/>
<text transform="translate(625.40 698.10)" font-size="12.5" text-anchor="start" font-weight="bold" fill="#000"><tspan font-style="italic">p</tspan><tspan font-size="8.5" dy="3">H2O</tspan><tspan dy="-3"> = 10%</tspan></text>
<line x1="593.7" y1="712.4" x2="620" y2="712.4" stroke="#f0a830" stroke-width="1.7"/>
<text transform="translate(625.40 716.90)" font-size="12.5" text-anchor="start" font-weight="bold" fill="#000"><tspan font-style="italic">p</tspan><tspan font-size="8.5" dy="3">H2O</tspan><tspan dy="-3"> = 15%</tspan></text>
<line x1="593.7" y1="731.8" x2="620" y2="731.8" stroke="#ec4040" stroke-width="1.7"/>
<text transform="translate(625.40 736.30)" font-size="12.5" text-anchor="start" font-weight="bold" fill="#000"><tspan font-style="italic">p</tspan><tspan font-size="8.5" dy="3">H2O</tspan><tspan dy="-3"> = 20%</tspan></text>
<text transform="translate(385.60 756.70) scale(1.04 1) rotate(-90) scale(1.065 1)" font-size="13" text-anchor="middle" font-weight="bold" fill="#000">DRT, Ω cm<tspan font-size="9" dy="-6">-2</tspan><tspan dy="6"> s</tspan></text>
<text transform="translate(557.90 906.00)" font-size="13.3" text-anchor="middle" font-weight="bold" fill="#000">Frequenc, Hz</text>
<text transform="translate(724.00 635.60)" font-size="20" text-anchor="start" font-weight="bold" fill="#000">i</text>
<rect x="766" y="642.4" width="272" height="225.20000000000005" fill="none" stroke="#000" stroke-width="1.3"/>
<line x1="800.90" y1="867.6" x2="800.90" y2="871.6" stroke="#000" stroke-width="1.2"/>
<text transform="translate(800.90 885.60) scale(0.97 1)" font-size="14" text-anchor="middle" font-weight="bold" fill="#000">-3.0</text>
<line x1="868.90" y1="867.6" x2="868.90" y2="871.6" stroke="#000" stroke-width="1.2"/>
<text transform="translate(868.90 885.60) scale(0.97 1)" font-size="14" text-anchor="middle" font-weight="bold" fill="#000">-2.5</text>
<line x1="936.90" y1="867.6" x2="936.90" y2="871.6" stroke="#000" stroke-width="1.2"/>
<text transform="translate(936.90 885.60) scale(0.97 1)" font-size="14" text-anchor="middle" font-weight="bold" fill="#000">-2.0</text>
<line x1="1004.90" y1="867.6" x2="1004.90" y2="871.6" stroke="#000" stroke-width="1.2"/>
<text transform="translate(1004.90 885.60) scale(0.97 1)" font-size="14" text-anchor="middle" font-weight="bold" fill="#000">-1.5</text>
<line x1="766.90" y1="867.6" x2="766.90" y2="869.8000000000001" stroke="#000" stroke-width="1"/>
<line x1="834.90" y1="867.6" x2="834.90" y2="869.8000000000001" stroke="#000" stroke-width="1"/>
<line x1="902.90" y1="867.6" x2="902.90" y2="869.8000000000001" stroke="#000" stroke-width="1"/>
<line x1="970.90" y1="867.6" x2="970.90" y2="869.8000000000001" stroke="#000" stroke-width="1"/>
<line x1="1038.90" y1="867.6" x2="1038.90" y2="869.8000000000001" stroke="#000" stroke-width="1"/>
<line x1="766" y1="642.40" x2="762" y2="642.40" stroke="#000" stroke-width="1.2"/>
<text transform="translate(757.50 646.40) scale(0.97 1)" font-size="14" text-anchor="end" font-weight="bold" fill="#000">-1</text>
<line x1="766" y1="698.70" x2="762" y2="698.70" stroke="#000" stroke-width="1.2"/>
<text transform="translate(757.50 702.70) scale(0.97 1)" font-size="14" text-anchor="end" font-weight="bold" fill="#000">-2</text>
<line x1="766" y1="755.00" x2="762" y2="755.00" stroke="#000" stroke-width="1.2"/>
<text transform="translate(757.50 759.00) scale(0.97 1)" font-size="14" text-anchor="end" font-weight="bold" fill="#000">-3</text>
<line x1="766" y1="811.30" x2="762" y2="811.30" stroke="#000" stroke-width="1.2"/>
<text transform="translate(757.50 815.30) scale(0.97 1)" font-size="14" text-anchor="end" font-weight="bold" fill="#000">-4</text>
<line x1="766" y1="867.60" x2="762" y2="867.60" stroke="#000" stroke-width="1.2"/>
<text transform="translate(757.50 871.60) scale(0.97 1)" font-size="14" text-anchor="end" font-weight="bold" fill="#000">-5</text>
<line x1="766" y1="670.55" x2="763.8" y2="670.55" stroke="#000" stroke-width="1"/>
<line x1="766" y1="726.85" x2="763.8" y2="726.85" stroke="#000" stroke-width="1"/>
<line x1="766" y1="783.15" x2="763.8" y2="783.15" stroke="#000" stroke-width="1"/>
<line x1="766" y1="839.45" x2="763.8" y2="839.45" stroke="#000" stroke-width="1"/>
<line x1="800.86" y1="684.38" x2="989.53" y2="698.02" stroke="#2a86ea" stroke-width="1.6"/>
<circle cx="800.86" cy="685.74" r="4.0" fill="url(#g_blue)"/>
<circle cx="894.68" cy="687.79" r="4.0" fill="url(#g_blue)"/>
<circle cx="949.61" cy="693.93" r="4.0" fill="url(#g_blue)"/>
<circle cx="988.85" cy="699.05" r="4.0" fill="url(#g_blue)"/>
<line x1="800.86" y1="797.65" x2="989.53" y2="795.94" stroke="#e8101a" stroke-width="1.6"/>
<circle cx="800.86" cy="796.63" r="4.0" fill="url(#g_red)"/>
<circle cx="894.68" cy="800.04" r="4.0" fill="url(#g_red)"/>
<circle cx="949.61" cy="796.97" r="4.0" fill="url(#g_red)"/>
<circle cx="988.85" cy="796.28" r="4.0" fill="url(#g_red)"/>
<text transform="translate(853.00 681.60) rotate(4.5) scale(1.1 1)" font-size="12.5" text-anchor="middle" font-weight="bold" fill="#2a86ea">m = 0.167</text>
<text transform="translate(855.80 793.60) scale(1.05 1)" font-size="12.5" text-anchor="middle" font-weight="bold" fill="#e8101a">m = 0.006</text>
<circle cx="992.30" cy="655.00" r="3.8" fill="url(#g_red)"/>
<text transform="translate(1011.70 659.50) scale(1.05 1)" font-size="12.5" text-anchor="start" font-weight="bold" fill="#e8101a">HF</text>
<circle cx="992.30" cy="672.10" r="3.8" fill="url(#g_blue)"/>
<text transform="translate(1011.70 676.60) scale(1.05 1)" font-size="12.5" text-anchor="start" font-weight="bold" fill="#2a86ea">IF</text>
<text transform="translate(738.80 753.30) scale(1.04 1) rotate(-90) scale(1.065 1)" font-size="13" text-anchor="middle" font-weight="normal" fill="#000">ln(<tspan font-style="italic">R</tspan><tspan font-size="9" dy="3">p</tspan><tspan dy="-3">, Ω cm</tspan><tspan font-size="9" dy="-6">2</tspan><tspan dy="6">)</tspan></text>
<text transform="translate(902.50 903.00) scale(1.12 1)" font-size="13" text-anchor="middle" font-weight="normal" fill="#000">ln(<tspan font-style="italic">p</tspan><tspan font-size="9" dy="3">H2O</tspan><tspan dy="-3">, atm)</tspan></text>
<g fill="none" stroke-linecap="round" stroke-linejoin="round"><path d="M55.0,903.5 L71.0,903.5 M63.0,897.5 L63.0,904.5 L56.0,915.5 M63.0,905.5 L71.0,915.5 M75.8,900.5 L84.8,900.5 M80.3,897.0 L80.3,905.5 M76.8,897.5 L77.8,899.5 M83.8,897.5 L82.8,899.5 M75.8,907.5 L84.8,907.5 M79.8,905.5 L77.8,910.5 L83.8,915.5 M82.8,909.5 L76.8,915.5 M87.8,897.0 L85.8,903.5 M86.8,901.5 L93.8,901.5 M91.8,902.5 L86.8,915.5 M87.8,905.5 L93.8,915.5 M97.6,898.5 L103.6,898.5 L103.6,904.5 L97.6,904.5 L97.6,898.5 M100.6,904.5 L100.6,913.5 M97.6,908.5 L103.6,908.5 M96.6,914.5 L104.6,912.5 M105.6,900.5 L115.6,900.5 M110.6,897.0 L110.6,900.5 L105.6,905.5 M110.6,900.5 L115.6,904.5 M106.6,907.5 L115.6,907.5 M107.6,910.5 L114.6,910.5 L113.6,915.5 L111.6,914.5 M119.4,903.5 L125.4,903.5 M122.4,898.5 L122.4,912.5 M118.4,913.5 L126.4,910.5 M131.4,897.0 L131.4,898.5 M127.4,898.5 L137.4,898.5 M128.4,901.5 L136.4,901.5 M129.4,904.5 L135.4,904.5 L135.4,909.5 L129.4,909.5 L129.4,904.5 M129.4,907.0 L135.4,907.0 M131.4,909.5 L128.4,915.5 M133.4,909.5 L133.4,914.5 L137.4,914.5 M11.0,899.0 L14,896.5 L14,915 M19,907 A7.5,7.5 0 1 0 31,900" stroke="#d8d8d8" stroke-width="4.4"/><path d="M55.0,903.5 L71.0,903.5 M63.0,897.5 L63.0,904.5 L56.0,915.5 M63.0,905.5 L71.0,915.5 M75.8,900.5 L84.8,900.5 M80.3,897.0 L80.3,905.5 M76.8,897.5 L77.8,899.5 M83.8,897.5 L82.8,899.5 M75.8,907.5 L84.8,907.5 M79.8,905.5 L77.8,910.5 L83.8,915.5 M82.8,909.5 L76.8,915.5 M87.8,897.0 L85.8,903.5 M86.8,901.5 L93.8,901.5 M91.8,902.5 L86.8,915.5 M87.8,905.5 L93.8,915.5 M97.6,898.5 L103.6,898.5 L103.6,904.5 L97.6,904.5 L97.6,898.5 M100.6,904.5 L100.6,913.5 M97.6,908.5 L103.6,908.5 M96.6,914.5 L104.6,912.5 M105.6,900.5 L115.6,900.5 M110.6,897.0 L110.6,900.5 L105.6,905.5 M110.6,900.5 L115.6,904.5 M106.6,907.5 L115.6,907.5 M107.6,910.5 L114.6,910.5 L113.6,915.5 L111.6,914.5 M119.4,903.5 L125.4,903.5 M122.4,898.5 L122.4,912.5 M118.4,913.5 L126.4,910.5 M131.4,897.0 L131.4,898.5 M127.4,898.5 L137.4,898.5 M128.4,901.5 L136.4,901.5 M129.4,904.5 L135.4,904.5 L135.4,909.5 L129.4,909.5 L129.4,904.5 M129.4,907.0 L135.4,907.0 M131.4,909.5 L128.4,915.5 M133.4,909.5 L133.4,914.5 L137.4,914.5 M11.0,899.0 L14,896.5 L14,915 M19,907 A7.5,7.5 0 1 0 31,900" stroke="#ffffff" stroke-width="2.4"/><circle cx="31.5" cy="898" r="4.3" stroke="#dcdcdc" stroke-width="3"/><circle cx="40.5" cy="898.5" r="4.3" stroke="#dcdcdc" stroke-width="3"/><circle cx="31.5" cy="898" r="4.3" stroke="#fff" stroke-width="1.4"/><circle cx="40.5" cy="898.5" r="4.3" stroke="#fff" stroke-width="1.4"/></g>
</svg></body></html>
